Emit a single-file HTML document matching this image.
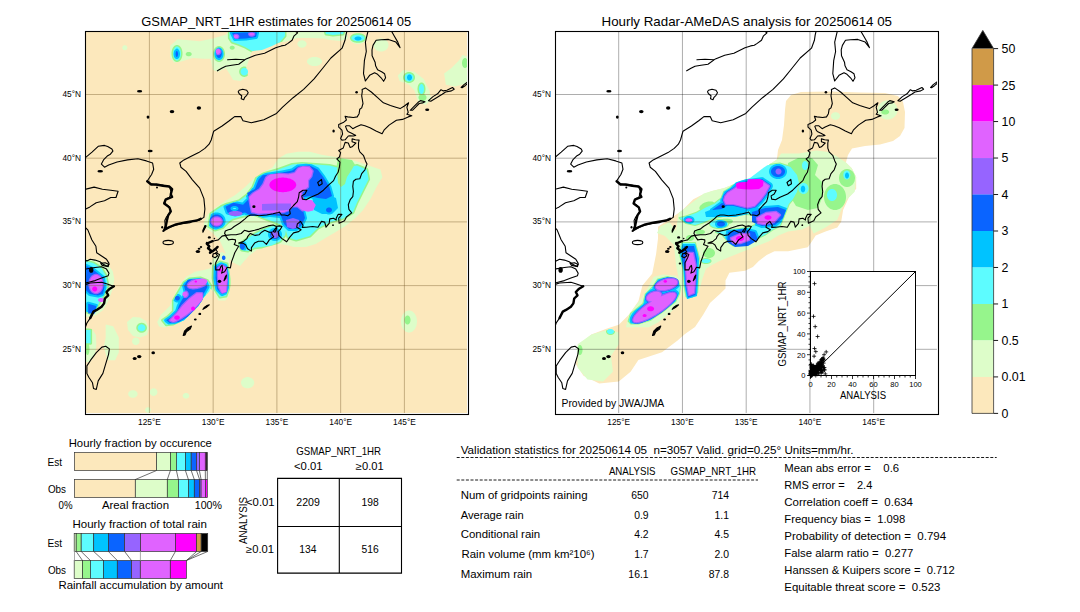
<!DOCTYPE html>
<html><head><meta charset="utf-8"><title>GSMaP validation</title>
<style>html,body{margin:0;padding:0;background:#fff;width:1080px;height:612px;overflow:hidden}svg{display:block}text{font-family:"Liberation Sans",sans-serif}</style></head>
<body><svg width="1080" height="612" viewBox="0 0 1080 612" shape-rendering="auto">
<rect x="0" y="0" width="1080" height="612" fill="#fff"/>
<defs><clipPath id="cl"><rect x="86" y="32" width="381" height="381"/></clipPath><clipPath id="cr"><rect x="556" y="32" width="381" height="381"/></clipPath></defs>
<rect x="86" y="32" width="381" height="381" fill="#fce8bc"/>
<path d="M127.2,46.9 127.1,46.7 127.0,46.6 127.0,46.5 126.9,46.3 126.8,46.2 126.7,46.1 126.6,45.9 126.4,45.8 126.3,45.7 126.2,45.6 126.1,45.5 125.9,45.5 125.8,45.4 125.6,45.3 125.4,45.3 125.3,45.2 125.1,45.2 125.0,45.2 124.8,45.2 124.6,45.2 124.5,45.2 124.3,45.2 124.2,45.3 124.0,45.3 123.8,45.4 123.7,45.5 123.6,45.5 123.4,45.6 123.3,45.7 123.2,45.8 123.0,45.9 122.9,46.1 122.8,46.2 122.7,46.3 122.6,46.5 122.6,46.6 122.5,46.7 122.4,46.9 122.4,47.1 122.3,47.2 122.3,47.4 122.3,47.5 122.3,47.7 122.3,47.9 122.3,48.0 122.3,48.2 122.4,48.3 122.4,48.5 122.5,48.7 122.6,48.8 122.6,49.0 122.7,49.1 122.8,49.2 122.9,49.3 123.0,49.5 123.2,49.6 123.3,49.7 123.4,49.8 123.6,49.9 123.7,49.9 123.8,50.0 124.0,50.1 124.2,50.1 124.3,50.2 124.5,50.2 124.6,50.2 124.8,50.2 125.0,50.2 125.1,50.2 125.3,50.2 125.4,50.1 125.6,50.1 125.8,50.0 125.9,49.9 126.1,49.9 126.2,49.8 126.3,49.7 126.4,49.6 126.6,49.5 126.7,49.3 126.8,49.2 126.9,49.1 127.0,49.0 127.0,48.8 127.1,48.7 127.2,48.5 127.2,48.3 127.3,48.2 127.3,48.0 127.3,47.9 127.3,47.7 127.3,47.5 127.3,47.4 127.3,47.2 127.2,47.1ZM107.8,302.0 112.7,289.0 114.3,279.2 112.7,271.0 107.8,264.5 96.3,259.6 86.0,259.6 86.0,316.7 89.8,316.7 96.3,315.1 102.9,310.2ZM185.9,277.1 178.8,286.1 173.4,296.9 169.8,305.9 160.8,314.9 157.2,322.0 159.0,326.5 164.4,327.4 173.4,325.6 180.6,322.0 187.7,314.9 194.9,305.9 202.1,298.7 207.5,293.3 209.3,287.9 214.7,293.3 218.3,300.5 225.5,300.5 229.1,295.1 230.9,282.5 229.1,266.3 229.1,258.1 232.0,262.0 240.1,265.9 245.1,260.0 249.0,255.7 256.9,249.8 266.7,246.9 278.4,243.9 286.3,244.9 294.1,246.9 305.9,246.9 315.7,243.9 325.5,238.0 335.3,232.2 345.1,226.3 354.9,218.4 362.7,210.6 370.6,198.8 376.5,187.1 382.4,177.3 380.4,169.4 368.6,165.5 356.9,161.6 347.1,158.6 333.3,156.7 321.6,154.7 309.8,151.8 298.0,151.8 286.3,153.7 278.4,158.6 272.5,167.5 262.7,172.4 252.9,179.2 245.1,187.1 235.3,194.9 225.5,200.8 215.7,207.6 207.8,214.5 203.9,222.4 203.9,226.3 211.8,232.2 219.6,240.0 226.0,254.0 226.1,254.1 221.9,252.0 212.9,257.4 212.0,262.0 211.1,268.1 203.9,269.9 194.9,271.7ZM146.0,321.0 140.0,317.5 133.0,317.0 127.0,322.0 128.0,330.0 133.0,336.0 140.0,337.5 147.0,335.0 149.0,328.0ZM139.2,339.9 139.1,339.7 139.0,339.4 138.9,339.2 138.7,339.0 138.6,338.9 138.4,338.7 138.2,338.5 138.1,338.4 137.9,338.2 137.6,338.1 137.4,338.0 137.2,337.9 137.0,337.8 136.8,337.7 136.5,337.7 136.3,337.6 136.0,337.6 135.8,337.6 135.6,337.6 135.3,337.6 135.1,337.7 134.8,337.7 134.6,337.8 134.4,337.9 134.2,338.0 133.9,338.1 133.7,338.2 133.5,338.4 133.4,338.5 133.2,338.7 133.0,338.9 132.9,339.0 132.7,339.2 132.6,339.4 132.5,339.7 132.4,339.9 132.3,340.1 132.2,340.3 132.2,340.6 132.1,340.8 132.1,341.1 132.1,341.3 132.1,341.5 132.1,341.8 132.2,342.0 132.2,342.3 132.3,342.5 132.4,342.7 132.5,342.9 132.6,343.1 132.7,343.4 132.9,343.6 133.0,343.7 133.2,343.9 133.4,344.1 133.5,344.2 133.7,344.4 133.9,344.5 134.2,344.6 134.4,344.7 134.6,344.8 134.8,344.9 135.1,344.9 135.3,345.0 135.6,345.0 135.8,345.0 136.0,345.0 136.3,345.0 136.5,344.9 136.8,344.9 137.0,344.8 137.2,344.7 137.4,344.6 137.6,344.5 137.9,344.4 138.1,344.2 138.2,344.1 138.4,343.9 138.6,343.7 138.7,343.6 138.9,343.4 139.0,343.1 139.1,342.9 139.2,342.7 139.3,342.5 139.4,342.3 139.4,342.0 139.5,341.8 139.5,341.5 139.5,341.3 139.5,341.1 139.5,340.8 139.4,340.6 139.4,340.3 139.3,340.1ZM118.8,352.6 118.8,337.6 113.2,326.3 105.7,324.4 105.7,337.6 103.8,347.0 107.6,360.2 115.1,360.2ZM96.0,335.0 92.0,329.0 86.0,328.1 86.0,362.0 90.0,362.0 95.0,355.0 96.3,345.0ZM157.2,390.9 157.1,390.6 157.0,390.4 156.9,390.2 156.8,390.0 156.6,389.8 156.5,389.6 156.3,389.4 156.1,389.2 155.9,389.1 155.7,388.9 155.5,388.8 155.3,388.7 155.1,388.6 154.8,388.5 154.6,388.4 154.3,388.4 154.1,388.3 153.8,388.3 153.6,388.3 153.4,388.3 153.1,388.3 152.9,388.4 152.6,388.4 152.4,388.5 152.1,388.6 151.9,388.7 151.7,388.8 151.5,388.9 151.3,389.1 151.1,389.2 150.9,389.4 150.7,389.6 150.6,389.8 150.4,390.0 150.3,390.2 150.2,390.4 150.1,390.6 150.0,390.9 149.9,391.1 149.9,391.4 149.8,391.6 149.8,391.9 149.8,392.1 149.8,392.3 149.8,392.6 149.9,392.8 149.9,393.1 150.0,393.3 150.1,393.6 150.2,393.8 150.3,394.0 150.4,394.2 150.6,394.4 150.7,394.6 150.9,394.8 151.1,395.0 151.3,395.1 151.5,395.3 151.7,395.4 151.9,395.5 152.1,395.6 152.4,395.7 152.6,395.8 152.9,395.8 153.1,395.9 153.4,395.9 153.6,395.9 153.8,395.9 154.1,395.9 154.3,395.8 154.6,395.8 154.8,395.7 155.1,395.6 155.3,395.5 155.5,395.4 155.7,395.3 155.9,395.1 156.1,395.0 156.3,394.8 156.5,394.6 156.6,394.4 156.8,394.2 156.9,394.0 157.0,393.8 157.1,393.6 157.2,393.3 157.3,393.1 157.3,392.8 157.4,392.6 157.4,392.3 157.4,392.1 157.4,391.9 157.4,391.6 157.3,391.4 157.3,391.1ZM137.2,392.5 137.1,392.3 137.0,392.1 136.8,391.9 136.6,391.7 136.4,391.5 136.2,391.3 136.0,391.1 135.8,391.0 135.5,390.8 135.2,390.7 135.0,390.6 134.7,390.5 134.4,390.4 134.1,390.3 133.8,390.3 133.5,390.2 133.2,390.2 132.9,390.2 132.6,390.2 132.3,390.2 132.0,390.3 131.7,390.3 131.4,390.4 131.1,390.5 130.8,390.6 130.6,390.7 130.3,390.8 130.0,391.0 129.8,391.1 129.6,391.3 129.4,391.5 129.2,391.7 129.0,391.9 128.8,392.1 128.7,392.3 128.6,392.5 128.4,392.8 128.4,393.0 128.3,393.3 128.2,393.5 128.2,393.8 128.2,394.0 128.2,394.2 128.2,394.5 128.3,394.7 128.4,395.0 128.4,395.2 128.6,395.5 128.7,395.7 128.8,395.9 129.0,396.1 129.2,396.3 129.4,396.5 129.6,396.7 129.8,396.9 130.0,397.0 130.3,397.2 130.6,397.3 130.8,397.4 131.1,397.5 131.4,397.6 131.7,397.7 132.0,397.7 132.3,397.8 132.6,397.8 132.9,397.8 133.2,397.8 133.5,397.8 133.8,397.7 134.1,397.7 134.4,397.6 134.7,397.5 135.0,397.4 135.2,397.3 135.5,397.2 135.8,397.0 136.0,396.9 136.2,396.7 136.4,396.5 136.6,396.3 136.8,396.1 137.0,395.9 137.1,395.7 137.2,395.5 137.4,395.2 137.4,395.0 137.5,394.7 137.6,394.5 137.6,394.2 137.6,394.0 137.6,393.8 137.6,393.5 137.5,393.3 137.4,393.0 137.4,392.8ZM189.0,394.7 189.0,394.6 188.9,394.4 188.7,394.2 188.6,394.1 188.5,394.0 188.3,393.8 188.2,393.7 188.0,393.6 187.8,393.5 187.6,393.4 187.5,393.3 187.3,393.2 187.1,393.1 186.9,393.1 186.6,393.1 186.4,393.0 186.2,393.0 186.0,393.0 185.8,393.0 185.6,393.0 185.4,393.1 185.1,393.1 184.9,393.1 184.7,393.2 184.5,393.3 184.4,393.4 184.2,393.5 184.0,393.6 183.8,393.7 183.7,393.8 183.5,394.0 183.4,394.1 183.3,394.2 183.1,394.4 183.0,394.6 183.0,394.7 182.9,394.9 182.8,395.1 182.8,395.3 182.7,395.4 182.7,395.6 182.7,395.8 182.7,396.0 182.7,396.2 182.8,396.3 182.8,396.5 182.9,396.7 183.0,396.9 183.0,397.0 183.1,397.2 183.3,397.4 183.4,397.5 183.5,397.6 183.7,397.8 183.8,397.9 184.0,398.0 184.2,398.1 184.4,398.2 184.5,398.3 184.7,398.4 184.9,398.5 185.1,398.5 185.4,398.5 185.6,398.6 185.8,398.6 186.0,398.6 186.2,398.6 186.4,398.6 186.6,398.5 186.9,398.5 187.1,398.5 187.3,398.4 187.5,398.3 187.6,398.2 187.8,398.1 188.0,398.0 188.2,397.9 188.3,397.8 188.5,397.6 188.6,397.5 188.7,397.4 188.9,397.2 189.0,397.0 189.0,396.9 189.1,396.7 189.2,396.5 189.2,396.3 189.3,396.2 189.3,396.0 189.3,395.8 189.3,395.6 189.3,395.4 189.2,395.3 189.2,395.1 189.1,394.9ZM150.7,409.1 150.6,408.9 150.5,408.8 150.4,408.6 150.3,408.4 150.2,408.3 150.1,408.2 150.0,408.0 149.8,407.9 149.7,407.8 149.6,407.7 149.4,407.6 149.2,407.5 149.1,407.4 148.9,407.3 148.7,407.3 148.5,407.3 148.4,407.2 148.2,407.2 148.0,407.2 147.8,407.2 147.6,407.2 147.5,407.3 147.3,407.3 147.1,407.3 146.9,407.4 146.8,407.5 146.6,407.6 146.4,407.7 146.3,407.8 146.2,407.9 146.0,408.0 145.9,408.2 145.8,408.3 145.7,408.4 145.6,408.6 145.5,408.8 145.4,408.9 145.3,409.1 145.3,409.3 145.3,409.5 145.2,409.6 145.2,409.8 145.2,410.0 145.2,410.2 145.2,410.4 145.3,410.5 145.3,410.7 145.3,410.9 145.4,411.1 145.5,411.2 145.6,411.4 145.7,411.6 145.8,411.7 145.9,411.8 146.0,412.0 146.2,412.1 146.3,412.2 146.4,412.3 146.6,412.4 146.8,412.5 146.9,412.6 147.1,412.7 147.3,412.7 147.5,412.7 147.6,412.8 147.8,412.8 148.0,412.8 148.2,412.8 148.4,412.8 148.5,412.7 148.7,412.7 148.9,412.7 149.1,412.6 149.2,412.5 149.4,412.4 149.6,412.3 149.7,412.2 149.8,412.1 150.0,412.0 150.1,411.8 150.2,411.7 150.3,411.6 150.4,411.4 150.5,411.2 150.6,411.1 150.7,410.9 150.7,410.7 150.7,410.5 150.8,410.4 150.8,410.2 150.8,410.0 150.8,409.8 150.8,409.6 150.7,409.5 150.7,409.3ZM366.0,36.7 365.9,36.4 365.6,36.1 365.4,35.8 365.1,35.4 364.7,35.2 364.4,34.9 364.0,34.6 363.6,34.4 363.2,34.1 362.7,33.9 362.2,33.7 361.8,33.6 361.3,33.4 360.7,33.3 360.2,33.2 359.7,33.1 359.1,33.0 358.6,33.0 358.0,33.0 357.4,33.0 356.9,33.0 356.3,33.1 355.8,33.2 355.3,33.3 354.7,33.4 354.2,33.6 353.8,33.7 353.3,33.9 352.8,34.1 352.4,34.4 352.0,34.6 351.6,34.9 351.3,35.2 350.9,35.4 350.6,35.8 350.4,36.1 350.1,36.4 350.0,36.7 349.8,37.1 349.7,37.4 349.6,37.8 349.5,38.1 349.5,38.5 349.5,38.9 349.6,39.2 349.7,39.6 349.8,39.9 350.0,40.3 350.1,40.6 350.4,40.9 350.6,41.2 350.9,41.6 351.3,41.8 351.6,42.1 352.0,42.4 352.4,42.6 352.8,42.9 353.3,43.1 353.8,43.3 354.2,43.4 354.7,43.6 355.3,43.7 355.8,43.8 356.3,43.9 356.9,44.0 357.4,44.0 358.0,44.0 358.6,44.0 359.1,44.0 359.7,43.9 360.2,43.8 360.7,43.7 361.3,43.6 361.8,43.4 362.2,43.3 362.7,43.1 363.2,42.9 363.6,42.6 364.0,42.4 364.4,42.1 364.7,41.8 365.1,41.6 365.4,41.2 365.6,40.9 365.9,40.6 366.0,40.3 366.2,39.9 366.3,39.6 366.4,39.2 366.5,38.9 366.5,38.5 366.5,38.1 366.4,37.8 366.3,37.4 366.2,37.1ZM306.4,42.8 306.2,42.6 306.1,42.4 306.0,42.2 305.8,41.9 305.6,41.7 305.5,41.6 305.3,41.4 305.0,41.2 304.8,41.1 304.6,40.9 304.3,40.8 304.0,40.7 303.8,40.6 303.5,40.5 303.2,40.4 302.9,40.4 302.6,40.3 302.3,40.3 302.0,40.3 301.7,40.3 301.4,40.3 301.1,40.4 300.8,40.4 300.5,40.5 300.2,40.6 300.0,40.7 299.7,40.8 299.4,40.9 299.2,41.1 299.0,41.2 298.7,41.4 298.5,41.6 298.4,41.7 298.2,41.9 298.0,42.2 297.9,42.4 297.8,42.6 297.6,42.8 297.6,43.0 297.5,43.3 297.4,43.5 297.4,43.8 297.4,44.0 297.4,44.2 297.4,44.5 297.5,44.7 297.6,45.0 297.6,45.2 297.8,45.4 297.9,45.6 298.0,45.8 298.2,46.1 298.4,46.3 298.5,46.4 298.7,46.6 299.0,46.8 299.2,46.9 299.4,47.1 299.7,47.2 300.0,47.3 300.2,47.4 300.5,47.5 300.8,47.6 301.1,47.6 301.4,47.7 301.7,47.7 302.0,47.7 302.3,47.7 302.6,47.7 302.9,47.6 303.2,47.6 303.5,47.5 303.8,47.4 304.0,47.3 304.3,47.2 304.6,47.1 304.8,46.9 305.0,46.8 305.3,46.6 305.5,46.4 305.6,46.3 305.8,46.1 306.0,45.8 306.1,45.6 306.2,45.4 306.4,45.2 306.4,45.0 306.5,44.7 306.6,44.5 306.6,44.2 306.6,44.0 306.6,43.8 306.6,43.5 306.5,43.3 306.4,43.0ZM387.9,42.5 387.7,42.1 387.5,41.8 387.2,41.4 387.0,41.0 386.6,40.7 386.3,40.4 385.9,40.1 385.6,39.8 385.2,39.6 384.8,39.4 384.3,39.2 383.9,39.0 383.4,38.8 382.9,38.7 382.5,38.6 382.0,38.6 381.5,38.5 381.0,38.5 380.5,38.5 380.0,38.6 379.5,38.6 379.1,38.7 378.6,38.8 378.1,39.0 377.7,39.2 377.2,39.4 376.8,39.6 376.4,39.8 376.1,40.1 375.7,40.4 375.4,40.7 375.0,41.0 374.8,41.4 374.5,41.8 374.3,42.1 374.1,42.5 373.9,42.9 373.8,43.3 373.6,43.7 373.6,44.2 373.5,44.6 373.5,45.0 373.5,45.4 373.6,45.8 373.6,46.3 373.8,46.7 373.9,47.1 374.1,47.5 374.3,47.9 374.5,48.2 374.8,48.6 375.0,49.0 375.4,49.3 375.7,49.6 376.1,49.9 376.4,50.2 376.8,50.4 377.2,50.6 377.7,50.8 378.1,51.0 378.6,51.2 379.1,51.3 379.5,51.4 380.0,51.4 380.5,51.5 381.0,51.5 381.5,51.5 382.0,51.4 382.5,51.4 382.9,51.3 383.4,51.2 383.9,51.0 384.3,50.8 384.8,50.6 385.2,50.4 385.6,50.2 385.9,49.9 386.3,49.6 386.6,49.3 387.0,49.0 387.2,48.6 387.5,48.2 387.7,47.9 387.9,47.5 388.1,47.1 388.2,46.7 388.4,46.3 388.4,45.8 388.5,45.4 388.5,45.0 388.5,44.6 388.4,44.2 388.4,43.7 388.2,43.3 388.1,42.9ZM210.9,58.8 212.8,69.9 218.3,71.7 225.7,68.0 229.4,73.6 233.1,80.1 240.6,81.0 248.0,75.4 246.1,68.0 248.0,62.5 251.7,51.4 260.9,48.6 270.2,45.8 281.3,42.1 285.0,42.1 297.0,38.0 310.0,38.0 323.7,38.4 330.0,40.0 340.0,41.0 347.8,38.4 346.3,32.0 228.2,32.0 225.7,34.7 212.8,38.4 199.8,41.2 188.7,40.3 177.6,39.3 170.2,45.8 170.2,56.9 173.9,62.5 181.3,61.6 192.4,57.9 203.5,58.8ZM321.6,60.0 321.4,59.7 321.2,59.5 321.0,59.2 320.7,58.9 320.5,58.7 320.1,58.5 319.8,58.2 319.4,58.0 319.1,57.9 318.7,57.7 318.2,57.5 317.8,57.4 317.4,57.3 316.9,57.1 316.4,57.1 316.0,57.0 315.5,56.9 315.0,56.9 314.5,56.9 314.0,56.9 313.5,56.9 313.0,57.0 312.6,57.1 312.1,57.1 311.6,57.3 311.2,57.4 310.8,57.5 310.3,57.7 309.9,57.9 309.6,58.0 309.2,58.2 308.9,58.5 308.5,58.7 308.3,58.9 308.0,59.2 307.8,59.5 307.6,59.7 307.4,60.0 307.3,60.3 307.1,60.6 307.1,60.9 307.0,61.2 307.0,61.5 307.0,61.8 307.1,62.1 307.1,62.4 307.3,62.7 307.4,63.0 307.6,63.3 307.8,63.5 308.0,63.8 308.3,64.1 308.5,64.3 308.9,64.5 309.2,64.8 309.6,65.0 309.9,65.1 310.3,65.3 310.8,65.5 311.2,65.6 311.6,65.7 312.1,65.9 312.6,65.9 313.0,66.0 313.5,66.1 314.0,66.1 314.5,66.1 315.0,66.1 315.5,66.1 316.0,66.0 316.4,65.9 316.9,65.9 317.4,65.7 317.8,65.6 318.2,65.5 318.7,65.3 319.1,65.1 319.4,65.0 319.8,64.8 320.1,64.5 320.5,64.3 320.7,64.1 321.0,63.8 321.2,63.5 321.4,63.3 321.6,63.0 321.7,62.7 321.9,62.4 321.9,62.1 322.0,61.8 322.0,61.5 322.0,61.2 321.9,60.9 321.9,60.6 321.7,60.3ZM467.0,83.2 467.0,56.6 462.6,55.1 458.9,60.6 451.5,68.0 444.1,73.6 445.9,84.7 455.2,86.6ZM425.6,105.1 431.1,99.5 429.3,90.3 423.7,79.1 414.4,71.7 403.3,69.9 397.8,75.4 399.6,81.0 408.9,84.7 414.4,90.3 418.1,101.4ZM416.4,317.3 416.2,316.6 415.9,316.0 415.7,315.4 415.3,314.8 415.0,314.2 414.7,313.7 414.3,313.2 413.9,312.8 413.4,312.4 413.0,312.0 412.5,311.6 412.1,311.3 411.6,311.1 411.1,310.9 410.6,310.7 410.0,310.6 409.5,310.5 409.0,310.5 408.5,310.5 408.0,310.6 407.4,310.7 406.9,310.9 406.4,311.1 405.9,311.3 405.5,311.6 405.0,312.0 404.6,312.4 404.1,312.8 403.7,313.2 403.3,313.7 403.0,314.2 402.7,314.8 402.3,315.4 402.1,316.0 401.8,316.6 401.6,317.3 401.4,318.0 401.3,318.7 401.2,319.4 401.1,320.1 401.0,320.8 401.0,321.5 401.0,322.2 401.1,322.9 401.2,323.6 401.3,324.3 401.4,325.0 401.6,325.7 401.8,326.4 402.1,327.0 402.3,327.6 402.7,328.2 403.0,328.8 403.3,329.3 403.7,329.8 404.1,330.2 404.6,330.6 405.0,331.0 405.5,331.4 405.9,331.7 406.4,331.9 406.9,332.1 407.4,332.3 408.0,332.4 408.5,332.5 409.0,332.5 409.5,332.5 410.0,332.4 410.6,332.3 411.1,332.1 411.6,331.9 412.1,331.7 412.5,331.4 413.0,331.0 413.4,330.6 413.9,330.2 414.3,329.8 414.7,329.3 415.0,328.8 415.3,328.2 415.7,327.6 415.9,327.0 416.2,326.4 416.4,325.7 416.6,325.0 416.7,324.3 416.8,323.6 416.9,322.9 417.0,322.2 417.0,321.5 417.0,320.8 416.9,320.1 416.8,319.4 416.7,318.7 416.6,318.0ZM253.7,380.6 253.5,380.2 253.3,379.9 253.1,379.6 252.8,379.3 252.6,379.0 252.3,378.7 252.0,378.5 251.6,378.3 251.3,378.0 250.9,377.9 250.5,377.7 250.1,377.5 249.7,377.4 249.3,377.3 248.9,377.2 248.5,377.1 248.0,377.1 247.6,377.1 247.2,377.1 246.7,377.1 246.3,377.2 245.9,377.3 245.5,377.4 245.1,377.5 244.7,377.7 244.3,377.9 243.9,378.0 243.6,378.3 243.2,378.5 242.9,378.7 242.6,379.0 242.4,379.3 242.1,379.6 241.9,379.9 241.7,380.2 241.5,380.6 241.4,380.9 241.2,381.3 241.1,381.6 241.1,382.0 241.0,382.3 241.0,382.7 241.0,383.1 241.1,383.4 241.1,383.8 241.2,384.1 241.4,384.5 241.5,384.8 241.7,385.2 241.9,385.5 242.1,385.8 242.4,386.1 242.6,386.4 242.9,386.7 243.2,386.9 243.6,387.1 243.9,387.4 244.3,387.5 244.7,387.7 245.1,387.9 245.5,388.0 245.9,388.1 246.3,388.2 246.7,388.3 247.2,388.3 247.6,388.3 248.0,388.3 248.5,388.3 248.9,388.2 249.3,388.1 249.7,388.0 250.1,387.9 250.5,387.7 250.9,387.5 251.3,387.4 251.6,387.1 252.0,386.9 252.3,386.7 252.6,386.4 252.8,386.1 253.1,385.8 253.3,385.5 253.5,385.2 253.7,384.8 253.8,384.5 254.0,384.1 254.1,383.8 254.1,383.4 254.2,383.1 254.2,382.7 254.2,382.3 254.1,382.0 254.1,381.6 254.0,381.3 253.8,380.9Z" fill="#ddfdc9"/>
<path d="M234.4,46.8 234.4,46.7 234.3,46.6 234.2,46.5 234.1,46.4 234.0,46.3 233.8,46.2 233.7,46.1 233.6,46.0 233.4,46.0 233.3,45.9 233.2,45.9 233.0,45.8 232.8,45.8 232.7,45.7 232.5,45.7 232.4,45.7 232.2,45.7 232.0,45.7 231.9,45.7 231.7,45.7 231.6,45.8 231.4,45.8 231.2,45.9 231.1,45.9 230.9,46.0 230.8,46.0 230.7,46.1 230.6,46.2 230.4,46.3 230.3,46.4 230.2,46.5 230.1,46.6 230.0,46.7 230.0,46.8 229.9,46.9 229.8,47.1 229.8,47.2 229.7,47.3 229.7,47.4 229.7,47.6 229.7,47.7 229.7,47.8 229.7,48.0 229.7,48.1 229.8,48.2 229.8,48.3 229.9,48.5 230.0,48.6 230.0,48.7 230.1,48.8 230.2,48.9 230.3,49.0 230.4,49.1 230.6,49.2 230.7,49.3 230.8,49.4 230.9,49.4 231.1,49.5 231.2,49.5 231.4,49.6 231.6,49.6 231.7,49.7 231.9,49.7 232.0,49.7 232.2,49.7 232.4,49.7 232.5,49.7 232.7,49.7 232.8,49.6 233.0,49.6 233.2,49.5 233.3,49.5 233.4,49.4 233.6,49.4 233.7,49.3 233.8,49.2 234.0,49.1 234.1,49.0 234.2,48.9 234.3,48.8 234.4,48.7 234.4,48.6 234.5,48.5 234.6,48.3 234.6,48.2 234.7,48.1 234.7,48.0 234.7,47.8 234.7,47.7 234.7,47.6 234.7,47.4 234.7,47.3 234.6,47.2 234.6,47.1 234.5,46.9ZM182.0,50.0 182.0,50.0 181.9,49.6 181.9,49.5 181.7,49.1 181.7,49.0 181.6,48.7 181.5,48.6 181.4,48.2 181.3,48.2 181.2,47.8 181.1,47.8 180.9,47.5 180.9,47.4 180.7,47.1 180.6,47.0 180.4,46.7 180.3,46.7 180.1,46.4 180.0,46.3 179.8,46.1 179.7,46.0 179.5,45.9 179.4,45.8 179.1,45.6 179.0,45.5 178.7,45.4 178.6,45.3 178.3,45.2 178.2,45.2 177.9,45.1 177.8,45.1 177.5,45.0 177.3,45.0 177.1,45.0 176.9,45.0 176.7,45.0 176.5,45.0 176.2,45.1 176.1,45.1 175.8,45.2 175.7,45.2 175.4,45.3 175.3,45.4 175.0,45.5 174.9,45.6 174.6,45.8 174.5,45.9 174.3,46.0 174.2,46.1 174.0,46.3 173.9,46.4 173.7,46.7 173.6,46.7 173.4,47.0 173.3,47.1 173.1,47.4 173.1,47.5 172.9,47.8 172.8,47.8 172.7,48.2 172.6,48.2 172.5,48.6 172.4,48.7 172.3,49.0 172.3,49.1 172.1,49.5 172.1,49.6 172.0,50.0 172.0,50.0 171.9,50.4 171.8,50.5 171.7,50.9 171.7,51.0 171.7,51.4 171.6,51.5 171.6,51.9 171.6,52.0 171.5,52.4 171.5,52.5 171.5,53.0 171.5,53.0 171.5,53.5 171.5,53.5 171.5,54.0 171.5,54.0 171.5,54.5 171.5,54.6 171.6,55.0 171.6,55.1 171.6,55.5 171.7,55.6 171.7,56.0 171.7,56.1 171.8,56.5 171.9,56.6 172.0,57.0 172.0,57.0 172.1,57.4 172.1,57.5 172.3,57.9 172.3,58.0 172.4,58.3 172.5,58.4 172.6,58.8 172.7,58.8 172.8,59.2 172.9,59.2 173.1,59.5 173.1,59.6 173.3,59.9 173.4,60.0 173.6,60.3 173.7,60.3 173.9,60.6 174.0,60.7 174.2,60.9 174.3,61.0 174.5,61.1 174.6,61.2 174.9,61.4 175.0,61.5 175.3,61.6 175.4,61.7 175.7,61.8 175.8,61.8 176.1,61.9 176.2,61.9 176.5,62.0 176.7,62.0 176.9,62.0 177.1,62.0 177.3,62.0 177.5,62.0 177.8,61.9 177.9,61.9 178.2,61.8 178.3,61.8 178.6,61.7 178.7,61.6 179.0,61.5 179.1,61.4 179.4,61.2 179.5,61.1 179.7,61.0 179.8,60.9 180.0,60.7 180.1,60.6 180.3,60.3 180.4,60.3 180.6,60.0 180.7,59.9 180.9,59.6 180.9,59.5 181.1,59.2 181.2,59.2 181.3,58.8 181.4,58.8 181.5,58.4 181.6,58.3 181.7,58.0 181.7,57.9 181.9,57.5 181.9,57.4 182.0,57.0 182.0,57.0 182.1,56.6 182.2,56.5 182.3,56.1 182.3,56.0 182.3,55.6 182.4,55.5 182.4,55.1 182.4,55.0 182.5,54.6 182.5,54.5 182.5,54.0 182.5,54.0 182.5,53.5 182.5,53.5 182.5,53.0 182.5,53.0 182.5,52.5 182.5,52.4 182.4,52.0 182.4,51.9 182.4,51.5 182.3,51.4 182.3,51.0 182.3,50.9 182.2,50.5 182.1,50.4ZM224.3,50.2 224.3,50.2 224.1,49.8 224.1,49.7 223.9,49.4 223.9,49.3 223.7,49.0 223.6,48.9 223.4,48.6 223.4,48.5 223.2,48.2 223.1,48.1 222.9,47.9 222.8,47.8 222.6,47.6 222.5,47.5 222.3,47.3 222.2,47.2 221.9,47.0 221.8,46.9 221.5,46.7 221.4,46.7 221.2,46.5 221.0,46.5 220.8,46.3 220.6,46.3 220.4,46.2 220.2,46.2 219.9,46.1 219.8,46.1 219.5,46.0 219.4,46.0 219.1,46.0 218.9,46.0 218.6,46.0 218.5,46.0 218.2,46.1 218.1,46.1 217.8,46.2 217.6,46.2 217.4,46.3 217.2,46.3 217.0,46.5 216.8,46.5 216.6,46.7 216.5,46.7 216.2,46.9 216.1,47.0 215.8,47.2 215.7,47.3 215.5,47.5 215.4,47.6 215.2,47.8 215.1,47.9 214.9,48.1 214.8,48.2 214.6,48.5 214.6,48.6 214.4,48.9 214.3,49.0 214.1,49.3 214.1,49.4 213.9,49.7 213.9,49.8 213.7,50.2 213.7,50.2 213.6,50.6 213.5,50.7 213.4,51.1 213.4,51.1 213.3,51.5 213.3,51.6 213.2,52.0 213.2,52.1 213.1,52.5 213.1,52.6 213.0,53.0 213.0,53.0 213.0,53.5 213.0,53.5 213.0,54.0 213.0,54.0 213.0,54.5 213.0,54.5 213.0,55.0 213.0,55.0 213.1,55.4 213.1,55.5 213.2,55.9 213.2,56.0 213.3,56.4 213.3,56.5 213.4,56.9 213.4,56.9 213.5,57.3 213.6,57.4 213.7,57.8 213.7,57.8 213.9,58.2 213.9,58.3 214.1,58.6 214.1,58.7 214.3,59.0 214.4,59.1 214.6,59.4 214.6,59.5 214.8,59.8 214.9,59.9 215.1,60.1 215.2,60.2 215.4,60.4 215.5,60.5 215.7,60.7 215.8,60.8 216.1,61.0 216.2,61.1 216.5,61.3 216.6,61.3 216.8,61.5 217.0,61.5 217.2,61.7 217.4,61.7 217.6,61.8 217.8,61.8 218.1,61.9 218.2,61.9 218.5,62.0 218.6,62.0 218.9,62.0 219.1,62.0 219.4,62.0 219.5,62.0 219.8,61.9 219.9,61.9 220.2,61.8 220.4,61.8 220.6,61.7 220.8,61.7 221.0,61.5 221.2,61.5 221.4,61.3 221.5,61.3 221.8,61.1 221.9,61.0 222.2,60.8 222.3,60.7 222.5,60.5 222.6,60.4 222.8,60.2 222.9,60.1 223.1,59.9 223.2,59.8 223.4,59.5 223.4,59.4 223.6,59.1 223.7,59.0 223.9,58.7 223.9,58.6 224.1,58.3 224.1,58.2 224.3,57.8 224.3,57.8 224.4,57.4 224.5,57.3 224.6,56.9 224.6,56.9 224.7,56.5 224.7,56.4 224.8,56.0 224.8,55.9 224.9,55.5 224.9,55.4 225.0,55.0 225.0,55.0 225.0,54.5 225.0,54.5 225.0,54.0 225.0,54.0 225.0,53.5 225.0,53.5 225.0,53.0 225.0,53.0 224.9,52.6 224.9,52.5 224.8,52.1 224.8,52.0 224.7,51.6 224.7,51.5 224.6,51.1 224.6,51.1 224.5,50.7 224.4,50.6ZM191.2,52.9 191.1,52.8 191.0,52.6 190.8,52.5 190.7,52.4 190.5,52.4 190.4,52.3 190.2,52.2 190.0,52.1 189.8,52.1 189.7,52.0 189.5,52.0 189.3,51.9 189.1,51.9 188.9,51.9 188.7,51.9 188.5,51.9 188.3,51.9 188.1,51.9 187.9,52.0 187.7,52.0 187.6,52.1 187.4,52.1 187.2,52.2 187.0,52.3 186.9,52.4 186.7,52.4 186.6,52.5 186.4,52.6 186.3,52.8 186.2,52.9 186.1,53.0 186.0,53.1 185.9,53.3 185.9,53.4 185.8,53.5 185.8,53.7 185.7,53.8 185.7,54.0 185.7,54.1 185.7,54.2 185.7,54.4 185.8,54.5 185.8,54.7 185.9,54.8 185.9,54.9 186.0,55.1 186.1,55.2 186.2,55.3 186.3,55.4 186.4,55.6 186.6,55.7 186.7,55.8 186.9,55.8 187.0,55.9 187.2,56.0 187.4,56.1 187.6,56.1 187.7,56.2 187.9,56.2 188.1,56.3 188.3,56.3 188.5,56.3 188.7,56.3 188.9,56.3 189.1,56.3 189.3,56.3 189.5,56.2 189.7,56.2 189.8,56.1 190.0,56.1 190.2,56.0 190.4,55.9 190.5,55.8 190.7,55.8 190.8,55.7 191.0,55.6 191.1,55.4 191.2,55.3 191.3,55.2 191.4,55.1 191.5,54.9 191.5,54.8 191.6,54.7 191.6,54.5 191.7,54.4 191.7,54.2 191.7,54.1 191.7,54.0 191.7,53.8 191.6,53.7 191.6,53.5 191.5,53.4 191.5,53.3 191.4,53.1 191.3,53.0ZM245.4,66.6 245.3,66.6 245.0,66.6 244.9,66.5 244.7,66.5 244.6,66.5 244.3,66.5 244.3,66.5 244.0,66.5 243.9,66.5 243.7,66.5 243.6,66.6 243.3,66.6 243.2,66.6 243.0,66.7 242.9,66.7 242.7,66.8 242.6,66.8 242.4,66.9 242.3,66.9 242.0,67.0 242.0,67.1 241.7,67.2 241.7,67.2 241.5,67.3 241.4,67.4 241.2,67.5 241.1,67.6 240.9,67.8 240.8,67.8 240.7,68.0 240.6,68.1 240.4,68.2 240.4,68.3 240.2,68.5 240.1,68.6 240.0,68.8 239.9,68.9 239.8,69.1 239.8,69.1 239.7,69.4 239.6,69.4 239.5,69.7 239.5,69.8 239.4,70.0 239.4,70.1 239.3,70.3 239.3,70.4 239.2,70.6 239.2,70.7 239.2,71.0 239.1,71.1 239.1,71.3 239.1,71.4 239.1,71.7 239.1,71.7 239.1,72.0 239.1,72.1 239.1,72.3 239.2,72.4 239.2,72.7 239.2,72.8 239.3,73.0 239.3,73.1 239.4,73.3 239.4,73.4 239.5,73.6 239.5,73.7 239.6,74.0 239.7,74.0 239.8,74.3 239.8,74.3 239.9,74.5 240.0,74.6 240.1,74.8 240.2,74.9 240.4,75.1 240.4,75.2 240.6,75.3 240.7,75.4 240.8,75.6 240.9,75.6 241.1,75.8 241.2,75.9 241.4,76.0 241.5,76.1 241.7,76.2 241.7,76.2 242.0,76.3 242.0,76.4 242.3,76.5 242.4,76.5 242.6,76.6 242.7,76.6 242.9,76.7 243.0,76.7 243.2,76.8 243.3,76.8 243.6,76.8 243.7,76.9 243.9,76.9 244.0,76.9 244.3,76.9 244.3,76.9 244.6,76.9 244.7,76.9 244.9,76.9 245.0,76.8 245.3,76.8 245.4,76.8 245.6,76.7 245.7,76.7 245.9,76.6 246.0,76.6 246.2,76.5 246.3,76.5 246.6,76.4 246.6,76.3 246.9,76.2 246.9,76.2 247.1,76.1 247.8,75.6 247.8,75.6 247.9,75.4 248.0,75.4 246.1,68.0 246.5,67.0 246.3,66.9 246.2,66.9 246.0,66.8 245.9,66.8 245.7,66.7 245.6,66.7ZM228.3,263.3 228.3,263.2 228.2,263.1 228.1,262.9 227.9,262.8 227.8,262.7 227.7,262.7 227.6,262.6 227.4,262.6 220.4,260.6 220.3,260.5 220.1,260.5 220.0,260.5 219.8,260.5 219.6,260.5 219.5,260.6 219.4,260.6 219.2,260.7 212.7,264.7 212.6,264.8 212.5,264.9 212.4,265.0 212.3,265.1 212.2,265.2 212.1,265.4 212.1,265.5 212.0,265.6 212.0,265.8 212.0,265.9 211.5,277.9 211.5,278.1 211.5,278.2 211.5,278.3 214.0,290.3 214.1,290.4 214.1,290.6 214.2,290.7 214.2,290.8 218.7,297.8 218.8,297.9 218.9,298.0 219.0,298.1 219.1,298.2 219.3,298.3 219.4,298.4 219.5,298.4 219.7,298.5 219.8,298.5 220.0,298.5 220.1,298.5 220.2,298.5 226.2,297.5 226.4,297.4 226.5,297.4 226.7,297.4 226.8,297.3 226.9,297.2 227.0,297.1 227.1,297.0 227.2,296.9 227.3,296.8 227.3,296.7 227.4,296.5 229.8,290.1 230.5,285.3 230.5,278.9 229.3,268.5 228.5,263.7 228.4,263.6 228.4,263.4ZM109.3,286.0 109.3,285.9 109.3,285.7 109.3,285.6 109.3,285.4 107.6,275.6 107.5,275.5 107.5,275.4 107.5,275.2 107.4,275.1 102.5,267.0 102.4,266.9 102.3,266.8 102.2,266.7 102.1,266.6 102.0,266.5 93.9,261.6 93.7,261.5 93.6,261.5 93.4,261.4 86.0,259.7 86.0,313.2 86.0,313.2 90.9,314.9 91.1,315.0 91.2,315.0 91.4,315.0 91.5,315.0 91.7,315.0 91.8,314.9 92.0,314.9 92.1,314.8 92.2,314.8 92.3,314.7 92.5,314.6 97.4,309.7 97.5,309.5 97.6,309.4 97.6,309.3 100.9,302.7 105.8,294.7 105.8,294.6 105.9,294.5 109.2,286.3 109.2,286.1ZM212.6,285.8 212.5,285.7 212.5,285.5 212.4,285.4 212.3,285.3 208.7,279.9 208.7,279.7 208.5,279.6 208.4,279.5 208.3,279.4 208.2,279.4 208.0,279.3 200.8,276.6 200.7,276.6 200.6,276.5 200.4,276.5 200.3,276.5 200.2,276.5 189.4,277.4 189.2,277.4 189.1,277.5 188.9,277.5 188.8,277.6 188.7,277.7 183.3,281.3 183.2,281.3 183.1,281.4 183.0,281.5 182.9,281.6 182.8,281.7 177.5,290.7 172.6,299.0 171.9,300.6 171.9,310.7 167.0,315.5 161.8,319.1 161.6,319.1 161.5,319.2 161.4,319.3 161.4,319.5 161.3,319.6 161.2,319.7 161.2,319.9 161.1,320.0 161.1,320.2 161.1,320.3 161.1,320.4 161.1,320.6 161.2,320.7 161.2,320.9 161.3,321.0 161.4,321.1 161.4,321.2 165.0,325.6 165.1,325.8 165.2,325.9 165.4,325.9 165.5,326.0 165.6,326.1 165.8,326.1 165.9,326.2 166.0,326.2 166.2,326.2 166.3,326.2 173.5,325.6 180.6,322.0 187.7,314.9 194.9,305.9 202.1,298.7 207.5,293.3 209.3,287.9 211.4,290.0 212.5,286.6 212.6,286.4 212.6,286.3 212.6,286.1 212.6,286.0ZM146.1,325.2 146.0,325.0 145.9,324.9 145.8,324.7 145.7,324.7 145.6,324.5 145.5,324.4 145.3,324.3 145.3,324.2 145.1,324.0 145.0,324.0 144.8,323.8 144.7,323.8 144.5,323.6 144.5,323.6 144.2,323.5 144.2,323.4 143.9,323.3 143.9,323.3 143.6,323.2 143.5,323.1 143.3,323.1 143.2,323.0 143.0,323.0 142.9,323.0 142.7,322.9 142.6,322.9 142.3,322.8 142.2,322.8 142.0,322.8 141.9,322.8 141.6,322.8 141.6,322.8 141.3,322.8 141.2,322.8 141.0,322.8 140.9,322.8 140.6,322.9 140.5,322.9 140.3,323.0 140.2,323.0 140.0,323.0 139.9,323.1 139.7,323.1 139.6,323.2 139.3,323.3 139.3,323.3 139.0,323.4 139.0,323.5 138.7,323.6 138.7,323.6 138.5,323.8 138.4,323.8 138.2,324.0 138.1,324.0 137.9,324.2 137.9,324.3 137.7,324.4 137.6,324.5 137.5,324.7 137.4,324.7 137.3,324.9 137.2,325.0 137.1,325.2 137.0,325.3 136.9,325.5 136.8,325.6 136.7,325.8 136.7,325.9 136.6,326.1 136.6,326.2 136.5,326.4 136.5,326.5 136.4,326.7 136.4,326.9 136.4,327.1 136.3,327.2 136.3,327.4 136.3,327.5 136.3,327.7 136.3,327.9 136.3,328.1 136.3,328.2 136.3,328.4 136.4,328.5 136.4,328.7 136.4,328.9 136.5,329.1 136.5,329.2 136.6,329.4 136.6,329.5 136.7,329.7 136.7,329.8 136.8,330.0 136.9,330.1 137.0,330.3 137.1,330.4 137.2,330.6 137.3,330.7 137.4,330.9 137.5,330.9 137.6,331.1 137.7,331.2 137.9,331.3 137.9,331.4 138.1,331.6 138.2,331.6 138.4,331.8 138.5,331.8 138.7,332.0 138.7,332.0 139.0,332.1 139.0,332.2 139.3,332.3 139.3,332.3 139.6,332.4 139.7,332.5 139.9,332.5 140.0,332.6 140.2,332.6 140.3,332.6 140.5,332.7 140.6,332.7 140.9,332.8 141.0,332.8 141.2,332.8 141.3,332.8 141.6,332.8 141.6,332.8 141.9,332.8 142.0,332.8 142.2,332.8 142.3,332.8 142.6,332.7 142.7,332.7 142.9,332.6 143.0,332.6 143.2,332.6 143.3,332.5 143.5,332.5 143.6,332.4 143.9,332.3 143.9,332.3 144.2,332.2 144.2,332.1 144.5,332.0 144.5,332.0 144.7,331.8 144.8,331.8 145.0,331.6 145.1,331.6 145.3,331.4 145.3,331.3 145.5,331.2 145.6,331.1 145.7,330.9 145.8,330.9 145.9,330.7 146.0,330.6 146.1,330.4 146.2,330.3 146.3,330.1 146.4,330.0 146.5,329.8 146.5,329.7 146.6,329.5 146.6,329.4 146.7,329.2 146.7,329.1 146.8,328.9 146.8,328.7 146.8,328.5 146.9,328.4 146.9,328.2 146.9,328.1 146.9,327.9 146.9,327.7 146.9,327.5 146.9,327.4 146.9,327.2 146.8,327.1 146.8,326.9 146.8,326.7 146.7,326.5 146.7,326.4 146.6,326.2 146.6,326.1 146.5,325.9 146.5,325.8 146.4,325.6 146.3,325.5 146.2,325.3ZM91.4,344.4 91.6,344.4 91.7,344.3 91.8,344.2 91.8,344.0 91.9,343.9 92.0,343.8 92.0,343.6 92.1,343.5 92.1,343.3 92.1,343.2 92.1,330.0 92.1,329.9 92.1,329.7 92.0,329.6 92.0,329.4 91.9,329.3 91.8,329.2 91.8,329.0 91.7,328.9 88.8,328.5 86.0,328.5 86.0,344.7 86.1,344.7 86.1,344.8 86.0,345.0 86.0,353.0 86.1,353.2 86.2,353.5 86.3,353.8 86.4,354.0 86.5,354.2 86.6,354.4 86.7,354.5 86.9,354.7 87.0,354.8 87.1,354.9 87.2,354.9 87.4,355.0 87.5,355.0 87.6,355.0 87.8,354.9 87.9,354.9 88.0,354.8 88.1,354.7 88.3,354.5 88.4,354.4 88.5,354.2 88.6,354.0 88.7,353.8 88.8,353.5 88.9,353.2 89.0,353.0 89.1,352.7 89.2,352.3 89.2,352.0 89.3,351.7 89.3,351.3 89.4,350.9 89.4,350.6 89.5,350.2 89.5,349.8 89.5,349.4 89.5,349.0 89.5,348.6 89.5,348.2 89.5,347.8 89.4,347.4 89.4,347.1 89.3,346.7 89.3,346.3 89.2,346.0 89.2,345.7 89.1,345.3 89.0,345.0 88.9,344.8 88.9,344.7 90.6,344.7 90.7,344.7 90.9,344.7 91.0,344.6 91.2,344.6 91.3,344.5ZM324.6,34.6 324.7,34.7 324.7,34.8 324.8,34.9 324.9,35.0 325.0,35.1 325.1,35.2 325.3,35.3 325.4,35.4 325.5,35.4 325.6,35.5 325.8,35.5 332.8,36.5 333.0,36.5 333.1,36.5 343.1,35.5 343.3,35.5 343.4,35.4 343.6,35.4 343.7,35.3 343.8,35.2 344.0,35.2 344.1,35.1 344.2,35.0 344.2,34.8 344.3,34.7 344.4,34.6 344.4,34.4 345.2,32.0 323.8,32.0 324.6,34.4ZM364.7,35.3 364.6,35.2 364.4,35.0 364.3,34.9 364.0,34.8 363.9,34.7 363.7,34.5 363.6,34.5 363.3,34.3 363.2,34.3 362.9,34.2 362.9,34.1 362.5,34.0 362.5,34.0 362.1,33.8 362.1,33.8 361.7,33.7 361.6,33.7 361.3,33.6 361.2,33.6 360.8,33.5 360.8,33.5 360.4,33.4 360.3,33.4 359.9,33.3 359.9,33.3 359.4,33.3 359.4,33.3 359.0,33.2 358.9,33.2 358.5,33.2 358.5,33.2 358.0,33.2 358.0,33.2 357.5,33.2 357.5,33.2 357.1,33.2 357.0,33.2 356.6,33.3 356.6,33.3 356.1,33.3 356.1,33.3 355.7,33.4 355.6,33.4 355.2,33.5 355.2,33.5 354.8,33.6 354.7,33.6 354.4,33.7 354.3,33.7 353.9,33.8 353.9,33.8 353.5,34.0 353.5,34.0 353.1,34.1 353.1,34.2 352.8,34.3 352.7,34.3 352.4,34.5 352.3,34.5 352.1,34.7 352.0,34.8 351.7,34.9 351.6,35.0 351.4,35.2 351.3,35.3 351.1,35.5 351.1,35.5 350.9,35.7 350.8,35.8 350.6,36.0 350.6,36.2 350.4,36.4 350.4,36.5 350.3,36.7 350.2,36.9 350.1,37.1 350.1,37.3 350.0,37.5 350.0,37.7 350.0,37.9 350.0,38.1 350.0,38.3 350.0,38.5 350.1,38.7 350.1,38.9 350.2,39.1 350.3,39.3 350.4,39.5 350.4,39.6 350.6,39.8 350.6,40.0 350.8,40.2 350.9,40.3 351.1,40.5 351.1,40.5 351.3,40.7 351.4,40.8 351.6,41.0 351.7,41.1 352.0,41.2 352.1,41.3 352.3,41.5 352.4,41.5 352.7,41.7 352.8,41.7 353.1,41.8 353.1,41.9 353.5,42.0 353.5,42.0 353.9,42.2 353.9,42.2 354.3,42.3 354.4,42.3 354.7,42.4 354.8,42.4 355.2,42.5 355.2,42.5 355.6,42.6 355.7,42.6 356.1,42.7 356.1,42.7 356.6,42.7 356.6,42.7 357.0,42.8 357.1,42.8 357.5,42.8 357.5,42.8 358.0,42.8 358.0,42.8 358.5,42.8 358.5,42.8 358.9,42.8 359.0,42.8 359.4,42.7 359.4,42.7 359.9,42.7 359.9,42.7 360.3,42.6 360.4,42.6 360.8,42.5 360.8,42.5 361.2,42.4 361.3,42.4 361.6,42.3 361.7,42.3 362.1,42.2 362.1,42.2 362.5,42.0 362.5,42.0 362.9,41.9 362.9,41.8 363.2,41.7 363.3,41.7 363.6,41.5 363.7,41.5 363.9,41.3 364.0,41.2 364.3,41.1 364.4,41.0 364.6,40.8 364.7,40.7 364.9,40.5 364.9,40.5 365.1,40.3 365.2,40.2 365.4,40.0 365.4,39.8 365.6,39.6 365.6,39.5 365.7,39.3 365.8,39.1 365.9,38.9 365.9,38.7 366.0,38.5 366.0,38.3 366.0,38.1 366.0,37.9 366.0,37.7 366.0,37.5 365.9,37.3 365.9,37.1 365.8,36.9 365.7,36.7 365.6,36.5 365.6,36.4 365.4,36.2 365.4,36.0 365.2,35.8 365.1,35.7 364.9,35.5 364.9,35.5ZM286.2,37.0 286.2,36.8 286.3,36.7 286.4,36.6 286.4,36.4 286.5,36.3 286.5,36.1 286.5,36.0 286.5,32.0 228.2,32.0 227.9,32.4 227.9,38.0 227.9,38.1 227.9,38.3 228.0,38.4 228.0,38.6 228.1,38.7 228.1,38.8 230.7,42.8 230.8,42.9 230.9,43.0 231.0,43.1 231.1,43.2 231.3,43.3 231.4,43.4 231.5,43.4 237.5,45.4 244.3,48.3 251.3,52.3 251.4,52.4 251.7,51.4 260.9,48.6 270.2,45.8 281.3,42.1 281.9,42.1ZM467.0,59.2 466.8,59.0 466.7,58.8 466.5,58.7 466.3,58.5 466.1,58.4 466.0,58.3 465.8,58.2 465.6,58.1 465.4,58.0 465.2,58.0 465.0,58.0 464.8,58.0 464.6,58.0 464.4,58.1 464.2,58.2 464.0,58.3 463.9,58.4 463.7,58.5 463.5,58.7 463.3,58.8 463.2,59.0 463.0,59.2 462.9,59.5 462.7,59.7 462.6,60.0 462.5,60.2 462.4,60.5 462.3,60.8 462.2,61.1 462.2,61.4 462.1,61.7 462.1,62.0 462.0,62.3 462.0,62.7 462.0,63.0 462.0,63.3 462.0,63.7 462.1,64.0 462.1,64.3 462.2,64.6 462.2,64.9 462.3,65.2 462.4,65.5 462.5,65.8 462.6,66.0 462.7,66.3 462.9,66.5 463.0,66.8 463.2,67.0 463.3,67.2 463.5,67.3 463.7,67.5 463.9,67.6 464.0,67.7 464.2,67.8 464.4,67.9 464.6,68.0 464.8,68.0 465.0,68.0 465.2,68.0 465.4,68.0 465.6,67.9 465.8,67.8 466.0,67.7 466.1,67.6 466.3,67.5 466.5,67.3 466.7,67.2 466.8,67.0 467.0,66.8 467.0,66.7 467.0,59.3ZM414.2,74.7 414.1,74.6 414.0,74.4 413.9,74.3 413.7,74.1 413.7,74.0 413.5,73.8 413.4,73.8 413.2,73.6 413.1,73.5 412.9,73.3 412.9,73.3 412.6,73.1 412.5,73.1 412.3,72.9 412.2,72.9 412.0,72.7 411.9,72.7 411.6,72.6 411.6,72.5 411.3,72.4 411.2,72.4 410.9,72.3 410.8,72.3 410.6,72.2 410.5,72.2 410.2,72.1 410.1,72.1 409.8,72.1 409.7,72.0 409.4,72.0 409.3,72.0 409.0,72.0 409.0,72.0 408.7,72.0 408.6,72.0 408.3,72.0 408.2,72.1 407.9,72.1 407.8,72.1 407.5,72.2 407.4,72.2 407.2,72.3 407.1,72.3 406.8,72.4 406.7,72.4 406.4,72.5 406.4,72.6 406.1,72.7 406.0,72.7 405.8,72.9 405.7,72.9 405.5,73.1 405.4,73.1 405.1,73.3 405.1,73.3 404.9,73.5 404.8,73.6 404.6,73.8 404.5,73.8 404.3,74.0 404.3,74.1 404.1,74.3 404.0,74.4 403.9,74.6 403.8,74.7 403.7,75.0 403.6,75.0 403.5,75.3 403.5,75.4 403.4,75.6 403.3,75.7 403.2,76.0 403.2,76.1 403.1,76.3 403.1,76.4 403.1,76.7 403.0,76.8 403.0,77.1 403.0,77.2 403.0,77.4 403.0,77.6 403.0,77.8 403.0,77.9 403.0,78.2 403.1,78.3 403.1,78.6 403.1,78.7 403.2,78.9 403.2,79.0 403.3,79.3 403.4,79.4 403.5,79.6 403.5,79.7 403.6,80.0 403.7,80.0 403.8,80.3 403.9,80.4 404.0,80.6 404.1,80.7 404.3,80.9 404.3,81.0 404.5,81.2 404.6,81.2 404.8,81.4 404.9,81.5 405.1,81.7 405.1,81.7 405.4,81.9 405.5,81.9 405.7,82.1 405.8,82.1 406.0,82.3 406.1,82.3 406.4,82.4 406.4,82.5 406.7,82.6 406.8,82.6 407.1,82.7 407.2,82.7 407.4,82.8 407.5,82.8 407.8,82.9 407.9,82.9 408.2,82.9 408.3,83.0 408.6,83.0 408.7,83.0 409.0,83.0 409.0,83.0 409.3,83.0 409.4,83.0 409.7,83.0 409.8,82.9 410.1,82.9 410.2,82.9 410.5,82.8 410.6,82.8 410.8,82.7 410.9,82.7 411.2,82.6 411.3,82.6 411.6,82.5 411.6,82.4 411.9,82.3 412.0,82.3 412.2,82.1 412.3,82.1 412.5,81.9 412.6,81.9 412.9,81.7 412.9,81.7 413.1,81.5 413.2,81.4 413.4,81.2 413.5,81.2 413.7,81.0 413.7,80.9 413.9,80.7 414.0,80.6 414.1,80.4 414.2,80.3 414.3,80.0 414.4,80.0 414.5,79.7 414.5,79.6 414.6,79.4 414.7,79.3 414.8,79.0 414.8,78.9 414.9,78.7 414.9,78.6 414.9,78.3 415.0,78.2 415.0,77.9 415.0,77.8 415.0,77.6 415.0,77.4 415.0,77.2 415.0,77.1 415.0,76.8 414.9,76.7 414.9,76.4 414.9,76.3 414.8,76.1 414.8,76.0 414.7,75.7 414.6,75.6 414.5,75.4 414.5,75.3 414.4,75.0 414.3,75.0ZM425.1,86.1 425.0,85.8 425.0,85.7 424.9,85.5 424.9,85.4 424.8,85.1 424.7,85.1 424.6,84.8 424.6,84.8 424.5,84.5 424.4,84.5 424.3,84.3 424.3,84.2 424.1,84.0 424.1,83.9 423.9,83.7 423.8,83.6 423.7,83.5 423.6,83.4 423.5,83.3 423.4,83.2 423.2,83.1 423.1,83.0 422.9,82.9 422.8,82.8 422.6,82.7 422.5,82.7 422.3,82.6 422.1,82.6 422.0,82.5 421.8,82.5 421.6,82.5 421.4,82.5 421.2,82.5 421.0,82.5 420.9,82.6 420.7,82.6 420.5,82.7 420.4,82.7 420.2,82.8 420.1,82.9 419.9,83.0 419.8,83.1 419.6,83.2 419.5,83.3 419.4,83.4 419.3,83.5 419.2,83.6 419.1,83.7 418.9,83.9 418.9,84.0 418.7,84.2 418.7,84.3 418.6,84.5 418.5,84.5 418.4,84.8 418.4,84.8 418.3,85.1 418.2,85.1 418.1,85.4 418.1,85.5 418.0,85.7 418.0,85.8 417.9,86.1 417.9,86.1 417.8,86.4 417.8,86.5 417.7,86.8 417.7,86.8 417.7,87.1 417.6,87.2 417.6,87.5 417.6,87.5 417.6,87.9 417.6,87.9 417.5,88.2 417.5,88.3 417.5,88.6 417.5,88.6 417.5,89.0 417.5,89.0 417.5,89.4 417.5,89.4 417.5,89.7 417.5,89.8 417.6,90.1 417.6,90.1 417.6,90.5 417.6,90.5 417.6,90.8 417.7,90.9 417.7,91.2 417.7,91.2 417.8,91.5 417.8,91.6 417.9,91.9 417.9,91.9 418.0,92.2 418.0,92.3 418.1,92.5 418.1,92.6 418.2,92.9 418.3,92.9 418.4,93.2 418.4,93.2 418.5,93.5 418.6,93.5 418.7,93.7 418.7,93.8 418.9,94.0 418.9,94.1 419.1,94.3 419.2,94.4 419.3,94.5 419.4,94.6 419.5,94.7 419.6,94.8 419.8,94.9 419.7,95.0 419.5,95.2 419.3,95.4 419.2,95.6 419.0,95.8 418.9,96.0 418.8,96.2 418.7,96.4 418.6,96.6 418.6,96.8 418.5,97.0 418.5,97.3 418.5,97.5 418.5,97.7 418.5,98.0 418.6,98.2 418.6,98.4 418.7,98.6 418.8,98.8 418.9,99.0 419.0,99.2 419.2,99.4 419.3,99.6 419.5,99.8 419.7,100.0 419.9,100.1 420.1,100.3 420.3,100.4 420.5,100.5 420.7,100.6 421.0,100.7 421.2,100.8 421.5,100.9 421.7,100.9 422.0,101.0 422.2,101.0 422.5,101.0 422.8,101.0 423.0,101.0 423.3,100.9 423.5,100.9 423.8,100.8 424.0,100.7 424.3,100.6 424.5,100.5 424.7,100.4 424.9,100.3 425.1,100.1 425.3,100.0 425.5,99.8 425.7,99.6 425.8,99.4 426.0,99.2 426.1,99.0 426.2,98.8 426.3,98.6 426.4,98.4 426.4,98.2 426.5,98.0 426.5,97.7 426.5,97.5 426.5,97.3 426.5,97.0 426.4,96.8 426.4,96.6 426.3,96.4 426.2,96.2 426.1,96.0 426.0,95.8 425.8,95.6 425.7,95.4 425.5,95.2 425.3,95.0 425.1,94.9 424.9,94.7 424.7,94.6 424.5,94.5 424.3,94.4 424.0,94.3 423.9,94.2 424.1,94.1 424.1,94.0 424.3,93.8 424.3,93.7 424.4,93.5 424.5,93.5 424.6,93.2 424.6,93.2 424.7,92.9 424.8,92.9 424.9,92.6 424.9,92.5 425.0,92.3 425.0,92.2 425.1,91.9 425.1,91.9 425.2,91.6 425.2,91.5 425.3,91.2 425.3,91.2 425.3,90.9 425.4,90.8 425.4,90.5 425.4,90.5 425.4,90.1 425.4,90.1 425.5,89.8 425.5,89.7 425.5,89.4 425.5,89.4 425.5,89.0 425.5,89.0 425.5,88.6 425.5,88.6 425.5,88.3 425.5,88.2 425.4,87.9 425.4,87.9 425.4,87.5 425.4,87.5 425.4,87.2 425.3,87.1 425.3,86.8 425.3,86.8 425.2,86.5 425.2,86.4 425.1,86.1ZM329.6,164.0 329.5,164.0 302.1,162.0 302.0,162.0 301.8,162.0 292.0,163.0 291.9,163.0 291.7,163.1 277.9,168.0 264.3,171.9 264.1,171.9 264.0,172.0 261.4,173.3 255.1,177.6 251.6,186.4 246.0,193.8 238.5,199.4 226.4,202.8 226.2,202.8 220.9,205.0 220.8,205.1 220.6,205.2 210.0,212.6 209.9,212.7 209.8,212.8 209.7,212.9 209.6,213.0 209.6,213.1 209.5,213.3 209.5,213.4 209.4,213.6 207.3,226.3 207.3,226.4 207.3,226.6 207.3,226.7 207.3,226.9 207.4,227.0 207.4,227.1 207.5,227.3 207.6,227.4 207.7,227.5 207.8,227.6 207.9,227.7 208.1,227.8 214.3,231.3 214.4,231.4 214.5,231.4 214.7,231.5 214.8,231.5 215.0,231.5 215.2,231.5 215.3,231.5 215.5,231.4 223.1,229.0 223.2,229.0 223.3,228.9 223.4,228.8 223.6,228.8 223.7,228.7 227.8,224.5 232.9,220.5 240.0,218.5 248.5,216.4 248.5,216.4 252.2,215.4 261.5,218.9 261.5,218.9 270.9,222.4 270.9,222.4 276.4,224.4 271.2,225.0 271.0,225.0 270.9,225.1 262.4,228.3 262.2,228.4 253.7,232.7 253.6,232.7 244.1,239.0 244.0,239.1 238.7,243.4 238.5,243.5 238.4,243.6 238.4,243.8 238.3,243.9 238.2,244.0 238.2,244.2 238.1,244.3 238.1,244.4 238.1,244.6 238.1,244.7 238.1,244.9 238.2,245.0 238.2,245.2 240.3,250.5 240.4,250.6 240.4,250.7 240.5,250.8 240.6,251.0 240.8,251.1 240.9,251.2 241.0,251.2 241.2,251.3 241.3,251.3 241.4,251.4 247.8,252.5 248.0,252.5 248.1,252.5 248.3,252.5 248.4,252.5 248.5,252.4 248.7,252.4 248.8,252.3 254.8,249.3 261.8,248.4 266.7,246.9 278.0,244.0 280.6,242.7 280.7,242.7 280.8,242.6 280.9,242.5 281.1,242.4 286.1,236.3 286.6,237.9 286.6,238.1 286.7,238.2 286.8,238.3 286.8,238.5 286.9,238.6 287.0,238.7 287.2,238.7 287.3,238.8 287.4,238.9 287.6,238.9 295.7,241.4 295.8,241.5 295.9,241.5 296.1,241.5 296.2,241.5 296.4,241.5 296.5,241.4 310.2,237.5 310.4,237.5 310.5,237.4 310.6,237.3 310.8,237.3 310.9,237.2 318.5,229.4 329.9,223.8 343.5,219.8 343.6,219.8 343.8,219.7 343.9,219.7 353.7,213.8 353.8,213.7 353.9,213.6 354.0,213.5 354.1,213.4 354.2,213.3 354.2,213.2 354.3,213.1 358.3,203.3 364.0,191.7 369.9,179.9 370.0,179.7 370.0,179.6 370.1,179.5 370.1,179.3 370.1,179.2 370.1,179.1 370.1,178.9 368.2,169.1 368.1,169.0 368.1,168.8 368.0,168.7 367.9,168.6 367.9,168.4 367.8,168.3 367.6,168.2 367.5,168.1 367.4,168.1 367.3,168.0 357.5,164.1 357.3,164.1 357.2,164.0 357.0,164.0 356.9,164.0 356.7,164.0 356.6,164.0 354.9,164.4 352.0,160.0 338.0,158.0 336.7,165.8 329.8,164.0ZM410.0,317.5 409.9,317.3 409.8,317.0 409.6,316.8 409.5,316.6 409.3,316.4 409.2,316.3 409.0,316.1 408.8,316.0 408.6,315.8 408.5,315.7 408.3,315.7 408.1,315.6 407.9,315.5 407.7,315.5 407.5,315.5 407.3,315.5 407.1,315.5 406.9,315.6 406.7,315.7 406.5,315.7 406.4,315.8 406.2,316.0 406.0,316.1 405.8,316.3 405.7,316.4 405.5,316.6 405.4,316.8 405.2,317.0 405.1,317.3 405.0,317.5 404.9,317.8 404.8,318.0 404.7,318.3 404.7,318.6 404.6,318.8 404.6,319.1 404.5,319.4 404.5,319.7 404.5,320.0 404.5,320.3 404.5,320.6 404.6,320.9 404.6,321.2 404.7,321.4 404.7,321.7 404.8,322.0 404.9,322.2 405.0,322.5 405.1,322.7 405.2,323.0 405.4,323.2 405.5,323.4 405.7,323.6 405.8,323.7 406.0,323.9 406.2,324.0 406.4,324.2 406.5,324.3 406.7,324.3 406.9,324.4 407.1,324.5 407.3,324.5 407.5,324.5 407.7,324.5 407.9,324.5 408.1,324.4 408.3,324.3 408.5,324.3 408.6,324.2 408.8,324.0 409.0,323.9 409.2,323.7 409.3,323.6 409.5,323.4 409.6,323.2 409.8,323.0 409.9,322.7 410.0,322.5 410.1,322.2 410.2,322.0 410.3,321.7 410.3,321.4 410.4,321.2 410.4,320.9 410.5,320.6 410.5,320.3 410.5,320.0 410.5,319.7 410.5,319.4 410.4,319.1 410.4,318.8 410.3,318.6 410.3,318.3 410.2,318.0 410.1,317.8Z" fill="#96f58c"/>
<path d="M180.8,51.2 180.7,50.8 180.6,50.4 180.5,50.0 180.3,49.6 180.2,49.2 180.0,48.9 179.8,48.6 179.6,48.2 179.4,47.9 179.2,47.7 179.0,47.4 178.8,47.2 178.5,47.0 178.3,46.9 178.0,46.7 177.8,46.6 177.5,46.6 177.3,46.5 177.0,46.5 176.7,46.5 176.5,46.6 176.2,46.6 176.0,46.7 175.7,46.9 175.5,47.0 175.2,47.2 175.0,47.4 174.8,47.7 174.6,47.9 174.4,48.2 174.2,48.6 174.0,48.9 173.8,49.2 173.7,49.6 173.5,50.0 173.4,50.4 173.3,50.8 173.2,51.2 173.1,51.7 173.1,52.1 173.0,52.6 173.0,53.0 173.0,53.5 173.0,54.0 173.0,54.4 173.1,54.9 173.1,55.3 173.2,55.8 173.3,56.2 173.4,56.6 173.5,57.0 173.7,57.4 173.8,57.8 174.0,58.1 174.2,58.4 174.4,58.8 174.6,59.1 174.8,59.3 175.0,59.6 175.2,59.8 175.5,60.0 175.7,60.1 176.0,60.3 176.2,60.4 176.5,60.4 176.7,60.5 177.0,60.5 177.3,60.5 177.5,60.4 177.8,60.4 178.0,60.3 178.3,60.1 178.5,60.0 178.8,59.8 179.0,59.6 179.2,59.3 179.4,59.1 179.6,58.8 179.8,58.4 180.0,58.1 180.2,57.8 180.3,57.4 180.5,57.0 180.6,56.6 180.7,56.2 180.8,55.8 180.9,55.3 180.9,54.9 181.0,54.4 181.0,54.0 181.0,53.5 181.0,53.0 181.0,52.6 180.9,52.1 180.9,51.7ZM223.2,51.5 223.0,51.1 222.9,50.8 222.7,50.4 222.6,50.0 222.4,49.7 222.2,49.4 222.0,49.1 221.7,48.8 221.5,48.6 221.2,48.4 221.0,48.2 220.7,48.0 220.4,47.8 220.2,47.7 219.9,47.6 219.6,47.6 219.3,47.5 219.0,47.5 218.7,47.5 218.4,47.6 218.1,47.6 217.8,47.7 217.6,47.8 217.3,48.0 217.0,48.2 216.8,48.4 216.5,48.6 216.3,48.8 216.0,49.1 215.8,49.4 215.6,49.7 215.4,50.0 215.3,50.4 215.1,50.8 215.0,51.1 214.8,51.5 214.7,51.9 214.7,52.3 214.6,52.7 214.5,53.2 214.5,53.6 214.5,54.0 214.5,54.4 214.5,54.8 214.6,55.3 214.7,55.7 214.7,56.1 214.8,56.5 215.0,56.9 215.1,57.2 215.3,57.6 215.4,58.0 215.6,58.3 215.8,58.6 216.0,58.9 216.3,59.2 216.5,59.4 216.8,59.6 217.0,59.8 217.3,60.0 217.6,60.2 217.8,60.3 218.1,60.4 218.4,60.4 218.7,60.5 219.0,60.5 219.3,60.5 219.6,60.4 219.9,60.4 220.2,60.3 220.4,60.2 220.7,60.0 221.0,59.8 221.2,59.6 221.5,59.4 221.7,59.2 222.0,58.9 222.2,58.6 222.4,58.3 222.6,58.0 222.7,57.6 222.9,57.2 223.0,56.9 223.2,56.5 223.3,56.1 223.3,55.7 223.4,55.3 223.5,54.8 223.5,54.4 223.5,54.0 223.5,53.6 223.5,53.2 223.4,52.7 223.3,52.3 223.3,51.9ZM247.7,70.3 247.6,70.1 247.5,69.8 247.4,69.6 247.2,69.4 247.1,69.3 246.9,69.1 246.7,68.9 246.6,68.8 246.4,68.6 246.1,68.5 245.9,68.4 245.7,68.3 245.5,68.2 245.3,68.1 245.0,68.1 244.8,68.0 244.5,68.0 244.3,68.0 244.1,68.0 243.8,68.0 243.6,68.1 243.3,68.1 243.1,68.2 242.9,68.3 242.7,68.4 242.4,68.5 242.2,68.6 242.0,68.8 241.9,68.9 241.7,69.1 241.5,69.3 241.4,69.4 241.2,69.6 241.1,69.8 241.0,70.1 240.9,70.3 240.8,70.5 240.7,70.7 240.7,71.0 240.6,71.2 240.6,71.5 240.6,71.7 240.6,71.9 240.6,72.2 240.7,72.4 240.7,72.7 240.8,72.9 240.9,73.1 241.0,73.3 241.1,73.6 241.2,73.8 241.4,74.0 241.5,74.1 241.7,74.3 241.9,74.5 242.0,74.6 242.2,74.8 242.4,74.9 242.7,75.0 242.9,75.1 243.1,75.2 243.3,75.3 243.6,75.3 243.8,75.4 244.1,75.4 244.3,75.4 244.5,75.4 244.8,75.4 245.0,75.3 245.3,75.3 245.5,75.2 245.7,75.1 245.9,75.0 246.1,74.9 246.4,74.8 246.6,74.6 246.7,74.5 246.9,74.3 247.1,74.1 247.2,74.0 247.4,73.8 247.5,73.6 247.6,73.3 247.7,73.1 247.8,72.9 247.9,72.7 247.9,72.4 248.0,72.2 248.0,71.9 248.0,71.7 248.0,71.5 248.0,71.2 247.9,71.0 247.9,70.7 247.8,70.5ZM229.0,275.0 227.0,264.0 220.0,262.0 213.5,266.0 213.0,278.0 215.5,290.0 220.0,297.0 226.0,296.0 229.0,288.0ZM104.5,293.9 107.8,285.7 106.1,275.9 101.2,267.8 93.1,262.9 86.0,261.3 86.0,311.3 86.5,311.8 91.4,313.5 96.3,308.6 99.6,302.0ZM203.9,296.9 209.3,291.5 211.1,286.1 207.5,280.7 200.3,278.0 189.5,278.9 184.1,282.5 178.8,291.5 173.4,300.5 173.4,311.3 168.0,316.7 162.6,320.3 166.2,324.7 175.2,323.9 184.1,320.3 191.3,313.1 198.5,305.9ZM145.1,326.5 145.0,326.3 144.9,326.0 144.8,325.9 144.6,325.7 144.5,325.5 144.3,325.3 144.1,325.2 143.9,325.0 143.7,324.9 143.5,324.8 143.3,324.7 143.1,324.6 142.8,324.5 142.6,324.4 142.3,324.4 142.1,324.3 141.8,324.3 141.6,324.3 141.4,324.3 141.1,324.3 140.9,324.4 140.6,324.4 140.4,324.5 140.1,324.6 139.9,324.7 139.7,324.8 139.5,324.9 139.3,325.0 139.1,325.2 138.9,325.3 138.7,325.5 138.6,325.7 138.4,325.9 138.3,326.0 138.2,326.3 138.1,326.5 138.0,326.7 137.9,326.9 137.9,327.1 137.8,327.3 137.8,327.6 137.8,327.8 137.8,328.0 137.8,328.3 137.9,328.5 137.9,328.7 138.0,328.9 138.1,329.1 138.2,329.3 138.3,329.5 138.4,329.7 138.6,329.9 138.7,330.1 138.9,330.3 139.1,330.4 139.3,330.6 139.5,330.7 139.7,330.8 139.9,330.9 140.1,331.0 140.4,331.1 140.6,331.2 140.9,331.2 141.1,331.3 141.4,331.3 141.6,331.3 141.8,331.3 142.1,331.3 142.3,331.2 142.6,331.2 142.8,331.1 143.1,331.0 143.3,330.9 143.5,330.8 143.7,330.7 143.9,330.6 144.1,330.4 144.3,330.3 144.5,330.1 144.6,329.9 144.8,329.7 144.9,329.5 145.0,329.3 145.1,329.1 145.2,328.9 145.3,328.7 145.3,328.5 145.4,328.3 145.4,328.0 145.4,327.8 145.4,327.6 145.4,327.3 145.3,327.1 145.3,326.9 145.2,326.7ZM90.6,343.2 90.6,330.0 86.0,330.0 86.0,343.2ZM326.0,34.0 333.0,35.0 343.0,34.0 343.6,32.0 325.4,32.0ZM364.0,36.7 363.8,36.5 363.6,36.4 363.4,36.2 363.2,36.0 362.9,35.8 362.6,35.7 362.3,35.5 362.0,35.4 361.6,35.3 361.2,35.1 360.9,35.0 360.5,35.0 360.1,34.9 359.7,34.8 359.3,34.8 358.8,34.7 358.4,34.7 358.0,34.7 357.6,34.7 357.2,34.7 356.7,34.8 356.3,34.8 355.9,34.9 355.5,35.0 355.1,35.0 354.8,35.1 354.4,35.3 354.0,35.4 353.7,35.5 353.4,35.7 353.1,35.8 352.8,36.0 352.6,36.2 352.4,36.4 352.2,36.5 352.0,36.7 351.8,36.9 351.7,37.1 351.6,37.4 351.6,37.6 351.5,37.8 351.5,38.0 351.5,38.2 351.6,38.4 351.6,38.6 351.7,38.9 351.8,39.1 352.0,39.3 352.2,39.5 352.4,39.7 352.6,39.8 352.8,40.0 353.1,40.2 353.4,40.3 353.7,40.5 354.0,40.6 354.4,40.7 354.8,40.9 355.1,41.0 355.5,41.0 355.9,41.1 356.3,41.2 356.7,41.2 357.2,41.3 357.6,41.3 358.0,41.3 358.4,41.3 358.8,41.3 359.3,41.2 359.7,41.2 360.1,41.1 360.5,41.0 360.9,41.0 361.2,40.9 361.6,40.7 362.0,40.6 362.3,40.5 362.6,40.3 362.9,40.2 363.2,40.0 363.4,39.8 363.6,39.7 363.8,39.5 364.0,39.3 364.2,39.1 364.3,38.9 364.4,38.6 364.4,38.4 364.5,38.2 364.5,38.0 364.5,37.8 364.4,37.6 364.4,37.4 364.3,37.1 364.2,36.9ZM262.0,50.0 272.0,46.0 280.0,42.0 285.0,36.0 285.0,32.0 229.4,32.0 229.4,38.0 232.0,42.0 238.0,44.0 245.0,47.0 252.0,51.0ZM413.2,76.0 413.0,75.7 412.9,75.5 412.7,75.3 412.6,75.1 412.4,74.9 412.2,74.7 412.0,74.5 411.7,74.3 411.5,74.2 411.2,74.0 411.0,73.9 410.7,73.8 410.4,73.7 410.2,73.6 409.9,73.6 409.6,73.5 409.3,73.5 409.0,73.5 408.7,73.5 408.4,73.5 408.1,73.6 407.8,73.6 407.6,73.7 407.3,73.8 407.0,73.9 406.8,74.0 406.5,74.2 406.3,74.3 406.0,74.5 405.8,74.7 405.6,74.9 405.4,75.1 405.3,75.3 405.1,75.5 405.0,75.7 404.8,76.0 404.7,76.2 404.7,76.5 404.6,76.7 404.5,77.0 404.5,77.2 404.5,77.5 404.5,77.8 404.5,78.0 404.6,78.3 404.7,78.5 404.7,78.8 404.8,79.0 405.0,79.3 405.1,79.5 405.3,79.7 405.4,79.9 405.6,80.1 405.8,80.3 406.0,80.5 406.3,80.7 406.5,80.8 406.8,81.0 407.0,81.1 407.3,81.2 407.6,81.3 407.8,81.4 408.1,81.4 408.4,81.5 408.7,81.5 409.0,81.5 409.3,81.5 409.6,81.5 409.9,81.4 410.2,81.4 410.4,81.3 410.7,81.2 411.0,81.1 411.2,81.0 411.5,80.8 411.7,80.7 412.0,80.5 412.2,80.3 412.4,80.1 412.6,79.9 412.7,79.7 412.9,79.5 413.0,79.3 413.2,79.0 413.3,78.8 413.3,78.5 413.4,78.3 413.5,78.0 413.5,77.8 413.5,77.5 413.5,77.2 413.5,77.0 413.4,76.7 413.3,76.5 413.3,76.2ZM423.8,87.1 423.7,86.8 423.7,86.5 423.6,86.2 423.5,86.0 423.4,85.7 423.3,85.5 423.1,85.2 423.0,85.0 422.9,84.8 422.8,84.7 422.6,84.5 422.5,84.4 422.3,84.3 422.1,84.2 422.0,84.1 421.8,84.0 421.7,84.0 421.5,84.0 421.3,84.0 421.2,84.0 421.0,84.1 420.9,84.2 420.7,84.3 420.5,84.4 420.4,84.5 420.2,84.7 420.1,84.8 420.0,85.0 419.9,85.2 419.7,85.5 419.6,85.7 419.5,86.0 419.4,86.2 419.3,86.5 419.3,86.8 419.2,87.1 419.1,87.4 419.1,87.7 419.0,88.0 419.0,88.3 419.0,88.7 419.0,89.0 419.0,89.3 419.0,89.7 419.0,90.0 419.1,90.3 419.1,90.6 419.2,90.9 419.3,91.2 419.3,91.5 419.4,91.8 419.5,92.0 419.6,92.3 419.7,92.5 419.9,92.8 420.0,93.0 420.1,93.2 420.2,93.3 420.4,93.5 420.5,93.6 420.7,93.7 420.9,93.8 421.0,93.9 421.2,94.0 421.3,94.0 421.5,94.0 421.7,94.0 421.8,94.0 422.0,93.9 422.1,93.8 422.3,93.7 422.5,93.6 422.6,93.5 422.8,93.3 422.9,93.2 423.0,93.0 423.1,92.8 423.3,92.5 423.4,92.3 423.5,92.0 423.6,91.8 423.7,91.5 423.7,91.2 423.8,90.9 423.9,90.6 423.9,90.3 424.0,90.0 424.0,89.7 424.0,89.3 424.0,89.0 424.0,88.7 424.0,88.3 424.0,88.0 423.9,87.7 423.9,87.4ZM248.1,214.9 252.3,213.8 262.0,217.5 271.4,221.0 281.0,224.5 282.4,226.3 279.9,225.5 271.4,226.5 262.9,229.7 254.4,234.0 244.9,240.3 239.6,244.6 241.7,249.9 248.1,251.0 254.4,247.8 262.9,246.7 271.4,245.6 279.9,241.4 285.2,235.0 285.8,230.8 286.0,231.0 288.0,237.5 296.1,240.0 309.8,236.1 317.6,228.2 329.4,222.4 343.1,218.4 352.9,212.5 356.9,202.7 362.7,191.0 368.6,179.2 366.7,169.4 356.9,165.5 353.9,166.1 351.0,171.0 347.0,177.0 345.0,184.0 341.0,187.0 338.0,183.0 337.0,170.0 337.5,167.5 337.3,167.5 329.4,165.5 315.7,164.5 302.0,163.5 292.2,164.5 278.4,169.4 264.7,173.3 256.9,177.3 252.9,187.1 247.1,194.9 239.2,200.8 226.8,204.2 221.5,206.4 210.9,213.8 208.8,226.5 215.0,230.0 222.6,227.6 226.8,223.4 232.2,219.1 239.6,217.0Z" fill="#5dfcff"/>
<path d="M178.2,49.2 178.1,49.0 178.0,48.9 177.8,48.8 177.6,48.7 177.5,48.6 177.3,48.5 177.2,48.5 177.0,48.5 176.8,48.5 176.7,48.5 176.5,48.6 176.4,48.7 176.2,48.8 176.0,48.9 175.9,49.0 175.8,49.2 175.7,49.3 175.6,49.3 175.5,49.4 175.3,49.5 175.2,49.6 175.0,49.7 175.0,49.8 174.8,49.9 174.8,50.0 174.7,50.1 174.6,50.2 174.5,50.3 174.5,50.4 174.4,50.5 174.3,50.6 174.3,50.7 174.2,50.9 174.2,51.0 174.1,51.1 174.1,51.2 174.0,51.3 174.0,51.4 173.9,51.5 173.9,51.6 173.9,51.8 173.9,51.9 173.8,52.0 173.8,52.1 173.8,52.3 173.8,52.3 173.7,52.5 173.7,52.6 173.7,52.7 173.7,52.8 173.7,53.0 173.6,53.0 173.6,53.2 173.6,53.3 173.6,53.5 173.6,53.5 173.6,53.7 173.6,53.8 173.6,54.0 173.6,54.0 173.6,54.2 173.6,54.3 173.6,54.5 173.6,54.5 173.6,54.7 173.6,54.8 173.6,55.0 173.7,55.0 173.7,55.2 173.7,55.3 173.7,55.4 173.7,55.5 173.8,55.7 173.8,55.7 173.8,55.9 173.8,56.0 173.9,56.1 173.9,56.2 173.9,56.4 173.9,56.5 174.0,56.6 174.0,56.7 174.1,56.8 174.1,56.9 174.2,57.0 174.2,57.1 174.3,57.3 174.3,57.4 174.4,57.5 174.5,57.6 174.5,57.7 174.6,57.8 174.7,57.9 174.8,58.0 174.8,58.1 175.0,58.2 175.0,58.3 175.2,58.4 175.3,58.5 175.5,58.6 175.6,58.7 175.8,58.8 175.9,58.8 176.0,58.9 176.2,58.9 176.2,58.9 176.4,59.0 176.6,59.0 176.6,59.0 176.8,59.0 177.0,59.0 177.0,59.0 177.2,59.0 177.4,58.9 177.4,58.9 177.6,58.9 177.7,58.8 177.8,58.8 178.0,58.7 178.1,58.6 178.3,58.5 178.4,58.4 178.6,58.3 178.6,58.2 178.8,58.1 178.8,58.0 178.9,57.9 179.0,57.8 179.1,57.7 179.1,57.6 179.2,57.5 179.3,57.4 179.3,57.3 179.4,57.1 179.4,57.0 179.5,56.9 179.5,56.8 179.6,56.7 179.6,56.6 179.7,56.5 179.7,56.4 179.7,56.2 179.7,56.1 179.8,56.0 179.8,55.9 179.8,55.7 179.8,55.7 179.9,55.5 179.9,55.4 179.9,55.3 179.9,55.2 179.9,55.0 180.0,55.0 180.0,54.8 180.0,54.7 180.0,54.5 180.0,54.5 180.0,54.3 180.0,54.2 180.0,54.0 180.0,54.0 180.0,53.8 180.0,53.7 180.0,53.5 180.0,53.5 180.0,53.3 180.0,53.2 180.0,53.0 179.9,53.0 179.9,52.8 179.9,52.7 179.9,52.6 179.9,52.5 179.8,52.3 179.8,52.3 179.8,52.1 179.8,52.0 179.7,51.9 179.7,51.8 179.7,51.6 179.7,51.5 179.6,51.4 179.6,51.3 179.5,51.2 179.5,51.1 179.4,51.0 179.4,50.9 179.3,50.7 179.3,50.6 179.2,50.5 179.1,50.4 179.1,50.3 179.0,50.2 178.9,50.1 178.8,50.0 178.8,49.9 178.7,49.9 178.6,49.7 178.5,49.5 178.4,49.3ZM215.9,58.6 216.0,58.7 216.2,58.8 216.3,58.9 216.5,59.1 216.6,59.2 216.8,59.3 216.9,59.4 217.1,59.5 217.2,59.6 217.4,59.6 217.6,59.7 217.8,59.8 217.9,59.8 218.1,59.9 218.3,59.9 218.5,60.0 218.7,60.0 218.9,60.0 219.1,60.0 219.3,60.0 219.5,60.0 219.7,59.9 219.9,59.9 220.1,59.8 220.2,59.8 220.4,59.7 220.6,59.6 220.8,59.6 220.9,59.5 221.1,59.4 221.2,59.3 221.4,59.2 221.5,59.1 221.7,58.9 221.8,58.8 222.0,58.7 222.1,58.6 222.2,58.4 222.3,58.3 222.4,58.1 222.5,58.0 222.6,57.8 222.7,57.7 222.7,57.6 222.9,57.2 223.0,56.9 223.2,56.5 223.3,56.1 223.3,55.7 223.4,55.3 223.5,54.8 223.5,54.4 223.5,54.0 223.5,53.6 223.5,53.2 223.4,52.7 223.3,52.3 223.3,51.9 223.2,51.5 223.0,51.1 222.9,50.8 222.7,50.4 222.6,50.0 222.4,49.7 222.2,49.4 222.0,49.1 221.7,48.8 221.5,48.6 221.2,48.4 221.0,48.2 220.7,48.0 220.4,47.8 220.2,47.7 219.9,47.6 219.6,47.6 219.3,47.5 219.0,47.5 218.7,47.5 218.4,47.6 218.1,47.6 217.8,47.7 217.6,47.8 217.3,48.0 217.0,48.2 216.8,48.4 216.5,48.6 216.3,48.8 216.0,49.1 215.8,49.4 215.6,49.7 215.4,50.0 215.3,50.4 215.1,50.8 215.0,51.1 214.8,51.5 214.7,51.9 214.7,52.3 214.6,52.7 214.5,53.2 214.5,53.6 214.5,54.0 214.5,54.4 214.5,54.8 214.6,55.3 214.7,55.7 214.7,56.1 214.8,56.5 215.0,56.9 215.1,57.2 215.3,57.6 215.3,57.7 215.4,57.8 215.5,58.0 215.6,58.1 215.7,58.3 215.8,58.4ZM224.4,216.8 224.3,216.6 224.1,216.3 224.0,216.2 223.7,215.8 223.7,215.7 223.4,215.4 223.3,215.3 223.0,215.0 222.9,214.9 222.5,214.6 222.4,214.5 222.1,214.3 222.0,214.2 221.6,213.9 221.5,213.9 221.1,213.6 221.0,213.6 220.6,213.4 220.5,213.3 220.1,213.2 219.9,213.1 219.5,213.0 219.4,212.9 219.0,212.8 218.8,212.8 218.4,212.7 218.3,212.6 217.8,212.6 217.7,212.6 217.2,212.5 217.1,212.5 216.7,212.5 216.5,212.5 216.1,212.5 216.0,212.5 215.5,212.6 215.4,212.6 214.9,212.6 214.8,212.7 214.4,212.8 214.2,212.8 213.8,212.9 213.7,213.0 213.3,213.1 213.1,213.2 212.7,213.3 212.6,213.4 212.2,213.6 212.1,213.6 211.7,213.9 211.6,213.9 211.2,214.2 211.1,214.3 210.8,214.5 209.0,225.5 209.1,225.7 209.2,225.8 209.5,226.2 209.5,226.3 209.8,226.6 209.9,226.7 210.2,227.0 210.3,227.1 210.7,227.4 210.8,227.5 211.1,227.7 211.2,227.8 211.6,228.1 211.7,228.1 212.1,228.4 212.2,228.4 212.6,228.6 212.7,228.7 213.1,228.8 213.3,228.9 213.7,229.0 213.8,229.1 214.2,229.2 214.4,229.2 214.8,229.3 214.9,229.4 215.4,229.4 215.5,229.4 216.0,229.5 216.1,229.5 216.5,229.5 216.6,229.5 222.0,227.8 222.1,227.7 222.4,227.5 222.5,227.4 222.9,227.1 223.0,227.0 223.3,226.7 223.4,226.6 223.7,226.3 223.7,226.2 224.0,225.8 224.1,225.7 224.3,225.4 224.4,225.2 224.6,224.9 224.7,224.8 224.9,224.4 224.9,224.2 225.1,223.8 225.1,223.7 225.3,223.3 225.3,223.2 225.4,222.8 225.4,222.6 225.5,222.2 225.5,222.1 225.6,221.6 225.6,221.5 225.6,221.1 225.6,220.9 225.6,220.5 225.6,220.4 225.5,219.9 225.5,219.8 225.4,219.4 225.4,219.2 225.3,218.8 225.3,218.7 225.1,218.3 225.1,218.2 224.9,217.8 224.9,217.6 224.7,217.2 224.6,217.1ZM246.4,243.7 246.4,243.6 246.3,243.4 246.2,243.3 246.1,243.1 246.1,243.0 246.0,242.9 245.9,242.8 245.8,242.6 245.7,242.5 245.6,242.3 245.5,242.2 245.4,242.1 245.3,242.0 245.1,241.9 245.0,241.8 244.9,241.6 244.8,241.5 244.6,241.4 244.5,241.4 244.3,241.3 244.2,241.2 244.0,241.1 244.0,241.1 239.6,244.6 241.7,249.9 245.2,250.5 245.3,250.4 245.4,250.3 245.5,250.2 245.6,250.1 245.7,249.9 245.8,249.8 245.9,249.6 246.0,249.5 246.1,249.4 246.1,249.3 246.2,249.1 246.3,249.0 246.4,248.8 246.4,248.7 246.5,248.5 246.5,248.4 246.6,248.2 246.6,248.1 246.7,247.9 246.7,247.8 246.8,247.5 246.8,247.4 246.8,247.2 246.8,247.1 246.9,246.9 246.9,246.8 246.9,246.6 246.9,246.5 246.9,246.2 246.9,246.2 246.9,245.9 246.9,245.8 246.9,245.6 246.9,245.5 246.8,245.3 246.8,245.2 246.8,245.0 246.8,244.9 246.7,244.6 246.7,244.5 246.6,244.3 246.6,244.2 246.5,244.0 246.5,243.9ZM214.6,265.5 214.5,265.7 214.4,265.8 214.3,266.0 214.2,266.2 214.1,266.3 214.1,266.5 214.0,266.7 214.0,266.9 213.5,277.9 213.5,278.1 213.5,278.3 214.4,284.7 215.5,290.0 216.1,290.9 220.6,295.4 220.7,295.5 220.9,295.7 221.1,295.8 221.2,295.8 221.4,295.9 221.6,296.0 221.8,296.0 222.0,296.0 222.2,296.0 222.4,296.0 222.6,295.9 222.7,295.9 226.6,294.3 229.0,288.0 229.0,275.0 227.1,264.7 224.9,263.4 221.0,262.3 215.1,265.2 214.9,265.3 214.8,265.4ZM104.8,277.1 104.8,276.9 104.7,276.7 104.6,276.5 104.5,276.4 104.3,276.2 104.2,276.1 94.4,267.9 94.2,267.7 94.0,267.6 87.4,264.3 87.2,264.2 87.0,264.2 86.8,264.1 86.6,264.1 86.4,264.1 86.2,264.1 86.0,264.2 86.0,264.2 86.0,293.1 88.4,295.4 88.6,295.5 88.7,295.6 88.9,295.7 89.1,295.8 89.2,295.8 89.4,295.9 97.6,297.5 97.8,297.5 98.0,297.5 98.2,297.5 98.4,297.5 98.6,297.4 103.3,295.9 104.5,293.9 105.7,291.0 106.4,287.8 106.5,287.6 106.5,287.4 106.5,287.2 106.5,287.0 104.9,277.3ZM168.0,316.7 165.0,318.7 164.9,318.8 164.8,318.9 164.6,319.0 164.5,319.2 164.4,319.4 164.3,319.6 164.3,319.7 164.2,319.9 164.2,320.1 164.2,320.3 164.2,320.5 164.2,320.7 164.3,320.9 164.4,321.1 164.5,321.3 164.6,321.5 164.7,321.6 164.8,321.8 165.0,321.9 168.5,324.5 175.2,323.9 184.1,320.3 191.3,313.1 198.5,305.9 203.9,296.9 205.4,295.4 205.8,294.1 209.2,288.0 209.3,287.8 209.4,287.6 209.5,287.4 209.5,287.2 209.5,287.0 209.5,286.8 209.5,286.6 209.4,286.4 209.4,286.3 207.6,281.8 207.5,281.6 207.4,281.4 207.2,281.2 207.1,281.1 207.0,281.0 206.8,280.8 206.6,280.7 206.4,280.6 199.9,278.0 189.5,278.9 184.1,282.5 182.1,285.9 182.1,286.0 182.1,286.2 182.1,286.4 182.2,286.6 183.8,293.0 181.6,296.7 181.6,296.6 181.5,296.4 181.4,296.3 181.4,296.2 181.3,296.0 181.2,295.9 181.1,295.8 181.1,295.7 181.0,295.6 180.9,295.5 180.8,295.4 180.7,295.3 180.6,295.1 180.5,295.1 180.4,295.0 180.3,294.9 180.1,294.8 180.0,294.7 179.9,294.6 179.8,294.6 179.6,294.5 179.5,294.4 179.4,294.3 179.3,294.3 179.1,294.2 179.0,294.2 178.9,294.1 178.7,294.1 178.6,294.1 178.5,294.0 178.3,294.0 178.2,294.0 178.0,293.9 177.9,293.9 177.7,293.9 177.6,293.9 177.5,293.9 177.4,293.9 173.5,300.3 173.5,300.4 173.6,300.5 173.7,300.6 173.7,300.7 173.8,300.8 173.9,300.9 174.0,301.0 174.1,301.1 174.2,301.3 174.3,301.3 174.4,301.4 174.5,301.5 174.7,301.6 174.8,301.7 174.9,301.8 175.0,301.8 175.2,301.9 175.3,302.0 175.4,302.1 175.5,302.1 175.7,302.2 175.8,302.2 175.9,302.3 176.1,302.3 176.2,302.3 176.3,302.4 176.5,302.4 176.6,302.4 176.8,302.5 176.9,302.5 177.1,302.5 177.2,302.5 177.3,302.5 177.5,302.5 177.6,302.5 177.7,302.5 177.9,302.5 178.0,302.5 178.2,302.4 178.3,302.4 178.3,302.4 177.0,305.0 176.9,305.3 175.3,310.2 170.3,315.1 168.0,316.7ZM97.4,304.3 97.2,304.2 97.0,304.1 96.8,304.1 88.7,301.8 88.6,301.7 88.4,301.7 88.2,301.7 88.0,301.7 87.8,301.7 87.6,301.8 87.4,301.9 87.2,301.9 87.1,302.0 86.9,302.2 86.8,302.3 86.6,302.4 86.5,302.6 86.4,302.8 86.3,302.9 86.3,303.1 86.2,303.3 86.2,303.5 86.2,303.7 86.2,311.5 86.5,311.8 91.4,313.5 96.3,308.6 98.1,305.1 98.0,305.0 97.9,304.9 97.8,304.7 97.7,304.6 97.5,304.4ZM230.2,32.2 230.1,32.3 230.1,32.5 230.0,32.7 230.0,32.9 230.0,33.1 230.0,33.3 230.1,33.5 230.1,33.7 230.2,33.9 233.2,39.9 233.3,40.1 233.4,40.2 233.5,40.4 233.7,40.5 233.8,40.6 234.0,40.7 234.2,40.8 234.3,40.9 234.5,40.9 234.7,41.0 234.9,41.0 235.1,41.0 246.1,40.5 246.3,40.5 256.3,39.0 256.5,38.9 256.7,38.9 256.9,38.8 257.0,38.7 257.2,38.6 257.4,38.5 257.5,38.3 257.6,38.2 257.7,38.0 257.8,37.8 257.9,37.6 258.0,37.4 259.0,32.9 259.0,32.7 259.0,32.5 259.0,32.3 259.0,32.1 258.9,32.0 230.3,32.0ZM361.1,37.6 361.0,37.5 360.9,37.4 360.8,37.3 360.6,37.2 360.5,37.1 360.3,37.0 360.1,36.9 359.9,36.8 359.8,36.8 359.5,36.7 359.3,36.7 359.1,36.6 358.9,36.6 358.7,36.5 358.5,36.5 358.2,36.5 358.0,36.5 357.8,36.5 357.5,36.5 357.3,36.5 357.1,36.6 356.9,36.6 356.7,36.7 356.5,36.7 356.2,36.8 356.1,36.8 355.9,36.9 355.7,37.0 355.5,37.1 355.4,37.2 355.2,37.3 355.1,37.4 355.0,37.5 354.9,37.6 354.8,37.7 354.7,37.9 354.6,38.0 354.6,38.1 354.5,38.2 354.5,38.4 354.5,38.5 354.5,38.6 354.5,38.8 354.6,38.9 354.6,39.0 354.7,39.1 354.8,39.3 354.9,39.4 355.0,39.5 355.1,39.6 355.2,39.7 355.4,39.8 355.5,39.9 355.7,40.0 355.9,40.1 356.1,40.2 356.2,40.2 356.5,40.3 356.7,40.3 356.9,40.4 357.1,40.4 357.3,40.5 357.5,40.5 357.8,40.5 358.0,40.5 358.2,40.5 358.5,40.5 358.7,40.5 358.9,40.4 359.1,40.4 359.3,40.3 359.5,40.3 359.8,40.2 359.9,40.2 360.1,40.1 360.3,40.0 360.5,39.9 360.6,39.8 360.8,39.7 360.9,39.6 361.0,39.5 361.1,39.4 361.2,39.3 361.3,39.1 361.4,39.0 361.4,38.9 361.5,38.8 361.5,38.6 361.5,38.5 361.5,38.4 361.5,38.2 361.4,38.1 361.4,38.0 361.3,37.9 361.2,37.7ZM411.7,76.2 411.7,76.0 411.6,75.8 411.5,75.7 411.4,75.5 411.3,75.4 411.1,75.2 411.0,75.1 410.9,75.0 410.8,74.9 410.6,74.8 410.5,74.7 410.3,74.7 410.1,74.6 410.0,74.6 409.8,74.5 409.7,74.5 409.5,74.5 409.3,74.5 409.2,74.5 409.0,74.6 408.9,74.6 408.7,74.7 408.5,74.7 408.4,74.8 408.2,74.9 408.1,75.0 408.0,75.1 407.9,75.2 407.7,75.4 407.6,75.5 407.5,75.7 407.4,75.8 407.3,76.0 407.3,76.2 407.2,76.4 407.1,76.5 407.1,76.7 407.0,76.9 407.0,77.1 407.0,77.3 407.0,77.5 407.0,77.7 407.0,77.9 407.0,78.1 407.1,78.3 407.1,78.5 407.2,78.6 407.3,78.8 407.3,79.0 407.4,79.2 407.5,79.3 407.6,79.5 407.7,79.6 407.9,79.8 408.0,79.9 408.1,80.0 408.2,80.1 408.4,80.2 408.5,80.3 408.7,80.3 408.9,80.4 409.0,80.4 409.2,80.5 409.3,80.5 409.5,80.5 409.7,80.5 409.8,80.5 410.0,80.4 410.1,80.4 410.3,80.3 410.5,80.3 410.6,80.2 410.8,80.1 410.9,80.0 411.0,79.9 411.1,79.8 411.3,79.6 411.4,79.5 411.5,79.3 411.6,79.2 411.7,79.0 411.7,78.8 411.8,78.6 411.9,78.5 411.9,78.3 412.0,78.1 412.0,77.9 412.0,77.7 412.0,77.5 412.0,77.3 412.0,77.1 412.0,76.9 411.9,76.7 411.9,76.5 411.8,76.4ZM282.4,225.3 282.6,225.4 287.6,230.4 287.7,230.5 287.9,230.7 288.1,230.8 288.2,230.8 288.4,230.9 288.6,231.0 288.8,231.0 289.0,231.0 296.0,231.0 296.2,231.0 296.4,231.0 296.5,230.9 296.7,230.9 296.9,230.8 297.0,230.7 302.0,227.7 302.2,227.6 302.3,227.5 302.5,227.4 302.6,227.2 302.7,227.1 302.8,226.9 306.8,218.9 306.9,218.7 306.9,218.5 307.0,218.3 307.0,218.1 307.0,217.9 307.0,217.7 306.9,217.5 305.0,209.8 305.9,198.7 309.9,198.0 312.5,198.7 314.0,210.0 322.0,214.0 326.7,214.0 326.9,214.1 327.0,214.1 327.1,214.2 327.3,214.2 327.4,214.3 327.5,214.3 327.7,214.4 327.8,214.4 328.0,214.4 328.1,214.4 328.3,214.5 328.4,214.5 328.6,214.5 328.7,214.5 328.9,214.5 329.1,214.5 329.3,214.5 329.4,214.5 329.6,214.5 329.7,214.5 329.9,214.4 330.0,214.4 330.2,214.4 330.3,214.4 330.5,214.3 330.6,214.3 330.7,214.2 330.9,214.2 331.0,214.1 331.1,214.1 331.3,214.0 332.0,214.0 338.0,208.0 336.0,198.0 333.7,197.0 333.8,196.8 333.9,196.6 334.0,196.4 334.0,196.2 334.0,196.0 334.0,195.8 334.0,195.6 333.9,195.4 331.3,186.5 331.3,186.4 331.2,186.2 331.1,186.1 325.2,176.3 325.1,176.1 319.2,168.2 319.1,168.1 319.0,167.9 318.8,167.8 318.7,167.7 318.5,167.6 311.7,164.2 306.1,163.8 297.8,164.5 297.6,164.5 297.4,164.6 297.2,164.6 297.1,164.7 296.9,164.8 291.4,168.5 282.0,170.4 270.3,172.3 266.4,172.8 264.7,173.3 258.9,176.3 257.4,177.8 257.2,177.9 257.1,178.1 257.0,178.3 256.9,178.5 253.3,187.6 252.1,188.2 247.1,194.9 245.9,195.8 246.7,198.2 242.4,202.5 237.0,201.4 226.8,204.2 224.0,205.4 224.0,205.4 223.9,205.5 223.8,205.7 223.7,205.9 223.6,206.0 223.6,206.2 223.5,206.4 223.5,206.6 223.5,206.8 223.5,207.0 223.6,207.2 223.6,207.4 225.6,213.2 225.7,213.3 225.8,213.5 225.9,213.7 226.0,213.8 226.1,214.0 226.3,214.1 226.5,214.2 226.6,214.3 226.8,214.4 227.0,214.4 234.8,216.4 235.0,216.5 235.2,216.5 235.3,216.5 235.5,216.5 235.7,216.5 244.7,214.6 246.1,215.4 248.1,214.9 252.3,213.8 262.0,217.5 262.5,217.7 270.0,217.0 279.6,217.9 282.1,224.7 282.2,224.9 282.3,225.1ZM233.2,208.2 233.3,208.2 233.5,208.1 233.6,208.1 233.8,208.1 234.0,208.0 234.1,208.0 234.3,208.0 234.5,208.0 234.7,208.0 234.9,208.0 235.0,208.0 235.2,208.1 235.4,208.1 235.5,208.1 235.7,208.2 235.8,208.2 236.0,208.3 236.1,208.3 236.2,208.4 236.3,208.4 236.3,208.5 236.4,208.5 236.3,208.5 236.3,208.6 236.2,208.6 236.1,208.7 236.0,208.7 235.8,208.8 235.7,208.8 235.5,208.9 235.4,208.9 235.2,208.9 235.0,209.0 234.9,209.0 234.7,209.0 234.5,209.0 234.3,209.0 234.1,209.0 234.0,209.0 233.8,208.9 233.6,208.9 233.5,208.9 233.3,208.8 233.2,208.8 233.0,208.7 232.9,208.7 232.8,208.6 232.7,208.6 232.7,208.5 232.6,208.5 232.7,208.5 232.7,208.4 232.8,208.4 232.9,208.3 233.0,208.3ZM281.0,231.1 280.8,230.9 280.7,230.8 280.5,230.5 280.4,230.4 280.2,230.2 280.1,230.1 279.9,229.9 279.8,229.8 279.6,229.6 279.5,229.5 279.2,229.3 279.1,229.2 278.9,229.1 278.8,229.0 278.5,228.9 278.4,228.8 278.1,228.7 278.0,228.6 277.7,228.5 277.6,228.4 277.2,228.3 277.1,228.3 276.8,228.2 276.7,228.2 276.4,228.1 276.3,228.1 275.9,228.1 275.8,228.0 275.5,228.0 275.4,228.0 275.1,228.0 274.9,228.0 274.6,228.0 274.5,228.0 274.2,228.0 274.1,228.1 273.7,228.1 273.6,228.1 273.3,228.2 273.2,228.2 272.9,228.3 272.8,228.3 272.4,228.4 272.3,228.5 272.0,228.6 271.9,228.7 271.6,228.8 271.5,228.9 271.2,229.0 271.1,229.1 270.9,229.2 270.8,229.3 270.5,229.5 270.4,229.6 270.2,229.8 270.1,229.9 269.9,230.1 269.8,230.2 269.6,230.4 269.5,230.5 269.3,230.8 269.2,230.9 269.0,231.1 269.0,231.2 268.8,231.5 268.7,231.6 268.6,231.9 268.5,232.0 268.4,232.3 268.4,232.4 268.3,232.7 268.2,232.8 268.2,233.1 268.1,233.3 268.1,233.6 268.1,233.7 268.0,234.0 268.0,234.1 268.0,234.4 268.0,234.6 268.0,234.9 268.0,235.0 268.1,235.3 268.1,235.4 268.1,235.7 268.2,235.9 268.2,236.2 268.3,236.3 268.4,236.6 268.4,236.7 268.5,237.0 268.6,237.1 268.7,237.4 268.8,237.5 269.0,237.8 269.0,237.9 269.2,238.1 269.3,238.2 269.5,238.5 269.6,238.6 269.8,238.8 269.9,238.9 270.1,239.1 270.2,239.2 270.4,239.4 270.5,239.5 270.8,239.7 270.9,239.8 271.1,239.9 271.2,240.0 271.5,240.1 271.6,240.2 271.9,240.3 272.0,240.4 272.3,240.5 272.4,240.6 272.8,240.7 272.9,240.7 273.2,240.8 273.3,240.8 273.6,240.9 273.7,240.9 274.1,240.9 274.2,241.0 274.5,241.0 274.6,241.0 274.9,241.0 275.1,241.0 275.4,241.0 275.5,241.0 275.8,241.0 275.9,240.9 276.3,240.9 276.4,240.9 276.7,240.8 276.8,240.8 277.1,240.7 277.2,240.7 277.6,240.6 277.7,240.5 278.0,240.4 278.1,240.3 278.4,240.2 278.5,240.1 278.8,240.0 278.9,239.9 279.1,239.8 279.2,239.7 279.5,239.5 279.6,239.4 279.8,239.2 279.9,239.1 280.1,238.9 280.2,238.8 280.4,238.6 280.5,238.5 280.7,238.2 280.8,238.1 281.0,237.9 281.0,237.8 281.2,237.5 281.3,237.4 281.4,237.1 281.5,237.0 281.6,236.7 281.6,236.6 281.7,236.3 281.8,236.2 281.8,235.9 281.9,235.7 281.9,235.4 281.9,235.3 282.0,235.0 282.0,234.9 282.0,234.6 282.0,234.4 282.0,234.1 282.0,234.0 281.9,233.7 281.9,233.6 281.9,233.3 281.8,233.1 281.8,232.8 281.7,232.7 281.6,232.4 281.6,232.3 281.5,232.0 281.4,231.9 281.3,231.6 281.2,231.5 281.0,231.2Z" fill="#00c3ff"/>
<path d="M221.7,52.1 221.6,51.8 221.5,51.5 221.4,51.2 221.3,51.0 221.2,50.8 221.1,50.5 221.0,50.3 220.8,50.1 220.7,49.9 220.6,49.8 220.4,49.6 220.2,49.5 220.1,49.3 219.9,49.2 219.7,49.2 219.5,49.1 219.4,49.0 219.2,49.0 219.0,49.0 218.8,49.0 218.6,49.0 218.5,49.1 218.3,49.2 218.1,49.2 217.9,49.3 217.8,49.5 217.6,49.6 217.4,49.8 217.3,49.9 217.2,50.1 217.0,50.3 216.9,50.5 216.8,50.8 216.7,51.0 216.6,51.2 216.5,51.5 216.4,51.8 216.3,52.1 216.3,52.3 216.3,52.6 216.2,52.9 216.2,53.2 216.2,53.5 216.2,53.8 216.2,54.1 216.3,54.4 216.3,54.7 216.3,54.9 216.4,55.2 216.5,55.5 216.6,55.8 216.7,56.0 216.8,56.2 216.9,56.5 217.0,56.7 217.2,56.9 217.3,57.1 217.4,57.2 217.6,57.4 217.8,57.5 217.9,57.7 218.1,57.8 218.3,57.8 218.5,57.9 218.6,58.0 218.8,58.0 219.0,58.0 219.2,58.0 219.4,58.0 219.5,57.9 219.7,57.8 219.9,57.8 220.1,57.7 220.2,57.5 220.4,57.4 220.6,57.2 220.7,57.1 220.8,56.9 221.0,56.7 221.1,56.5 221.2,56.2 221.3,56.0 221.4,55.8 221.5,55.5 221.6,55.2 221.7,54.9 221.7,54.7 221.7,54.4 221.8,54.1 221.8,53.8 221.8,53.5 221.8,53.2 221.8,52.9 221.7,52.6 221.7,52.3ZM177.9,52.9 177.9,52.7 177.8,52.5 177.8,52.3 177.8,52.2 177.7,52.0 177.6,51.9 177.6,51.7 177.5,51.6 177.5,51.5 177.4,51.4 177.3,51.3 177.3,51.2 177.2,51.2 177.1,51.1 177.0,51.1 177.0,51.0 176.9,51.0 176.8,51.0 176.7,51.0 176.6,51.0 176.6,51.1 176.5,51.1 176.4,51.2 176.3,51.2 176.3,51.3 176.2,51.4 176.1,51.5 176.1,51.6 176.0,51.7 176.0,51.9 175.9,52.0 175.8,52.2 175.8,52.3 175.8,52.5 175.7,52.7 175.7,52.9 175.7,53.0 175.6,53.2 175.6,53.4 175.6,53.6 175.6,53.8 175.6,54.0 175.6,54.2 175.6,54.4 175.6,54.6 175.6,54.8 175.7,55.0 175.7,55.1 175.7,55.3 175.8,55.5 175.8,55.7 175.8,55.8 175.9,56.0 176.0,56.1 176.0,56.3 176.1,56.4 176.1,56.5 176.2,56.6 176.3,56.7 176.3,56.8 176.4,56.8 176.5,56.9 176.6,56.9 176.6,57.0 176.7,57.0 176.8,57.0 176.9,57.0 177.0,57.0 177.0,56.9 177.1,56.9 177.2,56.8 177.3,56.8 177.3,56.7 177.4,56.6 177.5,56.5 177.5,56.4 177.6,56.3 177.6,56.1 177.7,56.0 177.8,55.8 177.8,55.7 177.8,55.5 177.9,55.3 177.9,55.1 177.9,55.0 178.0,54.8 178.0,54.6 178.0,54.4 178.0,54.2 178.0,54.0 178.0,53.8 178.0,53.6 178.0,53.4 178.0,53.2 177.9,53.0ZM223.1,218.5 222.9,218.1 222.7,217.8 222.4,217.4 222.2,217.0 221.9,216.7 221.5,216.4 221.2,216.1 220.9,215.8 220.5,215.6 220.1,215.4 219.7,215.2 219.3,215.0 218.9,214.8 218.4,214.7 218.0,214.6 217.5,214.6 217.1,214.5 216.6,214.5 216.1,214.5 215.7,214.6 215.2,214.6 214.8,214.7 214.3,214.8 213.9,215.0 213.5,215.2 213.1,215.4 212.7,215.6 212.3,215.8 212.0,216.1 211.7,216.4 211.3,216.7 211.0,217.0 210.8,217.4 210.5,217.8 210.3,218.1 210.1,218.5 210.0,218.9 209.8,219.3 209.7,219.7 209.7,220.2 209.6,220.6 209.6,221.0 209.6,221.4 209.7,221.8 209.7,222.3 209.8,222.7 210.0,223.1 210.1,223.5 210.3,223.9 210.5,224.2 210.8,224.6 211.0,225.0 211.3,225.3 211.7,225.6 212.0,225.9 212.3,226.2 212.7,226.4 213.1,226.6 213.5,226.8 213.9,227.0 214.3,227.2 214.8,227.3 215.2,227.4 215.7,227.4 216.1,227.5 216.6,227.5 217.1,227.5 217.5,227.4 218.0,227.4 218.4,227.3 218.9,227.2 219.3,227.0 219.7,226.8 220.1,226.6 220.5,226.4 220.9,226.2 221.2,225.9 221.5,225.6 221.9,225.3 222.2,225.0 222.4,224.6 222.7,224.2 222.9,223.9 223.1,223.5 223.2,223.1 223.4,222.7 223.5,222.3 223.5,221.8 223.6,221.4 223.6,221.0 223.6,220.6 223.5,220.2 223.5,219.7 223.4,219.3 223.2,218.9ZM102.9,277.6 93.1,269.4 86.5,266.1 86.0,280.2 86.0,290.3 89.8,293.9 98.0,295.5 102.9,293.9 104.5,287.3ZM179.7,297.3 179.6,297.2 179.6,297.1 179.5,296.9 179.4,296.8 179.3,296.7 179.2,296.6 179.0,296.5 178.9,296.4 178.8,296.3 178.6,296.2 178.5,296.1 178.4,296.1 178.2,296.0 178.0,296.0 177.9,295.9 177.7,295.9 177.6,295.9 177.4,295.9 177.2,295.9 177.1,295.9 176.9,295.9 176.8,296.0 176.6,296.0 176.4,296.1 176.3,296.1 176.1,296.2 176.0,296.3 175.9,296.4 175.8,296.5 175.6,296.6 175.5,296.7 175.4,296.8 175.3,296.9 175.2,297.1 175.2,297.2 175.1,297.3 175.0,297.5 175.0,297.6 174.9,297.8 174.9,297.9 174.9,298.0 174.9,298.2 174.9,298.4 174.9,298.5 174.9,298.6 175.0,298.8 175.0,298.9 175.1,299.1 175.2,299.2 175.2,299.3 175.3,299.5 175.4,299.6 175.5,299.7 175.6,299.8 175.8,299.9 175.9,300.0 176.0,300.1 176.1,300.2 176.3,300.3 176.4,300.3 176.6,300.4 176.8,300.4 176.9,300.5 177.1,300.5 177.2,300.5 177.4,300.5 177.6,300.5 177.7,300.5 177.9,300.5 178.0,300.4 178.2,300.4 178.4,300.3 178.5,300.3 178.6,300.2 178.8,300.1 178.9,300.0 179.0,299.9 179.2,299.8 179.3,299.7 179.4,299.6 179.5,299.5 179.6,299.3 179.6,299.2 179.7,299.1 179.8,298.9 179.8,298.8 179.9,298.6 179.9,298.5 179.9,298.4 179.9,298.2 179.9,298.0 179.9,297.9 179.9,297.8 179.8,297.6 179.8,297.5ZM203.9,293.3 207.5,287.0 205.7,282.5 196.7,278.9 187.7,279.8 184.1,286.1 185.9,293.3 180.6,302.3 178.8,305.9 177.0,311.3 171.6,316.7 166.2,320.3 169.8,323.0 178.8,322.0 187.7,316.7 194.9,309.5 202.1,300.5ZM95.0,313.5 96.3,306.0 88.2,303.7 88.2,313.5ZM245.0,32.5 232.0,33.0 235.0,39.0 246.0,38.5 256.0,37.0 257.0,32.5ZM270.0,215.0 281.0,216.0 284.0,224.0 289.0,229.0 296.0,229.0 301.0,226.0 305.0,218.0 303.0,210.0 304.0,197.0 310.0,196.0 318.0,198.0 326.0,199.0 332.0,196.0 329.4,187.1 323.5,177.3 317.6,169.4 309.8,165.5 298.0,166.5 292.2,170.4 282.4,172.4 270.6,174.3 262.7,175.3 258.8,179.2 254.9,189.0 247.1,192.9 249.0,198.8 243.1,204.7 233.3,202.7 225.5,206.7 227.5,212.5 235.3,214.5 245.1,212.5 251.0,216.0 258.8,216.0ZM238.5,208.8 238.4,209.0 238.4,209.1 238.3,209.3 238.2,209.5 238.1,209.6 238.0,209.8 237.8,209.9 237.7,210.0 237.5,210.1 237.3,210.3 237.1,210.4 236.9,210.5 236.7,210.6 236.5,210.7 236.3,210.7 236.0,210.8 235.8,210.9 235.5,210.9 235.3,211.0 235.0,211.0 234.8,211.0 234.5,211.0 234.2,211.0 234.0,211.0 233.7,211.0 233.5,210.9 233.2,210.9 233.0,210.8 232.7,210.7 232.5,210.7 232.3,210.6 232.1,210.5 231.9,210.4 231.7,210.3 231.5,210.1 231.3,210.0 231.2,209.9 231.0,209.8 230.9,209.6 230.8,209.5 230.7,209.3 230.6,209.1 230.6,209.0 230.5,208.8 230.5,208.7 230.5,208.5 230.5,208.3 230.5,208.2 230.6,208.0 230.6,207.9 230.7,207.7 230.8,207.5 230.9,207.4 231.0,207.2 231.2,207.1 231.3,207.0 231.5,206.9 231.7,206.7 231.9,206.6 232.1,206.5 232.3,206.4 232.5,206.3 232.7,206.3 233.0,206.2 233.2,206.1 233.5,206.1 233.7,206.0 234.0,206.0 234.2,206.0 234.5,206.0 234.8,206.0 235.0,206.0 235.3,206.0 235.5,206.1 235.8,206.1 236.0,206.2 236.3,206.3 236.5,206.3 236.7,206.4 236.9,206.5 237.1,206.6 237.3,206.7 237.5,206.9 237.7,207.0 237.8,207.1 238.0,207.2 238.1,207.4 238.2,207.5 238.3,207.7 238.4,207.9 238.4,208.0 238.5,208.2 238.5,208.3 238.5,208.5 238.5,208.7ZM331.8,209.0 331.7,208.9 331.6,208.8 331.5,208.6 331.4,208.5 331.3,208.4 331.1,208.2 331.0,208.1 330.8,208.0 330.7,207.9 330.5,207.8 330.3,207.8 330.1,207.7 330.0,207.6 329.8,207.6 329.6,207.5 329.4,207.5 329.2,207.5 329.0,207.5 328.8,207.5 328.6,207.5 328.4,207.5 328.2,207.6 328.0,207.6 327.9,207.7 327.7,207.8 327.5,207.8 327.3,207.9 327.2,208.0 327.0,208.1 326.9,208.2 326.7,208.4 326.6,208.5 326.5,208.6 326.4,208.8 326.3,208.9 326.2,209.0 326.2,209.2 326.1,209.4 326.1,209.5 326.0,209.7 326.0,209.8 326.0,210.0 326.0,210.2 326.0,210.3 326.1,210.5 326.1,210.6 326.2,210.8 326.2,211.0 326.3,211.1 326.4,211.2 326.5,211.4 326.6,211.5 326.7,211.6 326.9,211.8 327.0,211.9 327.2,212.0 327.3,212.1 327.5,212.2 327.7,212.2 327.9,212.3 328.0,212.4 328.2,212.4 328.4,212.5 328.6,212.5 328.8,212.5 329.0,212.5 329.2,212.5 329.4,212.5 329.6,212.5 329.8,212.4 330.0,212.4 330.1,212.3 330.3,212.2 330.5,212.2 330.7,212.1 330.8,212.0 331.0,211.9 331.1,211.8 331.3,211.6 331.4,211.5 331.5,211.4 331.6,211.2 331.7,211.1 331.8,211.0 331.8,210.8 331.9,210.6 331.9,210.5 332.0,210.3 332.0,210.2 332.0,210.0 332.0,209.8 332.0,209.7 331.9,209.5 331.9,209.4 331.8,209.2ZM279.6,232.8 279.5,232.5 279.3,232.2 279.2,232.0 279.0,231.8 278.8,231.5 278.5,231.3 278.3,231.1 278.0,230.9 277.8,230.8 277.5,230.6 277.2,230.5 276.9,230.3 276.6,230.2 276.3,230.2 276.0,230.1 275.7,230.0 275.3,230.0 275.0,230.0 274.7,230.0 274.3,230.0 274.0,230.1 273.7,230.2 273.4,230.2 273.1,230.3 272.8,230.5 272.5,230.6 272.2,230.8 272.0,230.9 271.7,231.1 271.5,231.3 271.2,231.5 271.0,231.8 270.8,232.0 270.7,232.2 270.5,232.5 270.4,232.8 270.3,233.1 270.2,233.3 270.1,233.6 270.0,233.9 270.0,234.2 270.0,234.5 270.0,234.8 270.0,235.1 270.1,235.4 270.2,235.7 270.3,235.9 270.4,236.2 270.5,236.5 270.7,236.8 270.8,237.0 271.0,237.2 271.2,237.5 271.5,237.7 271.7,237.9 272.0,238.1 272.2,238.2 272.5,238.4 272.8,238.5 273.1,238.7 273.4,238.8 273.7,238.8 274.0,238.9 274.3,239.0 274.7,239.0 275.0,239.0 275.3,239.0 275.7,239.0 276.0,238.9 276.3,238.8 276.6,238.8 276.9,238.7 277.2,238.5 277.5,238.4 277.8,238.2 278.0,238.1 278.3,237.9 278.5,237.7 278.8,237.5 279.0,237.2 279.2,237.0 279.3,236.8 279.5,236.5 279.6,236.2 279.7,235.9 279.8,235.7 279.9,235.4 280.0,235.1 280.0,234.8 280.0,234.5 280.0,234.2 280.0,233.9 279.9,233.6 279.8,233.3 279.7,233.1ZM244.7,244.9 244.6,244.7 244.6,244.4 244.5,244.3 244.4,244.1 244.3,243.9 244.1,243.7 244.0,243.6 243.9,243.4 243.7,243.3 243.6,243.2 243.4,243.1 243.3,243.0 243.1,242.9 243.0,242.8 242.8,242.8 242.6,242.7 242.5,242.7 242.3,242.7 242.1,242.7 242.0,242.7 241.8,242.8 241.6,242.8 241.5,242.9 241.3,243.0 241.2,243.1 241.0,243.2 240.9,243.3 240.7,243.4 240.6,243.6 240.5,243.7 240.3,243.9 240.2,244.1 240.1,244.3 240.0,244.4 240.0,244.7 239.9,244.9 239.8,245.1 239.8,245.3 239.7,245.5 239.7,245.7 239.7,246.0 239.7,246.2 239.7,246.4 239.7,246.7 239.7,246.9 239.8,247.1 239.8,247.3 239.9,247.5 240.0,247.7 240.0,247.9 240.1,248.1 240.2,248.3 240.3,248.5 240.5,248.7 240.6,248.8 240.7,249.0 240.9,249.1 241.0,249.2 241.2,249.3 241.3,249.4 241.5,249.5 241.6,249.6 241.8,249.6 242.0,249.7 242.1,249.7 242.3,249.7 242.5,249.7 242.6,249.7 242.8,249.6 243.0,249.6 243.1,249.5 243.3,249.4 243.4,249.3 243.6,249.2 243.7,249.1 243.9,249.0 244.0,248.8 244.1,248.7 244.3,248.5 244.4,248.3 244.5,248.1 244.6,247.9 244.6,247.7 244.7,247.5 244.8,247.3 244.8,247.1 244.9,246.9 244.9,246.7 244.9,246.4 244.9,246.2 244.9,246.0 244.9,245.7 244.9,245.5 244.8,245.3 244.8,245.1ZM225.4,257.0 225.3,256.8 225.3,256.7 225.2,256.6 225.1,256.5 225.1,256.3 225.0,256.2 224.9,256.1 224.8,256.1 224.7,256.0 224.6,255.9 224.5,255.8 224.4,255.8 224.3,255.7 224.2,255.7 224.1,255.6 223.9,255.6 223.8,255.6 223.7,255.6 223.6,255.6 223.5,255.6 223.3,255.6 223.2,255.7 223.1,255.7 223.0,255.8 222.9,255.8 222.8,255.9 222.7,256.0 222.6,256.1 222.5,256.1 222.4,256.2 222.3,256.3 222.3,256.5 222.2,256.6 222.1,256.7 222.1,256.8 222.0,257.0 222.0,257.1 222.0,257.2 221.9,257.4 221.9,257.5 221.9,257.7 221.9,257.8 221.9,257.9 221.9,258.1 221.9,258.2 222.0,258.4 222.0,258.5 222.0,258.6 222.1,258.8 222.1,258.9 222.2,259.0 222.3,259.1 222.3,259.3 222.4,259.4 222.5,259.5 222.6,259.5 222.7,259.6 222.8,259.7 222.9,259.8 223.0,259.8 223.1,259.9 223.2,259.9 223.3,260.0 223.5,260.0 223.6,260.0 223.7,260.0 223.8,260.0 223.9,260.0 224.1,260.0 224.2,259.9 224.3,259.9 224.4,259.8 224.5,259.8 224.6,259.7 224.7,259.6 224.8,259.5 224.9,259.5 225.0,259.4 225.1,259.3 225.1,259.1 225.2,259.0 225.3,258.9 225.3,258.8 225.4,258.6 225.4,258.5 225.4,258.4 225.5,258.2 225.5,258.1 225.5,257.9 225.5,257.8 225.5,257.7 225.5,257.5 225.5,257.4 225.4,257.2 225.4,257.1ZM227.0,267.0 222.0,264.0 216.0,267.0 215.5,278.0 217.0,289.0 222.0,294.0 227.0,292.0 228.0,280.0Z" fill="#0a64ff"/>
<path d="M216.8,55.0 216.9,55.0 217.0,55.0 217.1,55.1 217.2,55.1 217.3,55.1 217.5,55.2 217.6,55.2 217.7,55.2 217.8,55.2 218.0,55.2 218.0,55.2 218.2,55.2 218.3,55.2 218.4,55.2 218.5,55.2 218.7,55.1 218.8,55.1 218.9,55.1 219.0,55.0 219.1,55.0 219.2,55.0 219.4,54.9 219.4,54.9 219.6,54.8 219.7,54.7 219.8,54.7 219.9,54.6 220.0,54.5 220.1,54.5 220.2,54.4 220.2,54.3 220.3,54.2 220.4,54.1 220.5,54.0 220.6,54.0 220.7,53.8 220.7,53.8 220.8,53.6 220.8,53.6 220.9,53.4 221.0,53.4 221.1,53.2 221.1,53.1 221.2,53.0 221.2,52.9 221.2,52.8 221.3,52.7 221.3,52.5 221.3,52.5 221.4,52.3 221.4,52.2 221.4,52.1 221.4,52.0 221.5,51.8 221.5,51.8 221.5,51.6 221.5,51.5 221.5,51.5 221.4,51.2 221.3,51.0 221.2,50.8 221.1,50.5 221.0,50.3 220.8,50.1 220.7,49.9 220.6,49.8 220.4,49.6 220.2,49.5 220.1,49.3 219.9,49.2 219.7,49.2 219.5,49.1 219.4,49.0 219.2,49.0 219.0,49.0 218.8,49.0 218.6,49.0 218.5,49.1 218.3,49.2 218.1,49.2 217.9,49.3 217.8,49.5 217.6,49.6 217.4,49.8 217.3,49.9 217.2,50.1 217.0,50.3 216.9,50.5 216.8,50.8 216.7,51.0 216.6,51.2 216.5,51.5 216.4,51.8 216.3,52.1 216.3,52.3 216.3,52.6 216.2,52.9 216.2,53.2 216.2,53.5 216.2,53.8 216.2,54.1 216.3,54.4 216.3,54.7 216.3,54.7 216.3,54.7 216.4,54.8 216.6,54.9 216.6,54.9ZM222.2,219.0 222.2,219.0 222.0,218.7 222.0,218.7 221.8,218.4 221.8,218.4 221.6,218.2 221.5,218.1 221.3,217.9 221.2,217.9 221.0,217.7 221.0,217.6 220.7,217.4 220.7,217.4 220.4,217.2 220.3,217.2 220.1,217.0 220.0,217.0 219.7,216.9 219.7,216.8 219.4,216.7 219.3,216.7 219.0,216.6 219.0,216.6 218.7,216.5 218.6,216.4 218.3,216.4 218.2,216.4 217.9,216.3 217.8,216.3 217.5,216.2 217.4,216.2 217.1,216.2 217.1,216.2 216.7,216.2 216.7,216.2 216.3,216.2 216.3,216.2 216.0,216.2 215.9,216.2 215.6,216.3 215.5,216.3 215.2,216.4 215.1,216.4 214.8,216.4 214.7,216.5 214.4,216.6 214.4,216.6 214.1,216.7 214.0,216.7 213.7,216.8 213.7,216.9 213.4,217.0 213.3,217.0 213.1,217.2 213.0,217.2 212.7,217.4 212.7,217.4 212.4,217.6 212.4,217.7 212.2,217.9 212.1,217.9 211.9,218.1 211.8,218.2 211.6,218.4 211.6,218.4 211.4,218.7 211.4,218.7 211.2,219.0 211.2,219.0 211.0,219.3 211.0,219.4 210.9,219.6 210.8,219.7 210.7,219.9 210.7,220.0 210.6,220.3 210.6,220.4 210.6,220.6 210.6,220.7 210.5,221.0 210.5,221.1 210.5,221.4 210.5,221.4 210.5,221.7 210.5,221.8 210.6,222.1 210.6,222.2 210.6,222.4 210.6,222.5 210.7,222.8 210.7,222.9 210.8,223.1 210.9,223.2 211.0,223.4 211.0,223.5 211.2,223.8 211.2,223.8 211.4,224.1 211.4,224.1 211.6,224.4 211.6,224.4 211.8,224.6 211.9,224.7 212.1,224.9 212.2,224.9 212.4,225.1 212.4,225.2 212.7,225.4 212.7,225.4 213.0,225.6 213.1,225.6 213.3,225.8 213.4,225.8 213.7,225.9 213.7,226.0 214.0,226.1 214.1,226.1 214.4,226.2 214.4,226.2 214.7,226.3 214.8,226.4 215.1,226.4 215.2,226.4 215.5,226.5 215.6,226.5 215.9,226.6 216.0,226.6 216.3,226.6 216.3,226.6 216.7,226.6 216.7,226.6 217.1,226.6 217.1,226.6 217.4,226.6 217.5,226.6 217.8,226.5 217.9,226.5 218.2,226.4 218.3,226.4 218.6,226.4 218.7,226.3 219.0,226.2 219.0,226.2 219.3,226.1 219.4,226.1 219.7,226.0 219.7,225.9 220.0,225.8 220.1,225.8 220.3,225.6 220.4,225.6 220.7,225.4 220.7,225.4 221.0,225.2 221.0,225.1 221.2,224.9 221.3,224.9 221.5,224.7 221.6,224.6 221.8,224.4 221.8,224.4 222.0,224.1 222.0,224.1 222.2,223.8 222.2,223.8 222.4,223.5 222.4,223.4 222.5,223.2 222.6,223.1 222.7,222.9 222.7,222.8 222.8,222.5 222.8,222.4 222.8,222.2 222.8,222.1 222.9,221.8 222.9,221.7 222.9,221.4 222.9,221.4 222.9,221.1 222.9,221.0 222.8,220.7 222.8,220.6 222.8,220.4 222.8,220.3 222.7,220.0 222.7,219.9 222.6,219.7 222.5,219.6 222.4,219.4 222.4,219.3ZM225.3,266.0 222.0,264.0 220.2,264.9 217.5,267.1 217.5,267.1 217.4,267.2 217.3,267.3 217.3,267.4 217.2,267.5 217.2,267.6 217.1,267.7 217.1,267.8 217.1,268.0 216.8,276.0 216.8,276.1 217.8,287.1 217.8,287.2 217.8,287.3 217.9,287.4 217.9,287.5 220.3,292.3 222.0,294.0 227.0,292.0 228.0,280.0 227.0,267.4 227.0,267.4 227.0,267.3 226.9,267.2 226.8,267.1 226.7,267.0ZM103.0,279.6 102.9,279.6 102.7,279.1 102.7,279.0 102.5,278.5 102.5,278.4 102.2,278.0 102.2,277.9 101.9,277.5 101.9,277.4 101.6,277.0 101.5,276.9 101.2,276.5 101.2,276.4 100.9,276.1 100.8,276.0 100.5,275.7 100.4,275.6 100.0,275.3 100.0,275.2 99.6,275.0 99.5,274.9 99.1,274.7 99.0,274.6 98.6,274.4 98.6,274.4 98.1,274.2 98.1,274.2 97.6,274.0 97.5,274.0 97.1,273.9 97.0,273.9 96.6,273.8 96.5,273.8 96.1,273.8 95.9,273.8 95.5,273.8 95.4,273.8 95.0,273.9 94.9,273.9 94.5,274.0 94.4,274.0 93.9,274.2 93.9,274.2 93.4,274.4 93.4,274.4 93.0,274.6 92.9,274.7 92.5,274.9 92.4,275.0 92.0,275.2 92.0,275.3 91.6,275.6 91.5,275.7 91.2,276.0 91.1,276.1 90.8,276.4 90.8,276.5 90.5,276.9 90.4,277.0 90.1,277.4 90.1,277.5 89.8,277.9 89.8,278.0 89.5,278.4 89.5,278.5 89.3,279.0 89.3,279.1 89.1,279.6 89.0,279.6 88.9,280.2 88.8,280.2 88.7,280.8 88.7,280.9 88.5,281.4 88.5,281.5 88.4,282.0 88.4,282.1 88.4,282.7 88.4,282.7 88.3,283.3 88.3,283.4 88.3,284.0 88.3,284.0 88.3,284.6 88.3,284.7 88.4,285.3 88.4,285.3 88.4,285.9 88.4,286.0 88.5,286.5 88.5,286.6 88.7,287.1 88.7,287.2 88.8,287.8 88.9,287.8 89.0,288.4 89.1,288.4 89.3,288.9 89.3,289.0 89.5,289.5 89.5,289.6 89.8,290.0 89.8,290.1 90.1,290.5 90.1,290.6 90.4,291.0 90.5,291.1 90.8,291.5 90.8,291.6 91.1,291.9 91.2,292.0 91.5,292.3 91.6,292.4 92.0,292.7 92.0,292.8 92.4,293.0 92.5,293.1 92.9,293.3 93.0,293.4 93.4,293.6 93.4,293.6 93.9,293.8 93.9,293.8 94.4,294.0 94.5,294.0 94.9,294.1 95.0,294.1 95.4,294.2 95.5,294.2 95.9,294.2 96.1,294.2 96.5,294.2 96.6,294.2 97.0,294.1 97.1,294.1 97.5,294.0 97.6,294.0 98.1,293.8 98.1,293.8 98.6,293.6 98.6,293.6 99.0,293.4 99.1,293.3 99.5,293.1 99.6,293.0 100.0,292.8 100.0,292.7 100.4,292.4 100.5,292.3 100.8,292.0 100.9,291.9 101.2,291.6 101.2,291.5 101.5,291.1 101.6,291.0 101.9,290.6 101.9,290.5 102.2,290.1 102.2,290.0 102.5,289.6 102.5,289.5 102.7,289.0 102.7,288.9 102.9,288.4 103.0,288.4 103.1,287.8 103.2,287.8 103.3,287.2 103.3,287.1 103.5,286.6 103.5,286.5 103.6,286.0 103.6,285.9 103.6,285.3 103.6,285.3 103.7,284.7 103.7,284.6 103.7,284.0 103.7,284.0 103.7,283.4 103.7,283.3 103.6,282.7 103.6,282.7 103.6,282.1 103.6,282.0 103.5,281.5 103.5,281.4 103.3,280.9 103.3,280.8 103.2,280.2 103.1,280.2ZM191.8,279.8 191.3,280.1 191.2,280.1 190.7,280.4 190.7,280.4 190.2,280.7 190.2,280.8 189.7,281.1 189.7,281.1 189.3,281.4 189.2,281.4 188.9,281.7 188.8,281.8 188.5,282.1 188.4,282.1 188.1,282.5 188.1,282.5 187.8,282.8 187.7,282.9 187.5,283.2 187.4,283.3 187.2,283.6 187.2,283.7 187.0,284.0 187.0,284.1 186.9,284.4 186.8,284.6 186.8,284.9 186.7,285.0 186.7,285.3 186.7,285.5 186.7,285.8 186.7,285.8 186.7,285.9 186.8,286.2 186.8,286.3 186.8,286.4 186.9,286.6 186.9,286.7 187.0,286.8 187.1,287.1 187.2,287.2 187.4,287.4 187.5,287.6 187.7,287.8 187.8,287.9 188.0,288.1 188.1,288.2 188.4,288.3 188.5,288.4 188.9,288.6 188.9,288.6 189.3,288.8 189.4,288.8 189.8,288.9 189.9,289.0 190.3,289.1 190.3,289.1 190.8,289.2 190.9,289.2 191.3,289.3 191.4,289.3 191.9,289.3 192.0,289.4 192.5,289.4 192.5,289.4 193.1,289.4 193.1,289.4 193.7,289.4 193.8,289.4 194.4,289.4 194.4,289.4 195.0,289.3 195.0,289.3 195.7,289.3 195.7,289.3 196.3,289.2 196.3,289.2 197.0,289.1 197.0,289.1 197.6,288.9 197.7,288.9 198.3,288.8 198.3,288.8 199.0,288.6 199.0,288.6 199.6,288.4 199.7,288.4 200.3,288.2 200.3,288.2 200.9,288.0 201.0,288.0 201.6,287.8 201.6,287.8 202.2,287.5 202.2,287.5 202.8,287.3 202.8,287.2 203.4,287.0 203.4,287.0 203.9,286.7 204.0,286.7 204.5,286.4 204.5,286.4 205.0,286.1 205.0,286.0 205.5,285.7 205.5,285.7 205.9,285.4 206.0,285.4 206.3,285.1 206.4,285.0 206.6,284.8 205.7,282.5 196.7,278.9 193.0,279.3 193.0,279.3 193.0,279.3 192.4,279.5 192.4,279.6 191.8,279.8ZM188.3,292.3 188.3,292.2 188.2,292.1 188.1,292.0 188.1,291.9 188.0,291.8 187.9,291.7 187.8,291.6 187.7,291.5 187.7,291.4 187.6,291.3 187.5,291.3 187.4,291.1 187.3,291.1 187.2,291.0 187.1,290.9 187.0,290.9 186.9,290.8 186.7,290.7 186.7,290.7 186.5,290.6 186.4,290.6 186.3,290.5 186.2,290.5 186.0,290.4 186.0,290.4 185.8,290.4 185.7,290.4 185.5,290.3 185.5,290.3 185.3,290.3 185.2,290.3 185.2,290.3 185.9,293.3 183.3,297.7 183.3,297.7 183.5,297.8 183.6,297.8 183.7,297.9 183.8,297.9 184.0,298.0 184.0,298.0 184.2,298.0 184.3,298.0 184.5,298.1 184.5,298.1 184.7,298.1 184.8,298.1 185.0,298.1 185.0,298.1 185.2,298.1 185.3,298.1 185.5,298.1 185.5,298.1 185.7,298.0 185.8,298.0 186.0,298.0 186.0,298.0 186.2,297.9 186.3,297.9 186.4,297.8 186.5,297.8 186.7,297.7 186.7,297.7 186.9,297.6 187.0,297.5 187.1,297.5 187.2,297.4 187.3,297.3 187.4,297.3 187.5,297.1 187.6,297.1 187.7,297.0 187.7,296.9 187.8,296.8 187.9,296.7 188.0,296.6 188.1,296.5 188.1,296.4 188.2,296.3 188.3,296.2 188.3,296.1 188.4,295.9 188.4,295.9 188.5,295.7 188.5,295.6 188.6,295.5 188.6,295.4 188.7,295.2 188.7,295.2 188.7,295.0 188.7,294.9 188.8,294.7 188.8,294.7 188.8,294.5 188.8,294.4 188.8,294.2 188.8,294.2 188.8,294.0 188.8,293.9 188.8,293.7 188.8,293.7 188.7,293.5 188.7,293.4 188.7,293.2 188.7,293.2 188.6,293.0 188.6,292.9 188.5,292.8 188.5,292.7 188.4,292.5 188.4,292.5ZM203.3,293.0 203.2,292.9 203.2,292.8 203.1,292.7 203.0,292.6 203.0,292.5 202.9,292.4 202.8,292.3 202.7,292.2 202.6,292.2 202.5,292.2 202.3,292.1 202.2,292.1 202.1,292.1 196.7,292.1 196.6,292.1 196.5,292.1 196.4,292.1 196.3,292.2 196.2,292.2 196.1,292.3 196.0,292.3 188.8,297.7 188.7,297.8 188.6,297.9 181.5,305.1 181.4,305.2 177.1,310.9 177.0,311.3 176.4,311.9 176.1,312.3 169.0,319.5 168.9,319.5 168.8,319.6 168.7,319.7 168.7,319.8 168.7,319.9 168.6,320.0 168.6,320.2 168.6,320.3 168.6,320.4 168.6,320.5 168.6,320.6 168.7,320.7 168.7,320.8 168.8,320.9 168.8,321.0 168.9,321.1 169.0,321.2 169.1,321.3 169.2,321.3 169.3,321.4 172.2,322.7 175.4,322.4 181.1,319.6 181.3,319.5 186.6,315.9 186.6,315.9 193.8,310.5 193.9,310.3 195.3,309.0 202.1,300.5 203.5,294.7 203.3,293.1ZM254.8,32.5 254.8,32.5 248.6,32.5 248.6,32.5 248.6,32.6 248.5,32.7 248.4,32.8 248.4,32.9 248.3,33.0 248.3,33.1 248.2,33.2 248.2,33.3 248.2,33.4 248.2,33.5 248.1,33.6 248.1,33.7 248.1,33.8 248.1,33.9 248.1,34.1 248.1,34.2 248.1,34.3 248.1,34.4 248.2,34.5 248.2,34.6 248.2,34.7 248.2,34.8 248.3,34.9 248.3,35.0 248.4,35.1 248.4,35.2 248.5,35.3 248.6,35.4 248.6,35.5 248.7,35.6 248.7,35.6 248.8,35.7 248.9,35.8 249.0,35.9 249.0,35.9 249.1,36.0 249.2,36.0 249.3,36.1 249.4,36.1 249.5,36.2 249.5,36.3 249.7,36.3 249.7,36.4 249.8,36.4 249.9,36.4 250.0,36.5 250.1,36.5 250.2,36.6 250.3,36.6 250.4,36.6 250.5,36.6 250.6,36.7 250.7,36.7 250.8,36.7 250.9,36.7 251.0,36.8 251.1,36.8 251.3,36.8 251.3,36.8 251.5,36.8 251.5,36.8 251.7,36.8 251.7,36.8 251.9,36.8 251.9,36.8 252.1,36.8 252.1,36.8 252.3,36.8 252.4,36.8 252.5,36.7 252.6,36.7 252.7,36.7 252.8,36.7 252.9,36.6 253.0,36.6 253.1,36.6 253.2,36.6 253.3,36.5 253.4,36.5 253.5,36.4 253.6,36.4 253.7,36.4 253.7,36.3 253.9,36.3 253.9,36.2 254.0,36.1 254.1,36.1 254.2,36.0 254.3,36.0 254.4,35.9 254.4,35.9 254.5,35.8 254.6,35.7 254.7,35.6 254.7,35.6 254.8,35.5 254.8,35.4 254.9,35.3 255.0,35.2 255.0,35.1 255.1,35.0 255.1,34.9 255.2,34.8 255.2,34.7 255.2,34.6 255.2,34.5 255.3,34.4 255.3,34.3 255.3,34.2 255.3,34.1 255.3,33.9 255.3,33.8 255.3,33.7 255.3,33.6 255.2,33.5 255.2,33.4 255.2,33.3 255.2,33.2 255.1,33.1 255.1,33.0 255.0,32.9 255.0,32.8 254.9,32.7 254.8,32.6ZM238.9,35.1 238.8,35.0 238.7,34.9 238.7,34.9 238.6,34.8 238.5,34.7 238.4,34.6 238.4,34.6 238.3,34.5 238.2,34.5 238.1,34.4 238.1,34.4 238.0,34.3 237.9,34.3 237.8,34.2 237.7,34.2 237.6,34.1 237.5,34.1 237.4,34.0 237.3,34.0 237.2,34.0 237.2,34.0 237.0,33.9 237.0,33.9 236.8,33.9 236.8,33.9 236.6,33.8 236.6,33.8 236.4,33.8 236.4,33.8 236.2,33.8 236.2,33.8 236.0,33.8 236.0,33.8 235.8,33.8 235.8,33.8 235.6,33.8 235.6,33.8 235.4,33.8 235.4,33.8 235.2,33.9 235.2,33.9 235.0,33.9 235.0,33.9 234.8,34.0 234.8,34.0 234.7,34.0 234.6,34.0 234.5,34.1 234.4,34.1 234.3,34.2 234.2,34.2 234.1,34.3 234.0,34.3 233.9,34.4 233.9,34.4 233.8,34.5 233.7,34.5 233.6,34.6 233.6,34.6 233.5,34.7 233.4,34.8 233.3,34.9 233.3,34.9 233.2,35.0 233.1,35.1 233.1,35.2 235.0,39.0 238.0,38.9 238.1,38.8 238.1,38.8 238.2,38.7 238.3,38.7 238.4,38.6 238.4,38.6 238.5,38.5 238.6,38.4 238.7,38.3 238.7,38.3 238.8,38.2 238.9,38.1 238.9,38.0 239.0,37.9 239.1,37.8 239.1,37.8 239.1,37.7 239.2,37.6 239.2,37.5 239.3,37.4 239.3,37.3 239.3,37.2 239.4,37.1 239.4,37.0 239.4,36.9 239.4,36.8 239.4,36.7 239.4,36.5 239.4,36.4 239.4,36.3 239.4,36.2 239.4,36.1 239.3,36.0 239.3,35.9 239.3,35.8 239.2,35.7 239.2,35.6 239.1,35.5 239.1,35.4 239.1,35.4 239.0,35.3 238.9,35.2ZM289.4,211.1 289.5,211.1 289.6,211.0 289.7,211.0 289.8,210.9 289.9,210.8 290.1,210.5 290.2,210.4 290.3,210.3 290.3,210.2 290.4,210.1 290.4,210.0 290.4,209.9 290.5,209.8 290.5,209.7 290.4,209.6 290.4,209.4 290.4,209.3 290.4,209.2 291.0,209.0 291.0,209.0 291.2,209.0 291.3,209.0 291.4,209.0 291.5,208.9 291.6,208.9 291.7,208.8 291.8,208.7 291.9,208.6 292.8,207.6 297.1,207.6 302.0,211.4 302.1,211.4 302.2,211.5 302.3,211.5 302.4,211.6 303.5,211.8 303.0,210.0 304.0,197.5 302.6,196.6 302.6,192.7 304.8,191.1 304.9,191.0 308.8,187.7 308.9,187.6 308.9,187.6 309.0,187.5 309.1,187.4 309.1,187.3 309.2,187.1 309.2,187.0 309.2,186.9 309.2,186.8 309.2,180.7 312.1,177.2 312.2,177.1 312.2,177.0 312.3,176.9 312.3,176.8 312.4,176.7 313.7,171.4 313.7,171.3 313.7,171.1 313.7,171.0 313.7,170.9 313.7,170.8 313.6,170.7 313.6,170.5 313.5,170.4 313.4,170.3 310.2,166.4 310.1,166.4 310.1,166.3 310.0,166.2 309.9,166.1 309.8,166.1 309.6,166.0 309.5,166.0 309.4,166.0 306.7,165.8 300.3,166.3 297.7,167.4 297.6,167.4 297.5,167.5 297.5,167.6 297.4,167.6 297.3,167.7 297.2,167.8 294.2,172.0 288.3,173.2 280.6,172.7 270.6,174.3 267.9,174.6 265.3,176.8 265.2,176.9 265.2,176.9 265.1,177.0 265.0,177.1 265.0,177.3 262.4,183.6 258.8,188.5 252.5,192.4 252.4,192.5 252.3,192.6 248.4,196.5 248.3,196.5 248.3,196.5 249.0,198.8 248.3,199.5 249.3,205.2 249.3,205.3 250.8,212.3 250.9,212.4 250.9,212.5 250.9,212.6 251.0,212.7 251.1,212.8 251.2,212.8 251.2,212.9 251.3,213.0 251.4,213.1 251.5,213.1 251.6,213.1 251.7,213.2 258.7,214.7 258.9,214.7 259.0,214.7 259.1,214.7 266.1,214.2 276.1,213.7 276.1,213.7 284.1,213.2 284.2,213.2 284.3,213.2 284.4,213.1ZM241.8,212.4 241.6,212.2 241.3,212.1 241.1,212.0 240.8,211.9 240.4,211.7 240.1,211.6 239.8,211.5 239.4,211.4 239.0,211.3 238.6,211.3 238.2,211.2 237.8,211.1 237.3,211.1 236.9,211.0 236.4,211.0 236.0,211.0 235.5,211.0 235.0,211.0 234.6,211.0 234.1,211.0 233.7,211.1 233.2,211.1 232.8,211.2 232.4,211.3 232.0,211.3 231.6,211.4 231.2,211.5 230.9,211.6 230.6,211.7 230.2,211.9 229.9,212.0 229.7,212.1 229.4,212.2 229.2,212.4 229.0,212.5 228.9,212.7 228.7,212.9 228.6,213.0 228.6,213.2 228.5,213.3 228.5,213.5 228.5,213.7 228.6,213.8 228.6,214.0 228.7,214.1 228.9,214.3 229.0,214.5 229.2,214.6 229.4,214.8 229.7,214.9 229.9,215.0 230.2,215.1 230.6,215.3 230.9,215.4 231.2,215.5 231.6,215.6 232.0,215.7 232.4,215.7 232.8,215.8 233.2,215.9 233.7,215.9 234.1,216.0 234.6,216.0 235.0,216.0 235.5,216.0 236.0,216.0 236.4,216.0 236.9,216.0 237.3,215.9 237.8,215.9 238.2,215.8 238.6,215.7 239.0,215.7 239.4,215.6 239.8,215.5 240.1,215.4 240.4,215.3 240.8,215.1 241.1,215.0 241.3,214.9 241.6,214.8 241.8,214.6 242.0,214.5 242.1,214.3 242.3,214.1 242.4,214.0 242.4,213.8 242.5,213.7 242.5,213.5 242.5,213.3 242.4,213.2 242.4,213.0 242.3,212.9 242.1,212.7 242.0,212.5ZM287.0,227.0 293.0,229.0 299.0,227.0 299.0,220.0 293.0,218.0 286.0,220.0ZM278.3,233.0 278.2,232.8 278.1,232.6 277.9,232.4 277.8,232.2 277.6,232.0 277.4,231.9 277.3,231.7 277.1,231.6 276.9,231.5 276.6,231.4 276.4,231.3 276.2,231.2 276.0,231.1 275.7,231.1 275.5,231.0 275.2,231.0 275.0,231.0 274.8,231.0 274.5,231.0 274.3,231.1 274.0,231.1 273.8,231.2 273.6,231.3 273.4,231.4 273.2,231.5 272.9,231.6 272.7,231.7 272.6,231.9 272.4,232.0 272.2,232.2 272.1,232.4 271.9,232.6 271.8,232.8 271.7,233.0 271.6,233.2 271.5,233.4 271.4,233.6 271.4,233.8 271.3,234.0 271.3,234.3 271.3,234.5 271.3,234.7 271.3,235.0 271.4,235.2 271.4,235.4 271.5,235.6 271.6,235.8 271.7,236.0 271.8,236.2 271.9,236.4 272.1,236.6 272.2,236.8 272.4,237.0 272.6,237.1 272.7,237.3 272.9,237.4 273.2,237.5 273.4,237.6 273.6,237.7 273.8,237.8 274.0,237.9 274.3,237.9 274.5,238.0 274.8,238.0 275.0,238.0 275.2,238.0 275.5,238.0 275.7,237.9 276.0,237.9 276.2,237.8 276.4,237.7 276.6,237.6 276.9,237.5 277.1,237.4 277.3,237.3 277.4,237.1 277.6,237.0 277.8,236.8 277.9,236.6 278.1,236.4 278.2,236.2 278.3,236.0 278.4,235.8 278.5,235.6 278.6,235.4 278.6,235.2 278.7,235.0 278.7,234.7 278.7,234.5 278.7,234.3 278.7,234.0 278.6,233.8 278.6,233.6 278.5,233.4 278.4,233.2Z" fill="#9664ff"/>
<path d="M221.4,220.1 221.3,219.9 221.2,219.6 221.0,219.4 220.9,219.2 220.7,219.0 220.5,218.8 220.2,218.6 220.0,218.4 219.7,218.2 219.5,218.1 219.2,217.9 218.9,217.8 218.6,217.7 218.3,217.6 218.0,217.5 217.7,217.5 217.4,217.4 217.0,217.4 216.7,217.4 216.4,217.4 216.0,217.4 215.7,217.5 215.4,217.5 215.1,217.6 214.8,217.7 214.5,217.8 214.2,217.9 213.9,218.1 213.7,218.2 213.4,218.4 213.2,218.6 212.9,218.8 212.7,219.0 212.5,219.2 212.4,219.4 212.2,219.6 212.1,219.9 212.0,220.1 211.9,220.4 211.8,220.6 211.7,220.9 211.7,221.1 211.7,221.4 211.7,221.7 211.7,221.9 211.8,222.2 211.9,222.4 212.0,222.7 212.1,222.9 212.2,223.2 212.4,223.4 212.5,223.6 212.7,223.8 212.9,224.0 213.2,224.2 213.4,224.4 213.7,224.6 213.9,224.7 214.2,224.9 214.5,225.0 214.8,225.1 215.1,225.2 215.4,225.3 215.7,225.3 216.0,225.4 216.4,225.4 216.7,225.4 217.0,225.4 217.4,225.4 217.7,225.3 218.0,225.3 218.3,225.2 218.6,225.1 218.9,225.0 219.2,224.9 219.5,224.7 219.7,224.6 220.0,224.4 220.2,224.2 220.5,224.0 220.7,223.8 220.9,223.6 221.0,223.4 221.2,223.2 221.3,222.9 221.4,222.7 221.5,222.4 221.6,222.2 221.7,221.9 221.7,221.7 221.7,221.4 221.7,221.1 221.7,220.9 221.6,220.6 221.5,220.4ZM206.4,279.6 206.1,279.5 205.8,279.3 205.4,279.1 205.0,279.0 204.6,278.9 204.1,278.8 203.7,278.7 203.2,278.6 202.6,278.6 202.1,278.6 201.5,278.6 200.9,278.6 200.3,278.7 199.7,278.7 199.0,278.8 198.4,278.9 197.8,279.0 197.1,279.2 196.5,279.3 195.9,279.5 195.3,279.7 194.6,279.9 194.0,280.2 193.5,280.4 192.9,280.6 192.4,280.9 191.8,281.2 191.3,281.5 190.9,281.8 190.4,282.1 190.0,282.4 189.6,282.7 189.3,283.0 189.0,283.3 188.7,283.6 188.5,283.9 188.3,284.2 188.1,284.5 188.0,284.8 187.9,285.1 187.9,285.4 187.9,285.7 187.9,286.0 188.0,286.2 188.2,286.5 188.3,286.7 188.6,287.0 188.8,287.2 189.1,287.3 189.4,287.5 189.8,287.7 190.2,287.8 190.6,287.9 191.1,288.0 191.5,288.1 192.0,288.2 192.6,288.2 193.1,288.2 193.7,288.2 194.3,288.2 194.9,288.1 195.5,288.1 196.1,288.0 196.8,287.9 197.4,287.8 198.1,287.6 198.7,287.5 199.3,287.3 199.9,287.1 200.6,286.9 201.1,286.6 201.7,286.4 202.3,286.2 202.8,285.9 203.4,285.6 203.9,285.3 204.3,285.0 204.8,284.7 205.2,284.4 205.6,284.1 205.9,283.8 206.2,283.5 206.5,283.2 206.7,282.9 206.9,282.6 207.1,282.3 207.2,282.0 207.3,281.7 207.3,281.4 207.3,281.1 207.3,280.8 207.2,280.6 207.0,280.3 206.9,280.1 206.6,279.8ZM102.2,281.1 102.0,280.6 101.8,280.0 101.6,279.5 101.4,279.0 101.2,278.5 100.9,278.1 100.6,277.6 100.3,277.2 100.0,276.9 99.6,276.5 99.2,276.2 98.9,275.9 98.5,275.7 98.1,275.5 97.7,275.3 97.3,275.2 96.8,275.1 96.4,275.0 96.0,275.0 95.6,275.0 95.2,275.1 94.7,275.2 94.3,275.3 93.9,275.5 93.5,275.7 93.1,275.9 92.8,276.2 92.4,276.5 92.0,276.9 91.7,277.2 91.4,277.6 91.1,278.1 90.8,278.5 90.6,279.0 90.4,279.5 90.2,280.0 90.0,280.6 89.8,281.1 89.7,281.7 89.6,282.2 89.6,282.8 89.5,283.4 89.5,284.0 89.5,284.6 89.6,285.2 89.6,285.8 89.7,286.3 89.8,286.9 90.0,287.4 90.2,288.0 90.4,288.5 90.6,289.0 90.8,289.5 91.1,289.9 91.4,290.4 91.7,290.8 92.0,291.1 92.4,291.5 92.8,291.8 93.1,292.1 93.5,292.3 93.9,292.5 94.3,292.7 94.7,292.8 95.2,292.9 95.6,293.0 96.0,293.0 96.4,293.0 96.8,292.9 97.3,292.8 97.7,292.7 98.1,292.5 98.5,292.3 98.9,292.1 99.2,291.8 99.6,291.5 100.0,291.1 100.3,290.8 100.6,290.4 100.9,289.9 101.2,289.5 101.4,289.0 101.6,288.5 101.8,288.0 102.0,287.4 102.2,286.9 102.3,286.3 102.4,285.8 102.4,285.2 102.5,284.6 102.5,284.0 102.5,283.4 102.4,282.8 102.4,282.2 102.3,281.7ZM187.4,293.2 187.3,293.0 187.3,292.8 187.2,292.7 187.1,292.6 187.0,292.4 186.8,292.3 186.7,292.2 186.6,292.1 186.4,292.0 186.3,291.9 186.1,291.8 186.0,291.7 185.8,291.6 185.7,291.6 185.5,291.6 185.3,291.5 185.2,291.5 185.0,291.5 184.8,291.5 184.7,291.5 184.5,291.6 184.3,291.6 184.2,291.6 184.0,291.7 183.9,291.8 183.7,291.9 183.6,292.0 183.4,292.1 183.3,292.2 183.2,292.3 183.0,292.4 182.9,292.6 182.8,292.7 182.7,292.8 182.7,293.0 182.6,293.2 182.5,293.3 182.5,293.5 182.4,293.7 182.4,293.8 182.4,294.0 182.4,294.2 182.4,294.4 182.4,294.6 182.4,294.7 182.5,294.9 182.5,295.1 182.6,295.2 182.7,295.4 182.7,295.6 182.8,295.7 182.9,295.8 183.0,296.0 183.2,296.1 183.3,296.2 183.4,296.3 183.6,296.4 183.7,296.5 183.9,296.6 184.0,296.7 184.2,296.8 184.3,296.8 184.5,296.8 184.7,296.9 184.8,296.9 185.0,296.9 185.2,296.9 185.3,296.9 185.5,296.8 185.7,296.8 185.8,296.8 186.0,296.7 186.1,296.6 186.3,296.5 186.4,296.4 186.6,296.3 186.7,296.2 186.8,296.1 187.0,296.0 187.1,295.8 187.2,295.7 187.3,295.6 187.3,295.4 187.4,295.2 187.5,295.1 187.5,294.9 187.6,294.7 187.6,294.6 187.6,294.4 187.6,294.2 187.6,294.0 187.6,293.8 187.6,293.7 187.5,293.5 187.5,293.3ZM104.2,299.2 104.1,299.1 104.0,299.0 103.9,298.9 103.7,298.8 103.6,298.7 103.5,298.6 103.3,298.5 103.1,298.4 103.0,298.3 102.8,298.3 102.6,298.2 102.4,298.2 102.2,298.1 102.0,298.1 101.8,298.0 101.6,298.0 101.4,298.0 101.2,298.0 101.0,298.0 100.8,298.0 100.6,298.0 100.4,298.1 100.2,298.1 100.0,298.2 99.8,298.2 99.6,298.3 99.4,298.3 99.3,298.4 99.1,298.5 98.9,298.6 98.8,298.7 98.7,298.8 98.5,298.9 98.4,299.0 98.3,299.1 98.2,299.2 98.2,299.4 98.1,299.5 98.1,299.6 98.0,299.7 98.0,299.9 98.0,300.0 98.0,300.1 98.0,300.3 98.1,300.4 98.1,300.5 98.2,300.6 98.2,300.8 98.3,300.9 98.4,301.0 98.5,301.1 98.7,301.2 98.8,301.3 98.9,301.4 99.1,301.5 99.3,301.6 99.4,301.7 99.6,301.7 99.8,301.8 100.0,301.8 100.2,301.9 100.4,301.9 100.6,302.0 100.8,302.0 101.0,302.0 101.2,302.0 101.4,302.0 101.6,302.0 101.8,302.0 102.0,301.9 102.2,301.9 102.4,301.8 102.6,301.8 102.8,301.7 103.0,301.7 103.1,301.6 103.3,301.5 103.5,301.4 103.6,301.3 103.7,301.2 103.9,301.1 104.0,301.0 104.1,300.9 104.2,300.8 104.2,300.6 104.3,300.5 104.3,300.4 104.4,300.3 104.4,300.1 104.4,300.0 104.4,299.9 104.4,299.7 104.3,299.6 104.3,299.5 104.2,299.4ZM198.5,304.1 203.0,298.7 202.1,293.3 196.7,293.3 189.5,298.7 182.4,305.9 177.0,313.1 169.8,320.3 173.4,322.0 180.6,318.5 185.9,314.9 193.1,309.5ZM253.9,33.4 253.9,33.3 253.8,33.2 253.7,33.1 253.6,33.0 253.5,32.9 253.4,32.9 253.3,32.8 253.2,32.7 253.0,32.7 252.9,32.6 252.8,32.6 252.6,32.5 252.5,32.5 252.3,32.5 252.2,32.4 252.0,32.4 251.9,32.4 251.7,32.4 251.5,32.4 251.4,32.4 251.2,32.4 251.1,32.5 250.9,32.5 250.8,32.5 250.6,32.6 250.5,32.6 250.4,32.7 250.2,32.7 250.1,32.8 250.0,32.9 249.9,32.9 249.8,33.0 249.7,33.1 249.6,33.2 249.5,33.3 249.5,33.4 249.4,33.5 249.4,33.6 249.3,33.7 249.3,33.8 249.3,33.9 249.3,34.0 249.3,34.1 249.3,34.2 249.3,34.3 249.4,34.4 249.4,34.5 249.5,34.6 249.5,34.7 249.6,34.8 249.7,34.9 249.8,35.0 249.9,35.1 250.0,35.1 250.1,35.2 250.2,35.3 250.4,35.3 250.5,35.4 250.6,35.4 250.8,35.5 250.9,35.5 251.1,35.5 251.2,35.6 251.4,35.6 251.5,35.6 251.7,35.6 251.9,35.6 252.0,35.6 252.2,35.6 252.3,35.5 252.5,35.5 252.6,35.5 252.8,35.4 252.9,35.4 253.0,35.3 253.2,35.3 253.3,35.2 253.4,35.1 253.5,35.1 253.6,35.0 253.7,34.9 253.8,34.8 253.9,34.7 253.9,34.6 254.0,34.5 254.0,34.4 254.1,34.3 254.1,34.2 254.1,34.1 254.1,34.0 254.1,33.9 254.1,33.8 254.1,33.7 254.0,33.6 254.0,33.5ZM238.0,36.0 238.0,35.9 237.9,35.8 237.8,35.7 237.7,35.6 237.7,35.5 237.6,35.5 237.5,35.4 237.3,35.3 237.2,35.3 237.1,35.2 237.0,35.2 236.8,35.1 236.7,35.1 236.6,35.1 236.4,35.0 236.3,35.0 236.1,35.0 236.0,35.0 235.9,35.0 235.7,35.0 235.6,35.0 235.4,35.1 235.3,35.1 235.2,35.1 235.0,35.2 234.9,35.2 234.8,35.3 234.7,35.3 234.5,35.4 234.4,35.5 234.3,35.5 234.3,35.6 234.2,35.7 234.1,35.8 234.0,35.9 234.0,36.0 233.9,36.1 233.9,36.2 233.8,36.3 233.8,36.4 233.8,36.5 233.8,36.6 233.8,36.7 233.8,36.8 233.8,36.9 233.9,37.0 233.9,37.1 234.0,37.2 234.0,37.3 234.1,37.4 234.2,37.5 234.3,37.6 234.3,37.7 234.4,37.7 234.5,37.8 234.7,37.9 234.8,37.9 234.9,38.0 235.0,38.0 235.2,38.1 235.3,38.1 235.4,38.1 235.6,38.2 235.7,38.2 235.9,38.2 236.0,38.2 236.1,38.2 236.3,38.2 236.4,38.2 236.6,38.1 236.7,38.1 236.8,38.1 237.0,38.0 237.1,38.0 237.2,37.9 237.3,37.9 237.5,37.8 237.6,37.7 237.7,37.7 237.7,37.6 237.8,37.5 237.9,37.4 238.0,37.3 238.0,37.2 238.1,37.1 238.1,37.0 238.2,36.9 238.2,36.8 238.2,36.7 238.2,36.6 238.2,36.5 238.2,36.4 238.2,36.3 238.1,36.2 238.1,36.1ZM220.2,50.4 220.1,50.3 220.1,50.1 220.0,50.0 219.9,49.8 219.8,49.7 219.7,49.5 219.6,49.4 219.5,49.3 219.4,49.2 219.3,49.1 219.1,49.0 219.0,48.9 218.9,48.8 218.7,48.7 218.6,48.7 218.4,48.7 218.3,48.6 218.2,48.6 218.0,48.6 217.8,48.6 217.7,48.6 217.6,48.7 217.4,48.7 217.3,48.7 217.1,48.8 217.0,48.9 216.8,49.0 216.7,49.1 216.6,49.2 216.5,49.3 216.4,49.4 216.3,49.5 216.2,49.7 216.1,49.8 216.0,50.0 215.9,50.1 215.9,50.3 215.8,50.4 215.8,50.6 215.7,50.8 215.7,50.9 215.7,51.1 215.7,51.3 215.7,51.5 215.7,51.7 215.7,51.8 215.8,52.0 215.8,52.2 215.9,52.3 215.9,52.5 216.0,52.7 216.1,52.8 216.2,52.9 216.3,53.1 216.4,53.2 216.5,53.3 216.6,53.4 216.7,53.5 216.8,53.6 217.0,53.7 217.1,53.8 217.3,53.9 217.4,53.9 217.6,53.9 217.7,54.0 217.8,54.0 218.0,54.0 218.2,54.0 218.3,54.0 218.4,53.9 218.6,53.9 218.7,53.9 218.9,53.8 219.0,53.7 219.1,53.6 219.3,53.5 219.4,53.4 219.5,53.3 219.6,53.2 219.7,53.1 219.8,52.9 219.9,52.8 220.0,52.7 220.1,52.5 220.1,52.3 220.2,52.2 220.2,52.0 220.3,51.8 220.3,51.7 220.3,51.5 220.3,51.3 220.3,51.1 220.3,50.9 220.3,50.8 220.2,50.6ZM284.0,212.0 289.0,210.0 289.3,209.7 283.0,210.5 262.0,210.5 262.0,204.0 275.0,203.5 291.0,203.5 291.0,207.8 292.3,206.4 297.5,206.4 302.7,210.4 308.0,211.7 313.2,210.4 315.8,205.1 311.9,199.9 305.4,199.9 301.4,197.3 301.4,192.1 304.1,190.1 308.0,186.8 308.0,180.3 311.2,176.4 312.5,171.1 309.3,167.2 302.7,166.6 298.2,168.5 294.9,173.1 288.4,174.4 279.2,173.8 270.1,174.4 266.1,177.7 263.5,184.2 259.6,189.4 253.1,193.4 249.2,197.3 250.5,205.0 252.0,212.0 259.0,213.5 266.0,213.0 276.0,212.5ZM226.0,268.0 222.0,265.0 218.3,268.0 218.0,276.0 219.0,287.0 222.0,293.0 226.0,292.0 227.0,280.0Z" fill="#e063ff"/>
<path d="M295.9,183.5 295.7,183.0 295.5,182.6 295.2,182.1 294.8,181.7 294.4,181.3 293.9,180.8 293.4,180.5 292.9,180.1 292.3,179.7 291.6,179.4 291.0,179.1 290.2,178.8 289.5,178.6 288.7,178.4 287.9,178.2 287.1,178.0 286.3,177.8 285.4,177.7 284.5,177.7 283.7,177.6 282.8,177.6 281.9,177.6 281.1,177.7 280.2,177.7 279.3,177.8 278.5,178.0 277.7,178.2 276.9,178.4 276.1,178.6 275.4,178.8 274.6,179.1 274.0,179.4 273.3,179.7 272.7,180.1 272.2,180.5 271.7,180.8 271.2,181.3 270.8,181.7 270.4,182.1 270.1,182.6 269.9,183.0 269.7,183.5 269.5,183.9 269.4,184.4 269.4,184.9 269.4,185.4 269.5,185.9 269.7,186.3 269.9,186.8 270.1,187.2 270.4,187.7 270.8,188.1 271.2,188.6 271.7,189.0 272.2,189.3 272.7,189.7 273.3,190.1 274.0,190.4 274.6,190.7 275.4,191.0 276.1,191.2 276.9,191.4 277.7,191.6 278.5,191.8 279.3,192.0 280.2,192.1 281.1,192.1 281.9,192.2 282.8,192.2 283.7,192.2 284.5,192.1 285.4,192.1 286.3,192.0 287.1,191.8 287.9,191.6 288.7,191.4 289.5,191.2 290.2,191.0 291.0,190.7 291.6,190.4 292.3,190.1 292.9,189.7 293.4,189.3 293.9,189.0 294.4,188.6 294.8,188.1 295.2,187.7 295.5,187.2 295.7,186.8 295.9,186.3 296.1,185.9 296.2,185.4 296.2,184.9 296.2,184.4 296.1,183.9ZM221.5,269.6 221.5,269.5 221.5,269.4 221.4,269.3 221.4,269.2 221.3,269.2 221.3,269.1 221.2,269.0 221.2,268.9 221.1,268.9 221.0,268.8 220.9,268.8 220.8,268.7 220.8,268.7 220.7,268.6 220.6,268.6 220.5,268.6 220.4,268.5 220.3,268.5 220.2,268.5 220.1,268.5 220.0,268.5 219.9,268.5 219.8,268.5 219.7,268.6 219.6,268.6 219.5,268.6 219.4,268.7 219.3,268.7 219.3,268.8 219.2,268.8 219.1,268.9 219.0,268.9 219.0,269.0 218.9,269.1 218.9,269.2 218.8,269.2 218.8,269.3 218.7,269.4 218.7,269.5 218.7,269.6 218.6,269.7 218.6,269.8 218.6,269.9 218.6,270.0 218.6,270.1 218.6,270.2 218.6,270.3 218.7,270.4 218.7,270.5 218.7,270.6 218.8,270.7 218.8,270.8 218.9,270.8 218.9,270.9 219.0,271.0 219.0,271.1 219.1,271.1 219.2,271.2 219.3,271.2 219.3,271.3 219.4,271.3 219.5,271.4 219.6,271.4 219.7,271.4 219.8,271.5 219.9,271.5 220.0,271.5 220.1,271.5 220.2,271.5 220.3,271.5 220.4,271.5 220.5,271.4 220.6,271.4 220.7,271.4 220.8,271.3 220.8,271.3 220.9,271.2 221.0,271.2 221.1,271.1 221.2,271.1 221.2,271.0 221.3,270.9 221.3,270.8 221.4,270.8 221.4,270.7 221.5,270.6 221.5,270.5 221.5,270.4 221.6,270.3 221.6,270.2 221.6,270.1 221.6,270.0 221.6,269.9 221.6,269.8 221.6,269.7ZM197.0,281.3 196.9,281.3 196.9,281.2 196.9,281.2 196.8,281.1 196.8,281.0 196.8,281.0 196.7,280.9 196.6,280.9 196.6,280.8 196.5,280.8 196.5,280.8 196.4,280.7 196.3,280.7 196.3,280.7 196.2,280.7 196.1,280.6 196.0,280.6 196.0,280.6 195.9,280.6 195.8,280.6 195.7,280.6 195.6,280.6 195.6,280.6 195.5,280.6 195.4,280.7 195.3,280.7 195.3,280.7 195.2,280.7 195.1,280.8 195.1,280.8 195.0,280.8 195.0,280.9 194.9,280.9 194.8,281.0 194.8,281.0 194.8,281.1 194.7,281.2 194.7,281.2 194.7,281.3 194.6,281.3 194.6,281.4 194.6,281.5 194.6,281.5 194.6,281.6 194.6,281.7 194.6,281.7 194.6,281.8 194.6,281.9 194.7,281.9 194.7,282.0 194.7,282.0 194.8,282.1 194.8,282.2 194.8,282.2 194.9,282.3 195.0,282.3 195.0,282.4 195.1,282.4 195.1,282.4 195.2,282.5 195.3,282.5 195.3,282.5 195.4,282.5 195.5,282.6 195.6,282.6 195.6,282.6 195.7,282.6 195.8,282.6 195.9,282.6 196.0,282.6 196.0,282.6 196.1,282.6 196.2,282.5 196.3,282.5 196.3,282.5 196.4,282.5 196.5,282.4 196.5,282.4 196.6,282.4 196.6,282.3 196.7,282.3 196.8,282.2 196.8,282.2 196.8,282.1 196.9,282.0 196.9,282.0 196.9,281.9 197.0,281.9 197.0,281.8 197.0,281.7 197.0,281.7 197.0,281.6 197.0,281.5 197.0,281.5 197.0,281.4ZM97.2,288.5 97.1,288.4 97.1,288.2 97.0,288.0 96.9,287.9 96.9,287.8 96.8,287.6 96.7,287.5 96.6,287.4 96.5,287.2 96.3,287.1 96.2,287.0 96.1,286.9 95.9,286.8 95.8,286.8 95.7,286.7 95.5,286.6 95.3,286.6 95.2,286.5 95.0,286.5 94.9,286.5 94.7,286.5 94.5,286.5 94.4,286.5 94.2,286.5 94.1,286.6 93.9,286.6 93.7,286.7 93.6,286.8 93.4,286.8 93.3,286.9 93.2,287.0 93.1,287.1 92.9,287.2 92.8,287.4 92.7,287.5 92.6,287.6 92.5,287.8 92.5,287.9 92.4,288.0 92.3,288.2 92.3,288.4 92.2,288.5 92.2,288.7 92.2,288.8 92.2,289.0 92.2,289.2 92.2,289.3 92.2,289.5 92.3,289.6 92.3,289.8 92.4,290.0 92.5,290.1 92.5,290.2 92.6,290.4 92.7,290.5 92.8,290.6 92.9,290.8 93.1,290.9 93.2,291.0 93.3,291.1 93.4,291.2 93.6,291.2 93.7,291.3 93.9,291.4 94.1,291.4 94.2,291.5 94.4,291.5 94.5,291.5 94.7,291.5 94.9,291.5 95.0,291.5 95.2,291.5 95.3,291.4 95.5,291.4 95.7,291.3 95.8,291.2 95.9,291.2 96.1,291.1 96.2,291.0 96.3,290.9 96.5,290.8 96.6,290.6 96.7,290.5 96.8,290.4 96.9,290.2 96.9,290.1 97.0,290.0 97.1,289.8 97.1,289.6 97.2,289.5 97.2,289.3 97.2,289.2 97.2,289.0 97.2,288.8 97.2,288.7ZM195.0,308.1 195.0,308.0 194.9,307.8 194.9,307.7 194.8,307.6 194.8,307.5 194.7,307.4 194.6,307.3 194.5,307.2 194.4,307.1 194.3,307.0 194.2,306.9 194.1,306.9 194.0,306.8 193.9,306.8 193.7,306.7 193.6,306.7 193.5,306.6 193.4,306.6 193.2,306.6 193.1,306.6 193.0,306.6 192.8,306.6 192.7,306.6 192.6,306.7 192.5,306.7 192.3,306.8 192.2,306.8 192.1,306.9 192.0,306.9 191.9,307.0 191.8,307.1 191.7,307.2 191.6,307.3 191.5,307.4 191.4,307.5 191.4,307.6 191.3,307.7 191.3,307.8 191.2,308.0 191.2,308.1 191.1,308.2 191.1,308.3 191.1,308.5 191.1,308.6 191.1,308.7 191.1,308.9 191.1,309.0 191.2,309.1 191.2,309.2 191.3,309.4 191.3,309.5 191.4,309.6 191.4,309.7 191.5,309.8 191.6,309.9 191.7,310.0 191.8,310.1 191.9,310.2 192.0,310.3 192.1,310.3 192.2,310.4 192.3,310.4 192.5,310.5 192.6,310.5 192.7,310.6 192.8,310.6 193.0,310.6 193.1,310.6 193.2,310.6 193.4,310.6 193.5,310.6 193.6,310.5 193.7,310.5 193.9,310.4 194.0,310.4 194.1,310.3 194.2,310.3 194.3,310.2 194.4,310.1 194.5,310.0 194.6,309.9 194.7,309.8 194.8,309.7 194.8,309.6 194.9,309.5 194.9,309.4 195.0,309.2 195.0,309.1 195.1,309.0 195.1,308.9 195.1,308.7 195.1,308.6 195.1,308.5 195.1,308.3 195.1,308.2ZM179.7,317.0 179.7,316.9 179.6,316.8 179.5,316.6 179.4,316.5 179.3,316.4 179.2,316.3 179.1,316.1 179.0,316.0 178.8,315.9 178.7,315.9 178.6,315.8 178.4,315.7 178.2,315.6 178.1,315.6 177.9,315.5 177.7,315.5 177.5,315.4 177.4,315.4 177.2,315.4 177.0,315.4 176.8,315.4 176.6,315.4 176.5,315.4 176.3,315.5 176.1,315.5 175.9,315.6 175.8,315.6 175.6,315.7 175.4,315.8 175.3,315.9 175.2,315.9 175.0,316.0 174.9,316.1 174.8,316.3 174.7,316.4 174.6,316.5 174.5,316.6 174.4,316.8 174.3,316.9 174.3,317.0 174.3,317.2 174.2,317.3 174.2,317.5 174.2,317.6 174.2,317.7 174.2,317.9 174.3,318.0 174.3,318.2 174.3,318.3 174.4,318.4 174.5,318.6 174.6,318.7 174.7,318.8 174.8,318.9 174.9,319.1 175.0,319.2 175.2,319.3 175.3,319.3 175.4,319.4 175.6,319.5 175.8,319.6 175.9,319.6 176.1,319.7 176.3,319.7 176.5,319.8 176.6,319.8 176.8,319.8 177.0,319.8 177.2,319.8 177.4,319.8 177.5,319.8 177.7,319.7 177.9,319.7 178.1,319.6 178.2,319.6 178.4,319.5 178.6,319.4 178.7,319.3 178.8,319.3 179.0,319.2 179.1,319.1 179.2,318.9 179.3,318.8 179.4,318.7 179.5,318.6 179.6,318.4 179.7,318.3 179.7,318.2 179.7,318.0 179.8,317.9 179.8,317.7 179.8,317.6 179.8,317.5 179.8,317.3 179.7,317.2Z" fill="#ff00ff"/>
<g clip-path="url(#cl)">
<g stroke="#6b4f1f" stroke-opacity="0.38" stroke-width="1">
<line x1="149.40" y1="31.5" x2="149.40" y2="414"/>
<line x1="213.15" y1="31.5" x2="213.15" y2="414"/>
<line x1="276.90" y1="31.5" x2="276.90" y2="414"/>
<line x1="340.65" y1="31.5" x2="340.65" y2="414"/>
<line x1="404.40" y1="31.5" x2="404.40" y2="414"/>
<line x1="85.25" y1="94.50" x2="467.65" y2="94.50"/>
<line x1="85.25" y1="158.20" x2="467.65" y2="158.20"/>
<line x1="85.25" y1="221.90" x2="467.65" y2="221.90"/>
<line x1="85.25" y1="285.60" x2="467.65" y2="285.60"/>
<line x1="85.25" y1="349.30" x2="467.65" y2="349.30"/>
</g>
<g fill="none" stroke="#000" stroke-width="1.1" stroke-linejoin="round" stroke-linecap="round">
<polyline points="85.7,157.4 92.0,152.1 98.2,146.3 104.5,145.4 107.7,146.5 111.9,149.0 112.9,151.1 110.4,154.2 107.7,155.7 103.5,159.9 101.4,164.1 104.5,167.2 108.7,165.1 117.1,162.0 127.5,159.9 137.9,158.8 146.4,160.9 152.6,163.0 153.7,169.3 151.6,174.5 147.4,180.8 150.6,183.9 156.8,185.0 163.1,185.0 169.4,187.1 171.4,192.3 169.4,197.5 166.2,198.6 164.2,202.8 169.4,206.9 170.4,212.2 166.2,217.4 164.8,220.5 165.2,225.8 164.2,230.0 173.6,225.8 181.9,223.7 190.2,222.6 194.4,220.5 198.7,220.5 203.9,217.4 204.9,209.0 203.9,198.6 199.7,188.1 192.4,179.8 186.1,171.4 180.9,167.2 179.8,163.0 183.9,159.9 190.2,156.7 198.7,152.6 204.9,148.4 209.1,144.2 211.2,140.0 213.7,131.2 222.1,126.0 229.3,120.8 234.6,116.6 240.8,116.6 243.0,120.8 251.3,122.8 263.9,119.7 276.5,113.4 282.6,107.2 293.1,97.7 303.6,89.4 314.1,78.9 322.5,68.5 330.9,58.0 342.1,48.2 345.0,40.3 346.0,34.8 347.0,30.8"/>
<polyline points="85.7,189.2 94.1,187.1 102.4,189.2 110.8,190.2 118.1,191.3 116.0,197.5 110.8,197.5 104.5,200.7 96.2,202.8 89.9,206.9 85.7,209.0"/>
<polyline points="85.7,227.8 87.8,229.9 91.8,239.7 95.9,246.2 96.7,252.8 101.6,256.0 106.5,259.3 109.0,263.4 108.2,266.7 103.2,264.2 100.0,261.8 95.1,260.1 90.2,259.3 86.9,260.9 85.7,260.6"/>
<polyline points="85.7,269.1 90.2,268.3 95.1,267.5 101.6,266.7 106.5,269.1 109.0,273.2 108.2,275.7 101.6,278.1 95.1,280.6 88.6,282.2 85.7,283.0"/>
<polyline points="85.7,284.5 90.2,283.0 101.6,282.2 106.5,283.8 111.5,285.4 113.9,286.3 109.8,288.7 106.5,292.0 108.2,295.3 104.9,298.5 104.1,303.4 101.6,306.7 96.7,309.9 93.5,311.6 90.2,318.1 86.9,323.0 85.7,326.3"/>
<polyline points="368.1,30.8 365.4,42.1 366.3,51.5 364.4,60.7 363.5,73.7 365.4,81.0 369.6,75.3 374.6,72.8 377.6,74.3 381.1,77.8 383.6,81.3 385.6,77.8 384.6,73.8 381.6,71.8 377.6,69.8 375.6,65.8 375.1,62.2 372.1,55.8 372.0,49.8 373.0,45.4 376.1,40.2 381.1,39.8 388.5,39.4 395.9,42.1 400.1,47.6 397.8,42.1 394.1,35.8 391.3,30.8"/>
<polyline points="217.4,70.8 221.7,68.3 225.7,66.2 231.7,65.3 238.7,64.3 246.1,58.9 255.4,55.2 264.6,53.2 275.7,47.8 281.3,45.9 285.0,45.3 288.0,43.4 292.1,40.2 294.1,35.8 297.6,32.8 294.6,30.8"/>
<polyline points="227.6,59.8 235.7,59.3 244.3,59.8"/>
<polygon points="100.8,263.4 105.2,262.7 109.0,264.4 107.2,266.4 102.2,265.4"/>
<polygon points="213.2,253.9 215.7,253.3 217.6,255.8 215.1,257.7 212.5,256.5 213.2,253.9"/>
<polygon points="105.7,346.2 109.4,348.9 108.5,354.6 105.7,363.9 102.9,373.4 98.2,380.9 96.3,389.4 93.5,388.4 92.5,382.8 88.8,377.2 86.9,373.4 86.9,365.9 90.6,360.2 96.3,352.7 101.9,347.1"/>
<polygon points="352.1,138.9 355.3,139.8 359.1,140.1 358.5,143.0 358.5,148.1 359.8,151.9 363.6,155.7 365.5,160.9 367.0,164.0 364.9,169.8 361.7,173.6 359.8,178.7 355.9,179.3 353.4,181.2 352.8,186.4 353.4,191.5 352.8,196.6 350.2,199.7 348.3,204.8 348.9,209.3 351.7,212.9 346.4,217.0 344.5,220.8 339.1,223.3 338.7,218.2 341.9,214.4 338.1,214.4 336.2,218.2 336.2,220.1 333.6,218.2 329.8,218.9 329.2,223.3 326.0,227.2 324.7,222.1 321.5,221.4 318.0,227.2 312.6,226.5 306.2,227.2 302.4,227.4 303.0,225.2 300.5,221.4 297.3,224.0 296.7,227.2 301.1,229.7 298.6,231.6 293.5,232.9 289.6,237.4 286.7,241.8 282.0,238.6 278.8,235.4 278.2,231.6 280.1,229.7 282.0,226.5 279.4,225.9 276.3,226.5 273.1,225.0 268.0,225.9 264.1,227.2 259.0,229.1 254.6,230.3 248.9,231.6 244.4,230.3 241.2,233.5 236.1,234.8 231.0,234.8 225.9,235.4 224.6,233.5 225.3,231.0 228.4,229.7 231.0,229.1 234.2,226.5 239.5,223.3 245.0,218.9 247.6,216.3 250.8,215.0 254.6,215.0 259.0,215.7 266.7,215.0 273.1,213.8 278.2,212.5 279.4,212.1 281.4,215.0 284.5,215.0 287.7,215.7 290.3,213.8 289.6,209.9 293.5,205.5 297.3,201.7 298.6,197.2 299.2,192.7 303.0,190.2 306.9,190.2 304.9,194.0 301.8,195.9 302.4,199.1 306.2,199.7 310.7,197.2 318.3,194.0 323.4,190.2 328.5,185.1 333.6,180.6 335.5,176.2 338.1,172.3 339.4,167.2 340.0,162.1 336.8,158.9 339.4,157.0 340.6,152.6 338.7,150.6 343.2,148.1 345.1,142.4 348.3,143.0 349.6,146.2 350.2,147.5 352.1,146.8 355.9,143.0 352.1,141.7 352.1,138.9"/>
<polygon points="365.4,87.9 371.3,92.0 377.6,97.7 383.4,102.8 390.4,105.4 395.1,107.0 400.1,108.6 404.4,106.0 408.6,102.8 406.9,107.3 408.2,112.4 406.9,114.3 411.8,115.8 408.2,116.9 402.5,119.4 396.4,120.3 389.1,125.1 384.0,130.2 382.1,133.7 376.0,130.9 370.0,127.7 364.9,125.8 361.0,124.8 355.9,127.1 352.8,128.7 349.6,125.8 346.4,125.8 345.5,126.4 347.0,130.2 348.0,131.5 352.1,133.4 355.7,135.4 353.4,136.0 350.0,135.7 348.3,136.0 345.1,139.8 341.9,140.1 340.6,138.5 342.6,134.1 341.9,130.2 338.7,127.1 338.7,124.5 343.2,122.6 346.4,120.0 345.1,116.2 347.7,116.9 353.4,117.5 357.2,116.9 359.1,113.7 359.8,109.2 361.7,107.9 363.0,103.5 361.7,95.8 362.3,91.4 362.1,89.5 365.4,87.9"/>
<polygon points="225.3,235.4 222.1,236.1 218.3,239.9 215.7,240.5 212.5,241.2 209.3,242.5 206.8,243.7 209.3,246.3 208.0,248.2 211.2,250.7 210.0,252.7 213.2,250.7 215.7,248.8 217.6,246.9 215.7,249.5 217.6,252.0 215.7,252.7 219.5,254.6 218.3,257.7 215.7,262.8 215.7,266.7 215.7,269.9 219.5,269.9 220.8,266.7 222.1,265.4 222.7,269.2 221.6,273.1 224.6,271.8 227.2,267.3 230.4,267.9 231.6,261.6 233.5,256.5 234.8,252.7 237.4,248.2 238.7,246.3 234.2,244.4 235.5,241.8 235.5,239.9 232.3,239.3 228.4,239.9 225.3,235.4"/>
<polygon points="271.8,232.2 271.8,233.9 273.7,236.7 269.3,239.9 266.4,244.4 262.9,241.2 258.4,241.2 254.6,243.1 251.4,247.6 251.4,251.1 247.6,248.8 245.7,245.0 243.1,243.1 238.7,243.1 243.8,241.2 246.9,238.6 247.6,236.7 250.1,233.5 251.4,233.9 255.2,235.4 259.0,234.8 261.6,232.2 264.8,230.3 269.3,232.2 271.8,232.2"/>
<polygon points="276.3,227.2 276.9,227.8 275.0,232.2 273.1,231.6 276.3,227.2"/>
<polygon points="317.7,182.5 321.5,179.3 322.2,183.8 319.0,185.7 317.7,182.5"/>
<polygon points="410.2,110.3 413.6,106.9 418.1,102.3 420.5,100.6 425.0,101.8 422.6,102.9 419.2,103.5 415.9,106.9 412.4,110.3"/>
<polygon points="428.5,100.6 433.0,96.6 437.6,93.8 441.0,89.7 443.4,90.9 446.9,90.3 452.5,87.5 454.2,89.2 451.4,90.9 445.6,92.0 442.2,94.3 436.5,97.8 430.8,101.2"/>
<polygon points="461.1,87.5 464.0,84.6 468.5,81.2 469.0,82.3 465.1,85.7 462.1,87.7"/>
<polygon points="239.2,90.3 242.7,89.3 246.7,90.3 248.2,92.8 246.7,95.3 244.7,97.3 243.7,99.8 241.2,98.8 241.7,95.8 239.2,93.8 238.2,91.8"/>
<polygon points="183.2,335.5 184.5,331.1 187.7,327.9 191.5,326.0 190.2,329.1 186.4,331.7 185.1,334.9" fill="#000"/>
<polygon points="202.9,309.4 206.1,307.5 209.3,304.9 206.8,305.6 204.2,307.5" fill="#000"/>
<polygon points="224.0,280.7 225.9,278.1 226.5,275.0 225.3,276.9" fill="#000"/>
<polygon points="202.9,232.2 206.1,225.9 204.9,225.6 202.9,230.3 202.9,232.2" fill="#000"/>
<polyline points="147.2,181.3 151.2,184.5 156.4,184.5 162.9,185.8 169.4,186.5 172.1,189.1 170.8,194.3 172.1,197.0 165.6,199.6 164.2,203.5 169.4,207.4 170.8,211.3 168.2,215.3 166.9,220.5 165.6,227.0 164.2,229.9 169.4,227.0 176.1,224.4 185.2,222.4 192.9,221.1 196.9,220.5 200.7,218.8" stroke-width="2.4"/>
<polyline points="113.9,286.3 109.8,288.7 106.5,292.0 108.2,295.3 104.9,298.5 104.1,303.4 101.6,306.7 96.7,309.9 93.5,311.6 90.2,318.1" stroke-width="2.4"/>
<polyline points="212.5,241.2 209.3,242.5 206.8,243.7 209.3,246.3 208.0,248.2 211.2,250.7 210.0,252.7 213.2,250.7 215.7,248.8 217.6,246.9" stroke-width="2.4"/>
<ellipse cx="168.2" cy="242.5" rx="5.2" ry="2.1"/>
</g><g fill="#000">
<ellipse cx="199.1" cy="248.8" rx="1.4" ry="1.0"/>
<ellipse cx="201.0" cy="246.9" rx="1.2" ry="1.0"/>
<ellipse cx="206.8" cy="243.1" rx="1.0" ry="1.3"/>
<ellipse cx="210.6" cy="263.5" rx="1.2" ry="1.0"/>
<ellipse cx="214.4" cy="238.6" rx="0.8" ry="0.8"/>
<ellipse cx="163.4" cy="231.0" rx="1.2" ry="1.0"/>
<ellipse cx="162.2" cy="227.2" rx="1.0" ry="1.2"/>
<ellipse cx="157.0" cy="187.6" rx="1.0" ry="1.0"/>
<ellipse cx="164.7" cy="202.9" rx="1.0" ry="1.0"/>
<ellipse cx="209.3" cy="237.4" rx="1.5" ry="1.2"/>
<ellipse cx="197.9" cy="251.4" rx="2.2" ry="1.5"/>
<ellipse cx="219.5" cy="281.3" rx="1.8" ry="1.6"/>
<ellipse cx="199.8" cy="313.9" rx="1.4" ry="1.2"/>
<ellipse cx="195.3" cy="319.6" rx="1.4" ry="1.0"/>
<ellipse cx="153.2" cy="352.7" rx="1.8" ry="1.5"/>
<ellipse cx="139.2" cy="356.6" rx="2.2" ry="1.6"/>
<ellipse cx="134.7" cy="358.5" rx="2.0" ry="1.6"/>
<ellipse cx="253.9" cy="206.7" rx="1.6" ry="1.4"/>
<ellipse cx="356.6" cy="92.3" rx="1.3" ry="1.3"/>
<ellipse cx="333.6" cy="130.9" rx="1.2" ry="1.5"/>
<ellipse cx="333.0" cy="225.2" rx="0.9" ry="0.9"/>
<ellipse cx="427.2" cy="109.8" rx="2.0" ry="1.3"/>
<ellipse cx="91.2" cy="269.9" rx="2.2" ry="2.8"/>
<ellipse cx="139.6" cy="91.2" rx="2.6" ry="1.2"/>
<ellipse cx="172.0" cy="111.6" rx="2.3" ry="1.6"/>
<ellipse cx="198.9" cy="108.0" rx="2.2" ry="1.8"/>
<ellipse cx="148.0" cy="117.1" rx="1.4" ry="1.6"/>
<ellipse cx="150.2" cy="151.0" rx="2.5" ry="1.2"/>
<ellipse cx="100.2" cy="171.3" rx="2.8" ry="1.2"/>
</g>
</g>
<rect x="85.5" y="31.5" width="383" height="383" fill="none" stroke="#000" stroke-width="1.1"/>
<path d="M785.0,110.0 784.0,125.0 782.0,140.0 778.0,150.0 776.9,159.6 770.0,164.1 763.2,169.9 760.9,177.9 748.0,180.0 735.7,183.6 724.3,188.1 712.0,191.0 701.2,195.3 693.3,199.2 681.6,211.0 669.8,218.8 658.0,226.7 658.0,238.4 656.1,254.1 652.2,273.7 642.4,285.5 638.4,301.2 628.6,314.9 618.8,324.7 607.1,328.6 591.4,334.5 579.6,344.3 575.7,363.9 583.5,375.7 599.2,383.5 618.8,381.6 630.6,371.8 638.4,360.0 662.0,352.2 677.6,340.4 685.0,334.0 695.0,327.0 703.0,315.0 710.0,303.0 719.6,294.3 725.5,288.4 725.5,280.6 729.4,272.7 745.1,270.8 752.9,266.9 758.8,261.0 766.7,255.1 774.5,251.2 788.2,251.2 798.0,249.2 807.8,247.3 811.8,241.4 815.7,235.5 825.5,231.6 837.3,227.6 841.2,221.8 843.1,210.0 848.8,197.6 856.2,188.8 856.2,177.1 851.8,168.2 845.9,162.4 848.0,155.0 852.0,148.5 865.0,146.0 880.0,144.5 893.0,141.0 900.0,136.0 904.5,128.0 905.0,112.0 903.0,102.0 898.0,96.0 885.0,93.0 860.0,92.5 830.0,91.5 801.0,92.0 791.0,95.0 786.0,101.0Z" fill="#fce8bc"/>
<path d="M897.3,108.1 897.2,107.5 897.0,106.9 896.7,106.4 896.5,105.8 896.2,105.2 895.8,104.7 895.4,104.2 895.0,103.7 894.6,103.3 894.1,102.9 893.6,102.5 893.1,102.1 892.5,101.8 891.9,101.5 891.3,101.2 890.7,101.0 890.1,100.8 889.5,100.7 888.8,100.6 888.2,100.5 887.5,100.5 886.8,100.5 886.2,100.6 885.5,100.7 884.9,100.8 884.3,101.0 883.7,101.2 883.1,101.5 882.5,101.8 881.9,102.1 881.4,102.5 880.9,102.9 880.4,103.3 880.0,103.7 879.6,104.2 879.2,104.7 878.8,105.2 878.5,105.8 878.3,106.4 878.0,106.9 877.8,107.5 877.7,108.1 877.6,108.8 877.5,109.4 877.5,110.0 877.5,110.6 877.6,111.2 877.7,111.9 877.8,112.5 878.0,113.1 878.3,113.6 878.5,114.2 878.8,114.8 879.2,115.3 879.6,115.8 880.0,116.3 880.4,116.7 880.9,117.1 881.4,117.5 881.9,117.9 882.5,118.2 883.1,118.5 883.7,118.8 884.3,119.0 884.9,119.2 885.5,119.3 886.2,119.4 886.8,119.5 887.5,119.5 888.2,119.5 888.8,119.4 889.5,119.3 890.1,119.2 890.7,119.0 891.3,118.8 891.9,118.5 892.5,118.2 893.1,117.9 893.6,117.5 894.1,117.1 894.6,116.7 895.0,116.3 895.4,115.8 895.8,115.3 896.2,114.8 896.5,114.2 896.7,113.6 897.0,113.1 897.2,112.5 897.3,111.9 897.4,111.2 897.5,110.6 897.5,110.0 897.5,109.4 897.4,108.8ZM839.9,115.3 839.8,115.0 839.8,114.8 839.7,114.5 839.5,114.3 839.4,114.1 839.2,113.9 839.1,113.7 838.9,113.5 838.7,113.3 838.5,113.1 838.2,113.0 838.0,112.8 837.8,112.7 837.5,112.6 837.2,112.5 836.9,112.4 836.7,112.3 836.4,112.3 836.1,112.2 835.8,112.2 835.5,112.2 835.2,112.2 834.9,112.2 834.6,112.3 834.3,112.3 834.1,112.4 833.8,112.5 833.5,112.6 833.2,112.7 833.0,112.8 832.8,113.0 832.5,113.1 832.3,113.3 832.1,113.5 831.9,113.7 831.8,113.9 831.6,114.1 831.5,114.3 831.3,114.5 831.2,114.8 831.2,115.0 831.1,115.3 831.0,115.5 831.0,115.8 831.0,116.0 831.0,116.2 831.0,116.5 831.1,116.7 831.2,117.0 831.2,117.2 831.3,117.5 831.5,117.7 831.6,117.9 831.8,118.1 831.9,118.3 832.1,118.5 832.3,118.7 832.5,118.9 832.8,119.0 833.0,119.2 833.2,119.3 833.5,119.4 833.8,119.5 834.1,119.6 834.3,119.7 834.6,119.7 834.9,119.8 835.2,119.8 835.5,119.8 835.8,119.8 836.1,119.8 836.4,119.7 836.7,119.7 836.9,119.6 837.2,119.5 837.5,119.4 837.8,119.3 838.0,119.2 838.2,119.0 838.5,118.9 838.7,118.7 838.9,118.5 839.1,118.3 839.2,118.1 839.4,117.9 839.5,117.7 839.7,117.5 839.8,117.2 839.8,117.0 839.9,116.7 840.0,116.5 840.0,116.2 840.0,116.0 840.0,115.8 840.0,115.5ZM657.0,233.0 665.0,236.0 674.0,245.0 676.0,265.0 678.8,278.9 676.3,275.8 662.6,274.6 653.4,276.9 648.9,286.0 642.0,297.5 628.3,315.8 626.0,327.2 648.9,327.2 658.0,322.6 669.5,313.5 678.6,304.3 680.9,295.2 680.9,287.7 684.0,297.0 692.0,298.0 699.0,292.0 702.0,280.0 705.9,268.8 711.8,264.9 719.6,261.0 729.4,257.1 739.2,253.1 749.0,249.2 758.8,245.3 768.6,241.4 778.4,235.5 788.2,231.6 802.0,229.6 809.8,225.7 813.7,233.5 825.5,227.6 837.3,219.8 841.2,210.0 845.9,200.6 854.7,191.8 856.2,177.1 851.8,168.2 845.9,162.4 837.1,156.5 828.2,152.1 816.5,150.6 798.8,153.5 781.2,153.5 779.8,155.4 776.9,159.6 770.0,164.1 763.2,169.9 760.9,177.9 748.0,180.0 735.7,183.6 724.3,188.1 712.0,191.0 703.8,193.5 696.9,199.1 687.7,206.0 678.6,212.9 676.0,231.0 669.5,222.0 660.3,226.6ZM612.9,371.8 611.0,356.1 618.8,344.3 618.8,332.5 609.0,329.4 591.4,334.5 577.6,344.3 577.6,367.8 587.5,379.6 603.1,381.6Z" fill="#ddfdc9"/>
<path d="M712.5,201.6 712.1,201.5 711.7,201.5 711.3,201.4 710.9,201.4 710.5,201.4 710.0,201.4 709.6,201.4 709.1,201.4 708.6,201.5 708.1,201.6 707.6,201.7 707.1,201.8 706.6,201.9 706.1,202.1 705.6,202.2 705.1,202.4 704.7,202.6 704.2,202.8 703.7,203.1 703.3,203.3 702.9,203.6 702.4,203.8 702.1,204.1 701.7,204.4 701.3,204.7 701.0,205.0 700.7,205.3 700.4,205.6 700.2,205.9 700.0,206.2 699.8,206.5 699.7,206.8 699.5,207.1 699.4,207.4 699.4,207.7 699.4,208.0 699.4,208.2 699.4,208.5 699.5,208.7 699.6,209.0 699.7,209.2 699.9,209.4 700.1,209.6 696.2,211.8 685.8,215.6 679.4,216.9 679.3,216.9 679.2,217.0 679.1,217.0 679.0,217.1 679.0,217.1 678.9,217.2 678.8,217.3 678.8,217.3 678.7,217.4 678.7,217.5 678.6,217.6 678.6,217.7 678.6,217.8 678.6,217.9 678.6,218.0 678.6,218.1 678.6,218.2 678.7,218.3 678.7,218.4 678.8,218.5 678.8,218.5 678.9,218.6 679.0,218.7 685.5,223.9 685.6,223.9 685.6,224.0 685.7,224.0 685.8,224.1 685.9,224.1 694.8,226.0 694.9,226.0 695.0,226.0 695.1,226.0 695.2,226.0 695.3,226.0 703.3,223.5 703.4,223.4 712.3,219.5 723.2,217.0 735.1,216.0 735.1,216.0 745.0,215.0 751.6,215.5 755.8,219.3 754.2,224.3 747.7,227.0 734.9,228.5 721.9,229.5 721.8,229.5 721.8,229.5 715.8,231.0 715.7,231.1 715.6,231.1 715.5,231.1 715.4,231.2 715.3,231.3 715.3,231.3 715.2,231.4 715.1,231.5 715.1,231.6 715.1,231.7 715.0,231.8 715.0,231.9 715.0,232.0 715.0,232.1 715.0,232.2 715.0,232.3 715.1,232.4 715.1,232.4 715.2,232.5 715.2,232.6 715.3,232.7 715.4,232.8 715.4,232.8 715.5,232.9 715.6,232.9 722.1,235.7 727.2,242.0 727.3,242.1 727.4,242.2 732.6,246.2 732.7,246.2 732.8,246.3 732.8,246.3 732.9,246.4 733.0,246.4 733.1,246.4 733.2,246.4 733.3,246.4 733.4,246.4 745.2,243.7 745.3,243.7 754.4,241.1 754.5,241.0 754.5,241.0 765.0,235.8 765.2,235.7 772.9,230.6 780.5,226.7 780.5,226.6 780.6,226.6 780.7,226.5 780.8,226.4 780.8,226.4 780.9,226.3 780.9,226.2 786.1,213.3 786.1,213.3 789.7,204.4 792.8,200.7 796.0,206.0 808.0,210.0 818.0,208.0 822.0,198.0 822.0,182.0 815.0,175.0 818.0,165.0 812.0,158.0 798.0,158.0 788.0,163.0 787.8,165.1 780.1,162.6 780.0,162.5 779.9,162.5 779.8,162.5 779.7,162.5 779.7,162.5 770.4,163.8 770.0,164.1 763.2,169.9 760.9,177.9 748.0,180.0 735.7,183.6 731.9,185.1 730.0,187.0 723.5,190.9 723.4,191.0 723.3,191.1 723.3,191.1 723.2,191.2 723.2,191.3 723.1,191.3 723.1,191.4 720.6,197.7 714.4,202.6 714.2,202.7 714.1,202.6 713.9,202.4 713.7,202.2 713.4,202.0 713.1,201.9 712.8,201.8ZM720.8,219.1 720.2,219.0 720.2,219.0 719.6,219.0 719.6,219.0 719.0,219.0 719.0,219.0 718.4,219.0 718.4,219.0 717.8,219.0 717.8,219.0 717.2,219.1 717.1,219.1 716.6,219.1 716.5,219.1 716.0,219.2 715.9,219.2 715.4,219.3 715.4,219.3 714.8,219.4 714.8,219.4 714.3,219.6 714.2,219.6 713.7,219.7 713.7,219.7 713.2,219.9 713.2,219.9 712.7,220.1 712.7,220.1 712.3,220.2 712.2,220.3 711.8,220.5 711.8,220.5 711.4,220.7 711.3,220.7 711.0,220.9 710.9,221.0 710.6,221.2 710.6,221.2 710.3,221.5 710.2,221.5 710.0,221.8 709.9,221.8 709.7,222.1 709.7,222.2 709.5,222.4 709.4,222.5 709.3,222.8 709.2,222.9 709.1,223.1 709.1,223.3 709.0,223.5 709.0,223.7 709.0,223.9 709.0,224.1 709.0,224.3 709.0,224.5 709.1,224.7 709.1,224.9 709.2,225.1 709.3,225.2 709.4,225.5 709.5,225.6 709.7,225.8 709.7,225.9 709.9,226.2 710.0,226.2 710.2,226.5 710.3,226.5 710.6,226.8 710.6,226.8 710.9,227.0 711.0,227.1 711.3,227.3 711.4,227.3 711.8,227.5 711.8,227.5 712.2,227.7 712.3,227.8 712.7,227.9 712.7,227.9 713.2,228.1 713.2,228.1 713.7,228.3 713.7,228.3 714.2,228.4 714.3,228.4 714.8,228.6 714.8,228.6 715.4,228.7 715.4,228.7 715.9,228.8 716.0,228.8 716.5,228.9 716.6,228.9 717.1,228.9 717.2,228.9 717.8,229.0 717.8,229.0 718.4,229.0 718.4,229.0 719.0,229.0 719.0,229.0 719.6,229.0 719.6,229.0 720.2,229.0 720.2,229.0 720.8,228.9 720.9,228.9 721.4,228.9 721.5,228.9 722.0,228.8 722.1,228.8 722.6,228.7 722.6,228.7 723.2,228.6 723.2,228.6 723.7,228.4 723.8,228.4 724.3,228.3 724.3,228.3 724.8,228.1 724.8,228.1 725.3,227.9 725.3,227.9 725.7,227.8 725.8,227.7 726.2,227.5 726.2,227.5 726.6,227.3 726.7,227.3 727.0,227.1 727.1,227.0 727.4,226.8 727.4,226.8 727.7,226.5 727.8,226.5 728.0,226.2 728.1,226.2 728.3,225.9 728.3,225.8 728.5,225.6 728.6,225.5 728.7,225.2 728.8,225.1 728.9,224.9 728.9,224.7 729.0,224.5 729.0,224.3 729.0,224.3 729.0,224.3 729.5,224.1 730.0,223.9 730.5,223.6 730.9,223.4 731.3,223.2 731.7,222.9 732.0,222.7 732.3,222.4 732.5,222.2 732.6,221.9 732.8,221.7 732.9,221.4 732.9,221.2 732.9,221.0 732.8,220.7 732.7,220.5 732.6,220.3 732.4,220.1 732.2,219.9 731.9,219.8 731.6,219.6 731.2,219.4 730.8,219.3 730.3,219.2 729.9,219.1 729.4,219.0 728.8,218.9 728.2,218.8 727.6,218.8 727.0,218.7 726.4,218.7 725.7,218.7 725.0,218.7 724.3,218.8 723.6,218.8 722.9,218.9 722.2,218.9 721.5,219.0 721.1,219.1 720.9,219.1ZM704.3,230.8 704.2,230.6 704.0,230.5 703.8,230.4 703.5,230.2 703.3,230.1 703.0,230.0 702.8,229.9 702.5,229.8 702.2,229.8 701.9,229.7 701.6,229.6 701.3,229.6 701.0,229.5 700.7,229.5 700.3,229.5 700.0,229.5 699.7,229.5 699.3,229.5 699.0,229.5 698.7,229.6 698.4,229.6 698.1,229.7 697.8,229.8 697.5,229.8 697.2,229.9 697.0,230.0 696.7,230.1 696.5,230.2 696.2,230.4 696.0,230.5 695.8,230.6 695.7,230.8 695.5,230.9 695.4,231.0 695.3,231.2 695.2,231.4 695.1,231.5 695.0,231.7 695.0,231.8 695.0,232.0 695.0,232.2 695.0,232.3 695.1,232.5 695.2,232.6 695.3,232.8 695.4,233.0 695.5,233.1 695.7,233.2 695.8,233.4 696.0,233.5 696.2,233.6 696.5,233.8 696.7,233.9 697.0,234.0 697.2,234.1 697.5,234.2 697.8,234.2 698.1,234.3 698.4,234.4 698.7,234.4 699.0,234.5 699.3,234.5 699.7,234.5 700.0,234.5 700.3,234.5 700.7,234.5 701.0,234.5 701.3,234.4 701.6,234.4 701.9,234.3 702.2,234.2 702.5,234.2 702.8,234.1 703.0,234.0 703.3,233.9 703.5,233.8 703.8,233.6 704.0,233.5 704.2,233.4 704.3,233.2 704.5,233.1 704.6,233.0 704.7,232.8 704.8,232.6 704.9,232.5 705.0,232.3 705.0,232.2 705.0,232.0 705.0,231.8 705.0,231.7 704.9,231.5 704.8,231.4 704.7,231.2 704.6,231.0 704.5,230.9ZM693.5,236.5 693.3,236.3 693.2,236.2 693.0,236.0 692.8,235.9 692.6,235.7 692.4,235.6 692.2,235.5 692.0,235.4 691.8,235.3 691.5,235.2 691.3,235.2 691.0,235.1 690.8,235.1 690.5,235.0 690.3,235.0 690.0,235.0 689.7,235.0 689.5,235.0 689.2,235.1 689.0,235.1 688.7,235.2 688.5,235.2 688.2,235.3 688.0,235.4 687.8,235.5 687.6,235.6 687.4,235.7 687.2,235.9 687.0,236.0 686.8,236.2 686.7,236.3 686.5,236.5 686.4,236.7 686.3,236.9 686.2,237.0 686.1,237.2 686.1,237.4 686.0,237.6 686.0,237.8 686.0,238.0 686.0,238.2 686.0,238.4 686.1,238.6 686.1,238.8 686.2,239.0 686.3,239.1 686.4,239.3 686.5,239.5 686.7,239.7 686.8,239.8 687.0,240.0 687.2,240.1 687.4,240.3 687.6,240.4 687.8,240.5 688.0,240.6 688.2,240.7 688.5,240.8 688.7,240.8 689.0,240.9 689.2,240.9 689.5,241.0 689.7,241.0 690.0,241.0 690.3,241.0 690.5,241.0 690.8,240.9 691.0,240.9 691.3,240.8 691.5,240.8 691.8,240.7 692.0,240.6 692.2,240.5 692.4,240.4 692.6,240.3 692.8,240.1 693.0,240.0 693.2,239.8 693.3,239.7 693.5,239.5 693.6,239.3 693.7,239.1 693.8,239.0 693.9,238.8 693.9,238.6 694.0,238.4 694.0,238.2 694.0,238.0 694.0,237.8 694.0,237.6 693.9,237.4 693.9,237.2 693.8,237.0 693.7,236.9 693.6,236.7ZM714.0,250.2 713.8,250.0 713.5,249.7 713.2,249.5 713.0,249.2 712.7,249.0 712.3,248.8 712.0,248.7 711.7,248.5 711.3,248.4 710.9,248.3 710.6,248.2 710.2,248.1 709.8,248.0 709.4,248.0 709.0,248.0 708.6,248.0 708.2,248.0 707.8,248.1 707.4,248.2 707.1,248.3 706.7,248.4 706.3,248.5 706.0,248.7 705.7,248.8 705.3,249.0 705.0,249.2 704.8,249.5 704.5,249.7 704.2,250.0 704.0,250.2 703.8,250.5 703.6,250.8 703.5,251.1 703.3,251.4 703.2,251.7 703.1,252.0 703.1,252.3 703.0,252.7 703.0,253.0 703.0,253.3 703.1,253.7 703.1,254.0 703.2,254.3 703.3,254.6 703.5,254.9 703.6,255.2 703.8,255.5 704.0,255.8 704.2,256.0 704.5,256.3 704.8,256.5 705.0,256.8 705.3,257.0 705.7,257.2 706.0,257.3 706.3,257.5 706.7,257.6 707.1,257.7 707.4,257.8 707.8,257.9 708.2,258.0 708.6,258.0 709.0,258.0 709.4,258.0 709.8,258.0 710.2,257.9 710.6,257.8 710.9,257.7 711.3,257.6 711.7,257.5 712.0,257.3 712.3,257.2 712.7,257.0 713.0,256.8 713.2,256.5 713.5,256.3 713.8,256.0 714.0,255.8 714.2,255.5 714.4,255.2 714.5,254.9 714.7,254.6 714.8,254.3 714.9,254.0 714.9,253.7 715.0,253.3 715.0,253.0 715.0,252.7 714.9,252.3 714.9,252.0 714.8,251.7 714.7,251.4 714.5,251.1 714.4,250.8 714.2,250.5ZM710.9,259.6 710.9,259.5 710.7,259.4 710.7,259.3 710.5,259.2 710.5,259.2 710.3,259.1 710.3,259.0 710.1,258.9 710.0,258.9 709.9,258.8 709.8,258.8 709.6,258.7 709.6,258.7 709.4,258.6 709.3,258.6 709.1,258.5 709.0,258.5 708.8,258.4 708.8,258.4 708.5,258.3 708.5,258.3 708.2,258.2 708.2,258.2 707.9,258.2 707.9,258.2 707.6,258.1 707.6,258.1 707.3,258.1 707.3,258.1 707.0,258.0 707.0,258.0 706.7,258.0 706.6,258.0 706.3,258.0 706.3,258.0 706.0,258.0 706.0,258.0 705.7,258.0 705.7,258.0 705.4,258.0 705.3,258.0 705.0,258.0 705.0,258.0 704.7,258.1 704.7,258.1 704.4,258.1 704.4,258.1 704.1,258.2 704.1,258.2 703.8,258.2 703.8,258.2 703.5,258.3 703.5,258.3 703.2,258.4 703.2,258.4 703.0,258.5 702.9,258.5 702.7,258.6 702.6,258.6 702.4,258.7 702.4,258.7 702.2,258.8 702.1,258.8 702.0,258.9 701.9,258.9 701.7,259.0 701.7,259.1 701.5,259.2 701.5,259.2 701.3,259.3 701.3,259.4 701.1,259.5 701.1,259.6 701.0,259.7 700.9,259.8 700.8,259.9 700.8,260.0 700.7,260.1 700.6,260.3 700.6,260.4 700.6,260.5 700.5,260.7 700.5,260.8 700.5,260.9 700.5,261.1 700.5,261.2 700.5,261.3 700.6,261.5 700.6,261.6 700.6,261.7 700.7,261.9 700.8,262.0 700.8,262.1 700.9,262.2 701.0,262.3 701.1,262.4 701.1,262.5 701.3,262.6 701.3,262.7 701.5,262.8 701.5,262.8 701.7,262.9 701.7,263.0 701.9,263.1 702.0,263.1 702.1,263.2 702.2,263.2 702.4,263.3 702.4,263.3 702.6,263.4 702.7,263.4 702.9,263.5 703.0,263.5 703.2,263.6 703.2,263.6 703.5,263.7 703.5,263.7 703.8,263.8 703.8,263.8 704.1,263.8 704.1,263.8 704.4,263.9 704.4,263.9 704.7,263.9 704.7,263.9 705.0,264.0 705.0,264.0 705.3,264.0 705.4,264.0 705.7,264.0 705.7,264.0 706.0,264.0 706.0,264.0 706.3,264.0 706.3,264.0 706.6,264.0 706.7,264.0 707.0,264.0 707.0,264.0 707.3,263.9 707.3,263.9 707.6,263.9 707.6,263.9 707.9,263.8 707.9,263.8 708.2,263.8 708.2,263.8 708.5,263.7 708.5,263.7 708.8,263.6 708.8,263.6 709.0,263.5 709.1,263.5 709.3,263.4 709.4,263.4 709.6,263.3 709.6,263.3 709.8,263.2 709.9,263.2 710.0,263.1 710.1,263.1 710.3,263.0 710.3,262.9 710.5,262.8 710.5,262.8 710.7,262.7 710.7,262.6 710.9,262.5 710.9,262.4 711.0,262.3 711.1,262.2 711.2,262.1 711.2,262.0 711.3,261.9 711.4,261.7 711.4,261.6 711.4,261.5 711.5,261.3 711.5,261.2 711.5,261.1 711.5,260.9 711.5,260.8 711.5,260.7 711.4,260.5 711.4,260.4 711.4,260.3 711.3,260.1 711.2,260.0 711.2,259.9 711.1,259.8 711.0,259.7ZM699.0,281.0 700.0,258.0 700.0,257.9 700.0,257.8 700.0,257.7 696.0,242.7 695.9,242.6 695.9,242.6 695.8,242.5 695.8,242.4 695.7,242.3 695.6,242.2 695.6,242.2 695.5,242.1 695.4,242.1 695.3,242.0 695.2,242.0 695.1,242.0 695.0,242.0 682.0,242.0 681.9,242.0 681.8,242.0 681.7,242.0 681.6,242.1 681.5,242.1 681.4,242.2 681.4,242.2 681.3,242.3 681.2,242.4 681.2,242.5 681.1,242.5 681.1,242.6 681.0,242.7 681.0,242.8 679.0,253.8 679.0,253.9 679.0,254.0 679.0,254.1 679.0,254.2 682.5,270.1 683.5,286.1 683.5,286.2 685.6,297.2 692.0,298.0 698.2,292.7 699.0,281.1ZM679.8,294.6 679.8,294.5 679.9,294.4 679.9,294.2 681.0,286.9 681.0,286.8 681.0,286.7 681.0,286.6 681.0,286.5 680.9,286.4 678.5,280.2 678.5,280.2 678.4,280.1 678.4,280.0 678.3,279.9 678.3,279.9 678.2,279.8 678.1,279.7 678.0,279.7 677.9,279.7 668.1,276.1 668.1,276.0 668.0,276.0 667.9,276.0 667.8,276.0 667.7,276.0 667.6,276.0 657.8,278.4 657.7,278.5 657.6,278.5 657.5,278.5 657.4,278.6 657.4,278.6 657.3,278.7 657.2,278.8 657.2,278.8 652.3,286.2 645.0,293.4 644.9,293.5 644.9,293.5 644.8,293.6 644.8,293.7 644.8,293.8 644.7,293.9 642.4,303.3 630.6,312.8 630.0,313.5 627.7,320.7 627.6,320.8 627.6,320.9 627.6,321.0 627.6,321.1 627.6,321.2 627.6,321.3 627.7,321.4 627.7,321.5 627.8,321.5 627.8,321.6 627.9,321.7 630.3,324.2 630.4,324.3 630.4,324.3 630.5,324.4 630.6,324.4 630.7,324.5 630.8,324.5 630.9,324.5 631.0,324.5 638.4,324.5 638.5,324.5 638.6,324.5 638.7,324.5 650.9,320.8 651.0,320.7 651.1,320.7 651.2,320.6 663.6,312.1 663.6,312.1 675.8,302.2 675.9,302.1 676.0,302.0 676.0,301.9 676.1,301.9ZM606.1,330.9 606.0,331.0 606.0,331.2 606.0,331.3 606.0,331.5 606.0,331.5 606.0,331.7 606.0,331.8 606.0,332.0 606.1,332.1 606.1,332.2 606.1,332.3 606.2,332.5 606.2,332.5 606.3,332.7 606.3,332.8 606.4,332.9 606.4,333.0 606.5,333.1 606.6,333.2 606.7,333.3 606.7,333.4 606.8,333.5 606.9,333.6 607.0,333.7 607.1,333.8 607.2,333.9 607.3,333.9 607.4,334.1 607.5,334.1 607.6,334.2 607.7,334.2 607.9,334.3 607.9,334.4 608.1,334.5 608.1,334.5 608.3,334.6 608.4,334.6 608.6,334.7 608.6,334.7 608.9,334.8 608.9,334.8 609.1,334.8 609.2,334.8 609.4,334.9 609.4,334.9 609.7,334.9 609.7,334.9 609.9,335.0 610.0,335.0 610.2,335.0 610.2,335.0 610.5,335.0 610.5,335.0 610.8,335.0 610.8,335.0 611.0,335.0 611.1,335.0 611.3,334.9 611.3,334.9 611.6,334.9 611.6,334.9 611.8,334.8 611.9,334.8 612.1,334.8 612.1,334.8 612.4,334.7 612.4,334.7 612.6,334.6 612.7,334.6 612.9,334.5 612.9,334.5 613.1,334.4 613.1,334.3 613.3,334.2 613.4,334.2 613.5,334.1 613.6,334.1 613.7,333.9 613.8,333.9 613.9,333.8 614.0,333.7 614.1,333.6 614.2,333.5 614.3,333.4 614.3,333.3 614.4,333.2 614.5,333.1 614.6,333.0 614.6,332.9 614.7,332.8 614.7,332.7 614.8,332.5 614.8,332.5 614.9,332.3 614.9,332.2 614.9,332.1 615.0,332.0 615.0,331.8 615.0,331.7 615.0,331.5 615.0,331.5 615.0,331.3 609.0,329.4 606.3,330.2 606.3,330.2 606.3,330.3 606.2,330.5 606.2,330.5 606.1,330.7 606.1,330.8ZM582.1,347.2 582.0,347.0 581.9,346.7 581.8,346.5 581.6,346.2 581.5,346.0 581.4,345.8 581.2,345.7 581.1,345.5 581.0,345.4 580.8,345.3 580.6,345.2 580.5,345.1 580.3,345.0 580.2,345.0 580.0,345.0 579.8,345.0 579.7,345.0 579.5,345.1 579.4,345.2 579.2,345.3 579.0,345.4 578.9,345.5 578.8,345.7 578.6,345.8 578.5,346.0 578.4,346.2 578.2,346.5 578.1,346.7 578.0,347.0 577.9,347.2 577.8,347.5 577.8,347.8 577.7,348.1 577.6,348.4 577.6,348.7 577.5,349.0 577.5,349.3 577.5,349.7 577.5,350.0 577.5,350.3 577.5,350.7 577.5,351.0 577.6,351.3 577.6,351.6 577.7,351.9 577.8,352.2 577.8,352.5 577.9,352.8 578.0,353.0 578.1,353.3 578.2,353.5 578.4,353.8 578.5,354.0 578.6,354.2 578.8,354.3 578.9,354.5 579.0,354.6 579.2,354.7 579.4,354.8 579.5,354.9 579.7,355.0 579.8,355.0 580.0,355.0 580.2,355.0 580.3,355.0 580.5,354.9 580.6,354.8 580.8,354.7 581.0,354.6 581.1,354.5 581.2,354.3 581.4,354.2 581.5,354.0 581.6,353.8 581.8,353.5 581.9,353.3 582.0,353.0 582.1,352.8 582.2,352.5 582.2,352.2 582.3,351.9 582.4,351.6 582.4,351.3 582.5,351.0 582.5,350.7 582.5,350.3 582.5,350.0 582.5,349.7 582.5,349.3 582.5,349.0 582.4,348.7 582.4,348.4 582.3,348.1 582.2,347.8 582.2,347.5ZM888.7,110.8 888.5,110.6 888.4,110.5 888.2,110.4 888.0,110.2 887.8,110.1 887.6,110.0 887.4,109.9 887.2,109.8 887.0,109.8 886.7,109.7 886.5,109.6 886.2,109.6 886.0,109.5 885.7,109.5 885.5,109.5 885.2,109.5 884.9,109.5 884.7,109.5 884.4,109.5 884.2,109.6 883.9,109.6 883.7,109.7 883.4,109.8 883.2,109.8 883.0,109.9 882.8,110.0 882.6,110.1 882.4,110.2 882.2,110.4 882.0,110.5 881.9,110.6 881.7,110.8 881.6,110.9 881.5,111.0 881.4,111.2 881.3,111.4 881.3,111.5 881.2,111.7 881.2,111.8 881.2,112.0 881.2,112.2 881.2,112.3 881.3,112.5 881.3,112.6 881.4,112.8 881.5,113.0 881.6,113.1 881.7,113.2 881.9,113.4 882.0,113.5 882.2,113.6 882.4,113.8 882.6,113.9 882.8,114.0 883.0,114.1 883.2,114.2 883.4,114.2 883.7,114.3 883.9,114.4 884.2,114.4 884.4,114.5 884.7,114.5 884.9,114.5 885.2,114.5 885.5,114.5 885.7,114.5 886.0,114.5 886.2,114.4 886.5,114.4 886.7,114.3 887.0,114.2 887.2,114.2 887.4,114.1 887.6,114.0 887.8,113.9 888.0,113.8 888.2,113.6 888.4,113.5 888.5,113.4 888.7,113.2 888.8,113.1 888.9,113.0 889.0,112.8 889.1,112.6 889.1,112.5 889.2,112.3 889.2,112.2 889.2,112.0 889.2,111.8 889.2,111.7 889.1,111.5 889.1,111.4 889.0,111.2 888.9,111.0 888.8,110.9ZM853.7,173.0 853.3,172.5 853.0,172.1 852.7,171.6 852.3,171.2 851.9,170.9 851.4,170.5 851.0,170.2 850.5,169.9 850.1,169.7 849.6,169.5 849.1,169.3 848.6,169.2 848.0,169.1 847.5,169.0 847.0,169.0 846.5,169.0 846.0,169.1 845.4,169.2 844.9,169.3 844.4,169.5 843.9,169.7 843.5,169.9 843.0,170.2 842.6,170.5 842.1,170.9 841.7,171.2 841.3,171.6 841.0,172.1 840.7,172.5 840.3,173.0 840.1,173.5 839.8,174.0 839.6,174.6 839.4,175.1 839.3,175.7 839.2,176.2 839.1,176.8 839.0,177.4 839.0,178.0 839.0,178.6 839.1,179.2 839.2,179.8 839.3,180.3 839.4,180.9 839.6,181.4 839.8,182.0 840.1,182.5 840.3,183.0 840.7,183.5 841.0,183.9 841.3,184.4 841.7,184.8 842.1,185.1 842.6,185.5 843.0,185.8 843.5,186.1 843.9,186.3 844.4,186.5 844.9,186.7 845.4,186.8 846.0,186.9 846.5,187.0 847.0,187.0 847.5,187.0 848.0,186.9 848.6,186.8 849.1,186.7 849.6,186.5 850.1,186.3 850.5,186.1 851.0,185.8 851.4,185.5 851.9,185.1 852.3,184.8 852.7,184.4 853.0,183.9 853.3,183.5 853.7,183.0 853.9,182.5 854.2,182.0 854.4,181.4 854.6,180.9 854.7,180.3 854.8,179.8 854.9,179.2 855.0,178.6 855.0,178.0 855.0,177.4 854.9,176.8 854.8,176.2 854.7,175.7 854.6,175.1 854.4,174.6 854.2,174.0 853.9,173.5ZM844.1,189.8 843.7,189.1 843.3,188.4 842.8,187.8 842.3,187.2 841.7,186.7 841.1,186.2 840.5,185.7 839.9,185.3 839.2,185.0 838.5,184.7 837.8,184.4 837.1,184.2 836.4,184.1 835.7,184.0 835.0,184.0 834.3,184.0 833.6,184.1 832.9,184.2 832.2,184.4 831.5,184.7 830.8,185.0 830.1,185.3 829.5,185.7 828.9,186.2 828.3,186.7 827.7,187.2 827.2,187.8 826.7,188.4 826.3,189.1 825.9,189.8 825.5,190.5 825.1,191.3 824.8,192.0 824.6,192.8 824.4,193.6 824.2,194.5 824.1,195.3 824.0,196.1 824.0,197.0 824.0,197.9 824.1,198.7 824.2,199.5 824.4,200.4 824.6,201.2 824.8,202.0 825.1,202.7 825.5,203.5 825.9,204.2 826.3,204.9 826.7,205.6 827.2,206.2 827.7,206.8 828.3,207.3 828.9,207.8 829.5,208.3 830.1,208.7 830.8,209.0 831.5,209.3 832.2,209.6 832.9,209.8 833.6,209.9 834.3,210.0 835.0,210.0 835.7,210.0 836.4,209.9 837.1,209.8 837.8,209.6 838.5,209.3 839.2,209.0 839.9,208.7 840.5,208.3 841.1,207.8 841.7,207.3 842.3,206.8 842.8,206.2 843.3,205.6 843.7,204.9 844.1,204.2 844.5,203.5 844.9,202.7 845.2,202.0 845.4,201.2 845.6,200.4 845.8,199.5 845.9,198.7 846.0,197.9 846.0,197.0 846.0,196.1 845.9,195.3 845.8,194.5 845.6,193.6 845.4,192.8 845.2,192.0 844.9,191.3 844.5,190.5Z" fill="#96f58c"/>
<path d="M807.9,164.3 807.8,164.1 807.8,163.8 807.7,163.5 807.6,163.2 807.5,163.0 807.4,162.8 807.3,162.5 807.1,162.3 807.0,162.1 806.8,161.9 806.7,161.8 806.5,161.6 806.3,161.5 806.1,161.3 806.0,161.2 805.8,161.2 805.6,161.1 805.4,161.0 805.2,161.0 805.0,161.0 804.8,161.0 804.6,161.0 804.4,161.1 804.2,161.2 804.0,161.2 803.9,161.3 803.7,161.5 803.5,161.6 803.3,161.8 803.2,161.9 803.0,162.1 802.9,162.3 802.7,162.5 802.6,162.8 802.5,163.0 802.4,163.2 802.3,163.5 802.2,163.8 802.2,164.1 802.1,164.3 802.1,164.6 802.0,164.9 802.0,165.2 802.0,165.5 802.0,165.8 802.0,166.1 802.1,166.4 802.1,166.7 802.2,166.9 802.2,167.2 802.3,167.5 802.4,167.8 802.5,168.0 802.6,168.2 802.7,168.5 802.9,168.7 803.0,168.9 803.2,169.1 803.3,169.2 803.5,169.4 803.7,169.5 803.9,169.7 804.0,169.8 804.2,169.8 804.4,169.9 804.6,170.0 804.8,170.0 805.0,170.0 805.2,170.0 805.4,170.0 805.6,169.9 805.8,169.8 806.0,169.8 806.1,169.7 806.3,169.5 806.5,169.4 806.7,169.2 806.8,169.1 807.0,168.9 807.1,168.7 807.3,168.5 807.4,168.2 807.5,168.0 807.6,167.8 807.7,167.5 807.8,167.2 807.8,166.9 807.9,166.7 807.9,166.4 808.0,166.1 808.0,165.8 808.0,165.5 808.0,165.2 808.0,164.9 807.9,164.6ZM850.2,173.8 850.1,173.6 850.0,173.3 849.9,173.0 849.8,172.8 849.7,172.5 849.6,172.3 849.4,172.0 849.3,171.8 849.1,171.6 848.9,171.4 848.7,171.3 848.5,171.1 848.3,171.0 848.1,170.8 847.9,170.7 847.7,170.7 847.5,170.6 847.3,170.5 847.0,170.5 846.8,170.5 846.6,170.5 846.3,170.5 846.1,170.6 845.9,170.7 845.7,170.7 845.5,170.8 845.3,171.0 845.0,171.1 844.9,171.3 844.7,171.4 844.5,171.6 844.3,171.8 844.2,172.0 844.0,172.3 843.9,172.5 843.8,172.8 843.7,173.0 843.6,173.3 843.5,173.6 843.4,173.8 843.4,174.1 843.3,174.4 843.3,174.7 843.3,175.0 843.3,175.3 843.3,175.6 843.4,175.9 843.4,176.2 843.5,176.4 843.6,176.7 843.7,177.0 843.8,177.2 843.9,177.5 844.0,177.7 844.2,178.0 844.3,178.2 844.5,178.4 844.7,178.6 844.9,178.7 845.0,178.9 845.3,179.0 845.5,179.2 845.7,179.3 845.9,179.3 846.1,179.4 846.3,179.5 846.6,179.5 846.8,179.5 847.0,179.5 847.3,179.5 847.5,179.4 847.7,179.3 847.9,179.3 848.1,179.2 848.3,179.0 848.5,178.9 848.7,178.7 848.9,178.6 849.1,178.4 849.3,178.2 849.4,178.0 849.6,177.7 849.7,177.5 849.8,177.2 849.9,177.0 850.0,176.7 850.1,176.4 850.2,176.2 850.2,175.9 850.3,175.6 850.3,175.3 850.3,175.0 850.3,174.7 850.3,174.4 850.2,174.1ZM808.3,187.1 808.2,186.7 808.1,186.4 808.0,186.1 807.8,185.8 807.7,185.4 807.5,185.2 807.3,184.9 807.0,184.6 806.8,184.4 806.5,184.1 806.3,183.9 806.0,183.7 805.7,183.6 805.4,183.4 805.1,183.3 804.8,183.2 804.5,183.1 804.2,183.0 803.8,183.0 803.5,183.0 803.2,183.0 802.8,183.0 802.5,183.1 802.2,183.2 801.9,183.3 801.6,183.4 801.3,183.6 801.0,183.7 800.7,183.9 800.5,184.1 800.2,184.4 800.0,184.6 799.7,184.9 799.5,185.2 799.3,185.4 799.2,185.8 799.0,186.1 798.9,186.4 798.8,186.7 798.7,187.1 798.6,187.4 798.5,187.8 798.5,188.1 798.5,188.5 798.5,188.9 798.5,189.2 798.6,189.6 798.7,189.9 798.8,190.3 798.9,190.6 799.0,190.9 799.2,191.2 799.3,191.6 799.5,191.8 799.7,192.1 800.0,192.4 800.2,192.6 800.5,192.9 800.7,193.1 801.0,193.3 801.3,193.4 801.6,193.6 801.9,193.7 802.2,193.8 802.5,193.9 802.8,194.0 803.2,194.0 803.5,194.0 803.8,194.0 804.2,194.0 804.5,193.9 804.8,193.8 805.1,193.7 805.4,193.6 805.7,193.4 806.0,193.3 806.3,193.1 806.5,192.9 806.8,192.6 807.0,192.4 807.3,192.1 807.5,191.8 807.7,191.6 807.8,191.2 808.0,190.9 808.1,190.6 808.2,190.3 808.3,189.9 808.4,189.6 808.5,189.2 808.5,188.9 808.5,188.5 808.5,188.1 808.5,187.8 808.4,187.4ZM836.7,193.1 836.6,192.7 836.5,192.3 836.3,192.0 836.2,191.7 836.0,191.3 835.8,191.0 835.5,190.8 835.3,190.5 835.0,190.2 834.8,190.0 834.5,189.8 834.2,189.6 833.9,189.5 833.6,189.3 833.3,189.2 833.0,189.1 832.7,189.1 832.3,189.0 832.0,189.0 831.7,189.0 831.3,189.1 831.0,189.1 830.7,189.2 830.4,189.3 830.1,189.5 829.8,189.6 829.5,189.8 829.2,190.0 829.0,190.2 828.7,190.5 828.5,190.8 828.2,191.0 828.0,191.3 827.8,191.7 827.7,192.0 827.5,192.3 827.4,192.7 827.3,193.1 827.2,193.4 827.1,193.8 827.0,194.2 827.0,194.6 827.0,195.0 827.0,195.4 827.0,195.8 827.1,196.2 827.2,196.6 827.3,196.9 827.4,197.3 827.5,197.7 827.7,198.0 827.8,198.3 828.0,198.7 828.2,199.0 828.5,199.2 828.7,199.5 829.0,199.8 829.2,200.0 829.5,200.2 829.8,200.4 830.1,200.5 830.4,200.7 830.7,200.8 831.0,200.9 831.3,200.9 831.7,201.0 832.0,201.0 832.3,201.0 832.7,200.9 833.0,200.9 833.3,200.8 833.6,200.7 833.9,200.5 834.2,200.4 834.5,200.2 834.8,200.0 835.0,199.8 835.3,199.5 835.5,199.2 835.8,199.0 836.0,198.7 836.2,198.3 836.3,198.0 836.5,197.7 836.6,197.3 836.7,196.9 836.8,196.6 836.9,196.2 837.0,195.8 837.0,195.4 837.0,195.0 837.0,194.6 837.0,194.2 836.9,193.8 836.8,193.4ZM723.0,216.0 735.0,215.0 745.0,214.0 752.0,214.5 757.0,219.0 755.0,225.0 748.0,228.0 735.0,229.5 722.0,230.5 716.0,232.0 722.7,234.9 728.0,241.4 733.2,245.4 745.0,242.7 754.1,240.1 764.6,234.9 772.4,229.7 780.0,225.8 785.2,212.9 788.8,203.9 793.0,199.0 797.0,192.0 799.0,183.0 797.0,175.0 790.6,167.1 779.8,163.5 767.3,165.3 761.9,168.9 750.0,178.0 740.0,181.0 735.8,182.6 730.6,187.8 724.0,191.8 721.4,198.3 714.9,203.5 705.8,207.5 696.6,212.7 686.1,216.6 679.6,217.9 686.1,223.1 695.0,225.0 703.0,222.5 712.0,218.5ZM727.7,223.0 727.5,222.7 727.3,222.5 727.1,222.2 726.8,222.0 726.5,221.8 726.1,221.6 725.8,221.4 725.4,221.2 724.9,221.0 724.5,220.8 724.0,220.7 723.5,220.5 723.0,220.4 722.4,220.3 721.9,220.2 721.3,220.1 720.8,220.1 720.2,220.0 719.6,220.0 719.0,220.0 718.4,220.0 717.8,220.0 717.2,220.1 716.7,220.1 716.1,220.2 715.6,220.3 715.0,220.4 714.5,220.5 714.0,220.7 713.5,220.8 713.1,221.0 712.6,221.2 712.2,221.4 711.9,221.6 711.5,221.8 711.2,222.0 710.9,222.2 710.7,222.5 710.5,222.7 710.3,223.0 710.2,223.2 710.1,223.5 710.0,223.7 710.0,224.0 710.0,224.3 710.1,224.5 710.2,224.8 710.3,225.0 710.5,225.3 710.7,225.5 710.9,225.8 711.2,226.0 711.5,226.2 711.9,226.4 712.2,226.6 712.6,226.8 713.1,227.0 713.5,227.2 714.0,227.3 714.5,227.5 715.0,227.6 715.6,227.7 716.1,227.8 716.7,227.9 717.2,227.9 717.8,228.0 718.4,228.0 719.0,228.0 719.6,228.0 720.2,228.0 720.8,227.9 721.3,227.9 721.9,227.8 722.4,227.7 723.0,227.6 723.5,227.5 724.0,227.3 724.5,227.2 724.9,227.0 725.4,226.8 725.8,226.6 726.1,226.4 726.5,226.2 726.8,226.0 727.1,225.8 727.3,225.5 727.5,225.3 727.7,225.0 727.8,224.8 727.9,224.5 728.0,224.3 728.0,224.0 728.0,223.7 727.9,223.5 727.8,223.2ZM710.3,260.5 710.3,260.4 710.2,260.2 710.0,260.1 709.9,260.0 709.7,259.9 709.6,259.8 709.4,259.7 709.2,259.6 709.0,259.5 708.7,259.4 708.5,259.3 708.2,259.3 708.0,259.2 707.7,259.2 707.4,259.1 707.2,259.1 706.9,259.0 706.6,259.0 706.3,259.0 706.0,259.0 705.7,259.0 705.4,259.0 705.1,259.0 704.8,259.1 704.6,259.1 704.3,259.2 704.0,259.2 703.8,259.3 703.5,259.3 703.3,259.4 703.0,259.5 702.8,259.6 702.6,259.7 702.4,259.8 702.3,259.9 702.1,260.0 702.0,260.1 701.8,260.2 701.7,260.4 701.7,260.5 701.6,260.6 701.5,260.7 701.5,260.9 701.5,261.0 701.5,261.1 701.5,261.3 701.6,261.4 701.7,261.5 701.7,261.6 701.8,261.8 702.0,261.9 702.1,262.0 702.3,262.1 702.4,262.2 702.6,262.3 702.8,262.4 703.0,262.5 703.3,262.6 703.5,262.7 703.8,262.7 704.0,262.8 704.3,262.8 704.6,262.9 704.8,262.9 705.1,263.0 705.4,263.0 705.7,263.0 706.0,263.0 706.3,263.0 706.6,263.0 706.9,263.0 707.2,262.9 707.4,262.9 707.7,262.8 708.0,262.8 708.2,262.7 708.5,262.7 708.7,262.6 709.0,262.5 709.2,262.4 709.4,262.3 709.6,262.2 709.7,262.1 709.9,262.0 710.0,261.9 710.2,261.8 710.3,261.6 710.3,261.5 710.4,261.4 710.5,261.3 710.5,261.1 710.5,261.0 710.5,260.9 710.5,260.7 710.4,260.6ZM687.0,299.0 697.0,296.0 698.0,281.0 699.0,258.0 695.0,243.0 682.0,243.0 680.0,254.0 683.5,270.0 684.5,286.0ZM675.2,301.4 678.9,294.1 680.0,286.8 677.6,280.6 667.8,277.0 658.0,279.4 653.1,286.8 645.7,294.1 643.3,303.9 631.0,313.7 628.6,321.0 631.0,323.5 638.4,323.5 650.6,319.8 663.0,311.3ZM613.8,330.7 613.7,330.5 613.6,330.4 613.5,330.2 613.4,330.1 613.3,330.0 613.1,329.9 613.0,329.7 612.8,329.6 612.6,329.5 612.4,329.4 612.2,329.3 612.0,329.3 611.8,329.2 611.6,329.1 611.4,329.1 611.2,329.0 611.0,329.0 610.7,329.0 610.5,329.0 610.3,329.0 610.0,329.0 609.8,329.0 609.6,329.1 609.4,329.1 609.2,329.2 609.0,329.3 608.8,329.3 608.6,329.4 608.4,329.5 608.2,329.6 608.0,329.7 607.9,329.9 607.7,330.0 607.6,330.1 607.5,330.2 607.4,330.4 607.3,330.5 607.2,330.7 607.1,330.9 607.1,331.0 607.0,331.2 607.0,331.3 607.0,331.5 607.0,331.7 607.0,331.8 607.1,332.0 607.1,332.1 607.2,332.3 607.3,332.5 607.4,332.6 607.5,332.8 607.6,332.9 607.7,333.0 607.9,333.1 608.0,333.3 608.2,333.4 608.4,333.5 608.6,333.6 608.8,333.7 609.0,333.7 609.2,333.8 609.4,333.9 609.6,333.9 609.8,334.0 610.0,334.0 610.3,334.0 610.5,334.0 610.7,334.0 611.0,334.0 611.2,334.0 611.4,333.9 611.6,333.9 611.8,333.8 612.0,333.7 612.2,333.7 612.4,333.6 612.6,333.5 612.8,333.4 613.0,333.3 613.1,333.1 613.3,333.0 613.4,332.9 613.5,332.8 613.6,332.6 613.7,332.5 613.8,332.3 613.9,332.1 613.9,332.0 614.0,331.8 614.0,331.7 614.0,331.5 614.0,331.3 614.0,331.2 613.9,331.0 613.9,330.9Z" fill="#5dfcff"/>
<path d="M786.4,168.9 786.3,168.5 786.2,168.4 786.0,168.1 785.9,167.9 785.7,167.6 785.6,167.5 785.4,167.2 785.3,167.1 785.0,166.8 784.9,166.7 784.6,166.4 784.5,166.3 784.2,166.1 784.1,166.0 783.8,165.8 783.7,165.7 783.3,165.5 783.2,165.4 782.9,165.2 782.8,165.1 782.4,164.9 782.3,164.9 781.9,164.7 781.8,164.7 781.3,164.5 781.2,164.5 780.8,164.4 780.7,164.3 780.3,164.2 780.2,164.2 779.7,164.1 779.6,164.1 779.2,164.1 779.1,164.1 778.6,164.0 778.5,164.0 778.1,164.0 777.9,164.0 777.5,164.0 777.4,164.0 776.9,164.1 776.8,164.1 776.4,164.1 776.3,164.1 775.8,164.2 775.7,164.2 775.3,164.3 775.2,164.4 774.8,164.5 774.7,164.5 774.2,164.7 774.1,164.7 773.7,164.9 773.6,164.9 773.2,165.1 773.1,165.2 772.8,165.4 772.7,165.5 772.3,165.7 772.2,165.8 771.9,166.0 771.8,166.1 771.5,166.3 771.4,166.4 771.1,166.7 771.0,166.8 770.7,167.1 770.6,167.2 770.4,167.5 770.3,167.6 770.1,167.9 770.0,168.1 769.8,168.4 769.7,168.5 769.6,168.9 769.5,169.0 769.4,169.4 769.3,169.5 769.2,169.9 769.2,170.0 769.1,170.4 769.1,170.5 769.0,170.9 769.0,171.1 769.0,171.4 769.0,171.6 769.0,171.9 769.0,172.1 769.1,172.5 769.1,172.6 769.2,173.0 769.2,173.1 769.3,173.5 769.4,173.6 769.5,174.0 769.6,174.1 769.7,174.5 769.8,174.6 770.0,174.9 770.1,175.1 770.3,175.4 770.4,175.5 770.6,175.8 770.7,175.9 771.0,176.2 771.1,176.3 771.4,176.6 771.5,176.7 771.8,176.9 771.9,177.0 772.2,177.2 772.3,177.3 772.7,177.5 772.8,177.6 773.1,177.8 773.2,177.9 773.6,178.1 773.7,178.1 774.1,178.3 774.2,178.3 774.7,178.5 774.8,178.5 775.2,178.6 775.3,178.7 775.7,178.8 775.8,178.8 776.3,178.9 776.4,178.9 776.8,178.9 776.9,178.9 777.4,179.0 777.5,179.0 777.9,179.0 778.1,179.0 778.5,179.0 778.6,179.0 779.1,178.9 779.2,178.9 779.6,178.9 779.7,178.9 780.2,178.8 780.3,178.8 780.7,178.7 780.8,178.6 781.2,178.5 781.3,178.5 781.8,178.3 781.9,178.3 782.3,178.1 782.4,178.1 782.8,177.9 782.9,177.8 783.2,177.6 783.3,177.5 783.7,177.3 783.8,177.2 784.1,177.0 784.2,176.9 784.5,176.7 784.6,176.6 784.9,176.3 785.0,176.2 785.3,175.9 785.4,175.8 785.6,175.5 785.7,175.4 785.9,175.1 786.0,174.9 786.2,174.6 786.3,174.5 786.4,174.1 786.5,174.0 786.6,173.6 786.7,173.5 786.8,173.1 786.8,173.0 786.9,172.6 786.9,172.5 787.0,172.1 787.0,171.9 787.0,171.6 787.0,171.4 787.0,171.1 787.0,170.9 786.9,170.5 786.9,170.4 786.8,170.0 786.8,169.9 786.7,169.5 786.6,169.4 786.5,169.0ZM848.9,174.5 848.8,174.4 848.8,174.2 848.7,174.0 848.7,173.8 848.6,173.7 848.5,173.5 848.4,173.4 848.3,173.2 848.2,173.1 848.1,173.0 848.0,172.9 847.9,172.8 847.8,172.7 847.6,172.7 847.5,172.6 847.4,172.6 847.3,172.5 847.1,172.5 847.0,172.5 846.9,172.5 846.7,172.5 846.6,172.6 846.5,172.6 846.4,172.7 846.2,172.7 846.1,172.8 846.0,172.9 845.9,173.0 845.8,173.1 845.7,173.2 845.6,173.4 845.5,173.5 845.4,173.7 845.3,173.8 845.3,174.0 845.2,174.2 845.2,174.4 845.1,174.5 845.1,174.7 845.0,174.9 845.0,175.1 845.0,175.3 845.0,175.5 845.0,175.7 845.0,175.9 845.0,176.1 845.1,176.3 845.1,176.5 845.2,176.6 845.2,176.8 845.3,177.0 845.3,177.2 845.4,177.3 845.5,177.5 845.6,177.6 845.7,177.8 845.8,177.9 845.9,178.0 846.0,178.1 846.1,178.2 846.2,178.3 846.4,178.3 846.5,178.4 846.6,178.4 846.7,178.5 846.9,178.5 847.0,178.5 847.1,178.5 847.3,178.5 847.4,178.4 847.5,178.4 847.6,178.3 847.8,178.3 847.9,178.2 848.0,178.1 848.1,178.0 848.2,177.9 848.3,177.8 848.4,177.6 848.5,177.5 848.6,177.3 848.7,177.2 848.7,177.0 848.8,176.8 848.8,176.6 848.9,176.5 848.9,176.3 849.0,176.1 849.0,175.9 849.0,175.7 849.0,175.5 849.0,175.3 849.0,175.1 849.0,174.9 848.9,174.7ZM805.0,187.7 805.0,187.5 804.9,187.3 804.8,187.1 804.7,186.9 804.7,186.8 804.6,186.6 804.5,186.4 804.3,186.3 804.2,186.2 804.1,186.1 804.0,186.0 803.8,185.9 803.7,185.8 803.6,185.7 803.4,185.7 803.3,185.6 803.1,185.6 803.0,185.6 802.9,185.6 802.7,185.6 802.6,185.7 802.4,185.7 802.3,185.8 802.2,185.9 802.0,186.0 801.9,186.1 801.8,186.2 801.7,186.3 801.5,186.4 801.4,186.6 801.3,186.8 801.3,186.9 801.2,187.1 801.1,187.3 801.0,187.5 801.0,187.7 800.9,187.9 800.9,188.1 800.8,188.3 800.8,188.6 800.8,188.8 800.8,189.0 800.8,189.2 800.8,189.4 800.8,189.7 800.9,189.9 800.9,190.1 801.0,190.3 801.0,190.5 801.1,190.7 801.2,190.9 801.3,191.1 801.3,191.2 801.4,191.4 801.5,191.6 801.7,191.7 801.8,191.8 801.9,191.9 802.0,192.0 802.2,192.1 802.3,192.2 802.4,192.3 802.6,192.3 802.7,192.4 802.9,192.4 803.0,192.4 803.1,192.4 803.3,192.4 803.4,192.3 803.6,192.3 803.7,192.2 803.8,192.1 804.0,192.0 804.1,191.9 804.2,191.8 804.3,191.7 804.5,191.6 804.6,191.4 804.7,191.2 804.7,191.1 804.8,190.9 804.9,190.7 805.0,190.5 805.0,190.3 805.1,190.1 805.1,189.9 805.2,189.7 805.2,189.4 805.2,189.2 805.2,189.0 805.2,188.8 805.2,188.6 805.2,188.3 805.1,188.1 805.1,187.9ZM720.5,201.6 720.5,201.6 710.9,208.4 710.7,208.5 710.6,208.6 710.4,208.8 710.3,208.9 710.2,209.1 710.1,209.3 710.1,209.5 710.0,209.6 710.0,209.8 710.0,210.0 705.0,212.0 706.0,217.0 718.0,217.0 735.0,217.0 748.0,214.0 746.3,211.1 746.6,211.2 746.7,211.2 746.8,211.2 747.0,211.3 747.2,211.3 747.4,211.3 747.6,211.3 747.8,211.3 748.0,211.3 748.2,211.2 748.3,211.2 748.4,211.2 750.5,210.7 750.5,210.7 750.3,210.9 750.2,211.1 750.2,211.2 750.1,211.4 750.0,211.6 750.0,211.8 750.0,212.0 750.0,214.4 752.0,214.5 757.0,219.0 755.0,225.0 754.6,225.2 761.3,227.9 761.4,227.9 761.6,228.0 761.8,228.0 762.0,228.0 762.2,228.0 775.2,227.0 775.3,227.0 775.5,226.9 775.7,226.9 775.9,226.8 776.0,226.7 776.2,226.6 776.3,226.5 781.6,221.9 785.2,212.9 787.0,208.3 786.9,208.2 786.7,208.1 778.7,205.1 778.5,205.1 778.3,205.0 778.1,205.0 777.8,205.0 764.8,206.0 764.6,206.0 764.4,206.1 757.6,208.2 762.8,203.0 762.9,202.9 763.1,202.7 763.1,202.6 768.5,195.4 768.6,195.3 768.7,195.2 768.8,195.0 768.9,194.9 768.9,194.8 772.5,187.6 772.5,187.5 772.6,187.4 772.7,187.2 772.7,187.0 772.8,186.8 772.8,186.7 772.9,186.5 772.9,186.3 772.9,186.1 772.9,185.9 772.9,185.7 772.9,185.6 772.9,185.4 772.8,185.2 772.8,185.0 772.8,184.9 772.7,184.7 772.6,184.5 772.6,184.3 772.5,184.2 772.4,184.0 772.3,183.9 772.2,183.7 772.1,183.6 772.0,183.4 771.9,183.3 771.7,183.2 771.6,183.0 771.5,182.9 771.3,182.8 771.2,182.8 764.0,177.9 763.9,177.8 763.8,177.7 763.6,177.6 763.4,177.5 763.2,177.4 763.1,177.4 762.9,177.3 762.7,177.3 762.5,177.2 762.3,177.2 762.1,177.2 761.9,177.2 761.7,177.2 761.5,177.2 761.4,177.2 745.1,179.5 740.0,181.0 735.9,182.5 735.1,183.3 730.6,187.8 724.0,191.8 721.4,198.3 720.5,199.0 720.4,199.4 720.4,199.5 720.4,199.7 720.3,199.9 720.3,200.0 720.3,200.2 720.3,200.4 720.3,200.6 720.3,200.8 720.4,201.0 720.4,201.2 720.5,201.4ZM694.0,218.3 693.9,218.1 693.8,218.0 693.7,217.9 693.6,217.7 693.5,217.6 693.4,217.5 693.3,217.4 693.2,217.3 693.0,217.2 692.9,217.1 692.8,217.0 692.7,217.0 692.5,216.9 692.4,216.8 692.3,216.7 692.2,216.7 692.0,216.6 691.9,216.6 691.7,216.5 691.6,216.5 691.4,216.4 691.3,216.4 691.1,216.3 691.0,216.3 690.8,216.2 690.8,216.2 690.5,216.2 690.5,216.1 690.2,216.1 690.2,216.1 689.9,216.1 689.9,216.0 689.6,216.0 689.6,216.0 689.3,216.0 689.3,216.0 689.0,216.0 689.0,216.0 688.7,216.0 688.7,216.0 688.4,216.0 688.4,216.0 688.1,216.0 688.1,216.1 687.8,216.1 687.8,216.1 687.5,216.1 687.5,216.2 687.2,216.2 687.2,216.2 687.1,216.2 686.1,216.6 686.0,216.6 685.8,216.7 685.7,216.7 685.6,216.8 685.5,216.9 685.3,217.0 685.2,217.0 685.1,217.1 685.0,217.2 684.8,217.3 684.7,217.4 684.6,217.5 684.5,217.6 684.4,217.7 684.3,217.9 684.2,218.0 684.1,218.1 684.0,218.3 683.9,218.4 683.9,218.5 683.8,218.7 683.7,218.9 683.6,219.1 683.6,219.2 683.6,219.4 683.5,219.5 683.5,219.8 683.5,219.9 683.5,220.1 683.5,220.2 683.5,220.5 683.6,220.6 683.6,220.8 683.6,220.9 683.7,221.1 683.7,221.2 686.1,223.1 690.0,223.9 690.2,223.9 690.2,223.9 690.5,223.9 690.5,223.8 690.8,223.8 690.8,223.8 691.0,223.7 691.1,223.7 691.3,223.6 691.4,223.6 691.6,223.5 691.7,223.5 691.9,223.4 692.0,223.4 692.2,223.3 692.3,223.3 692.4,223.2 692.5,223.1 692.7,223.0 692.8,223.0 692.9,222.9 693.0,222.8 693.2,222.7 693.3,222.6 693.4,222.5 693.5,222.4 693.6,222.3 693.7,222.1 693.8,222.0 693.9,221.9 694.0,221.7 694.1,221.6 694.1,221.5 694.2,221.3 694.3,221.1 694.4,220.9 694.4,220.8 694.4,220.6 694.5,220.5 694.5,220.2 694.5,220.1 694.5,219.9 694.5,219.8 694.5,219.5 694.4,219.4 694.4,219.2 694.4,219.1 694.3,218.9 694.2,218.7 694.1,218.5 694.1,218.4ZM726.5,222.2 726.4,222.0 726.3,221.9 726.2,221.7 726.1,221.6 726.0,221.5 725.8,221.4 725.4,221.2 724.9,221.0 724.5,220.8 724.0,220.7 723.5,220.5 723.0,220.4 722.4,220.3 721.9,220.2 721.3,220.1 720.8,220.1 720.2,220.0 719.6,220.0 719.0,220.0 718.4,220.0 718.1,220.0 718.1,220.1 718.0,220.1 717.7,220.2 717.7,220.2 717.4,220.3 717.4,220.4 717.2,220.5 717.1,220.6 716.9,220.7 716.8,220.8 716.6,220.9 716.5,221.0 716.4,221.1 716.3,221.2 716.1,221.3 716.0,221.5 715.9,221.6 715.8,221.7 715.7,221.9 715.6,222.0 715.5,222.2 715.4,222.3 715.3,222.5 715.3,222.7 715.2,222.8 715.1,223.0 715.1,223.2 715.1,223.4 715.0,223.5 715.0,223.7 715.0,223.9 715.0,224.1 715.0,224.3 715.0,224.5 715.1,224.6 715.1,224.8 715.1,225.0 715.2,225.2 715.3,225.3 715.3,225.5 715.4,225.7 715.5,225.8 715.6,226.0 715.7,226.1 715.8,226.3 715.9,226.4 716.0,226.5 716.1,226.7 716.3,226.8 716.4,226.9 716.5,227.0 716.6,227.1 716.8,227.2 716.9,227.3 717.1,227.4 717.2,227.5 717.4,227.6 717.4,227.7 717.7,227.8 717.7,227.8 718.0,227.9 718.1,227.9 718.1,228.0 718.4,228.0 719.0,228.0 719.6,228.0 720.2,228.0 720.8,227.9 721.3,227.9 721.9,227.8 722.4,227.7 723.0,227.6 723.5,227.5 724.0,227.3 724.5,227.2 724.9,227.0 725.4,226.8 725.8,226.6 726.0,226.5 726.1,226.4 726.2,226.3 726.3,226.1 726.4,226.0 726.5,225.8 726.6,225.7 726.7,225.5 726.7,225.3 726.8,225.2 726.9,225.0 726.9,224.8 726.9,224.6 727.0,224.5 727.0,224.3 727.0,224.1 727.0,223.9 727.0,223.7 727.0,223.5 726.9,223.4 726.9,223.2 726.9,223.0 726.8,222.8 726.7,222.7 726.7,222.5 726.6,222.3ZM756.5,230.6 756.3,230.5 756.2,230.4 756.0,230.3 755.8,230.2 755.6,230.1 755.4,230.1 747.0,228.1 735.0,229.5 727.4,230.1 727.4,230.1 727.2,230.2 727.0,230.2 726.9,230.3 726.7,230.5 726.6,230.6 726.4,230.7 726.3,230.9 726.2,231.1 726.2,231.2 726.1,231.4 726.0,231.6 726.0,231.8 725.4,238.2 728.0,241.4 733.2,245.4 745.0,242.7 754.1,240.1 759.2,237.6 756.9,231.3 756.8,231.1 756.7,230.9 756.6,230.8ZM695.1,244.3 694.9,244.2 694.7,244.1 694.6,244.1 694.4,244.0 694.2,244.0 694.0,244.0 684.0,244.0 683.8,244.0 683.6,244.0 683.4,244.1 683.2,244.1 683.1,244.2 682.9,244.3 682.7,244.4 682.6,244.6 682.5,244.7 682.4,244.9 682.3,245.0 682.2,245.2 682.1,245.4 682.0,245.6 680.1,254.4 683.5,270.0 684.5,286.0 687.0,299.0 697.0,296.0 698.0,281.0 699.0,258.7 698.9,258.6 697.7,253.0 695.4,244.6 695.4,244.6 695.2,244.4ZM633.6,311.8 633.6,311.9 632.9,312.7 632.9,312.7 632.9,312.8 632.8,312.8 632.2,313.6 632.2,313.7 632.2,313.7 632.1,313.8 631.6,314.5 631.6,314.6 631.5,314.7 631.5,314.7 631.0,315.4 631.0,315.5 631.0,315.6 630.9,315.7 630.6,316.4 630.5,316.4 630.5,316.5 630.4,316.6 630.2,317.3 630.1,317.4 630.1,317.5 630.1,317.6 629.9,318.2 629.8,318.4 629.8,318.6 629.8,318.7 629.7,319.2 629.7,319.3 629.7,319.4 629.7,319.6 629.6,319.7 629.6,319.8 629.7,320.3 629.7,320.4 629.7,320.6 629.7,320.8 629.7,321.0 629.7,321.1 629.8,321.5 629.9,321.6 629.9,321.8 630.0,322.0 630.1,322.2 630.1,322.3 630.3,322.7 630.3,322.8 630.4,322.9 631.0,323.5 638.4,323.5 650.6,319.8 663.0,311.3 675.2,301.4 678.9,294.1 679.1,293.1 679.0,293.0 678.9,292.8 678.9,292.7 678.7,292.3 678.7,292.2 678.6,292.1 678.5,292.0 678.4,291.9 678.4,291.7 678.3,291.6 678.2,291.6 677.9,291.2 677.9,291.1 677.7,291.0 677.6,290.8 677.4,290.7 677.3,290.7 677.0,290.4 676.9,290.3 676.7,290.2 676.6,290.1 676.4,290.1 676.3,290.0 675.9,289.8 675.8,289.8 675.7,289.8 676.0,289.6 676.0,289.6 676.0,289.6 676.1,289.5 676.6,289.2 676.6,289.2 676.7,289.1 676.7,289.1 677.1,288.7 677.2,288.7 677.2,288.7 677.3,288.6 677.7,288.3 677.7,288.2 677.8,288.2 677.8,288.1 678.2,287.8 678.3,287.7 678.3,287.7 678.4,287.6 678.7,287.3 678.7,287.2 678.8,287.1 678.9,287.1 679.2,286.7 679.2,286.6 679.3,286.6 679.3,286.5 679.6,286.1 679.6,286.1 679.7,286.0 677.6,280.6 667.8,277.0 658.0,279.4 653.1,286.8 652.3,287.6 652.3,287.7 652.3,288.0 652.4,288.2 652.4,288.4 652.5,288.5 652.6,288.8 652.5,288.8 652.5,288.8 652.5,288.8 652.0,288.9 651.9,289.0 651.9,289.0 651.9,289.0 651.4,289.1 651.4,289.2 651.3,289.2 651.3,289.2 650.8,289.4 650.8,289.4 650.7,289.4 650.7,289.4 650.3,289.6 645.7,294.1 644.0,301.2 644.1,301.4 644.1,301.5 644.2,301.6 644.3,301.7 644.5,301.9 644.5,302.0 644.6,302.1 643.6,302.8 643.3,303.9 634.3,311.0 633.7,311.8 633.7,311.8Z" fill="#00c3ff"/>
<path d="M784.8,170.1 784.6,169.7 784.5,169.4 784.3,169.1 784.1,168.8 783.8,168.4 783.6,168.2 783.3,167.9 782.9,167.6 782.6,167.4 782.3,167.1 781.9,166.9 781.5,166.7 781.1,166.6 780.7,166.4 780.3,166.3 779.8,166.2 779.4,166.1 778.9,166.0 778.5,166.0 778.0,166.0 777.5,166.0 777.1,166.0 776.6,166.1 776.2,166.2 775.7,166.3 775.3,166.4 774.9,166.6 774.5,166.7 774.1,166.9 773.7,167.1 773.4,167.4 773.1,167.6 772.7,167.9 772.4,168.2 772.2,168.4 771.9,168.8 771.7,169.1 771.5,169.4 771.4,169.7 771.2,170.1 771.1,170.4 771.1,170.8 771.0,171.1 771.0,171.5 771.0,171.9 771.1,172.2 771.1,172.6 771.2,172.9 771.4,173.3 771.5,173.6 771.7,173.9 771.9,174.2 772.2,174.6 772.4,174.8 772.7,175.1 773.1,175.4 773.4,175.6 773.7,175.9 774.1,176.1 774.5,176.3 774.9,176.4 775.3,176.6 775.7,176.7 776.2,176.8 776.6,176.9 777.1,177.0 777.5,177.0 778.0,177.0 778.5,177.0 778.9,177.0 779.4,176.9 779.8,176.8 780.3,176.7 780.7,176.6 781.1,176.4 781.5,176.3 781.9,176.1 782.3,175.9 782.6,175.6 782.9,175.4 783.3,175.1 783.6,174.8 783.8,174.6 784.1,174.2 784.3,173.9 784.5,173.6 784.6,173.3 784.8,172.9 784.9,172.6 784.9,172.2 785.0,171.9 785.0,171.5 785.0,171.1 784.9,170.8 784.9,170.4ZM722.3,200.6 722.4,200.8 722.4,200.9 722.5,201.1 723.7,203.6 722.0,203.0 712.0,210.0 722.0,209.0 726.9,205.7 732.9,205.7 747.1,209.2 747.2,209.3 747.4,209.3 747.6,209.3 747.8,209.3 747.9,209.2 755.1,207.4 755.3,207.4 755.4,207.3 755.6,207.3 755.7,207.2 755.9,207.1 756.0,207.0 761.4,201.6 761.5,201.4 766.9,194.2 767.0,194.0 767.1,193.9 770.7,186.7 770.8,186.5 770.8,186.4 770.9,186.2 770.9,186.0 770.9,185.9 770.9,185.7 770.9,185.5 770.8,185.4 770.8,185.2 770.7,185.0 770.6,184.9 770.5,184.8 770.4,184.6 770.3,184.5 770.1,184.4 762.9,179.5 762.8,179.4 762.6,179.3 762.4,179.3 762.2,179.2 762.0,179.2 761.8,179.2 761.7,179.2 739.8,182.2 739.6,182.2 739.4,182.3 739.2,182.4 739.1,182.5 738.9,182.6 738.8,182.7 733.8,187.2 726.7,191.6 726.6,191.7 726.5,191.8 726.4,191.9 726.3,192.0 723.6,195.6 723.5,195.8 723.4,195.9 723.3,196.1 723.3,196.3 722.4,199.9 722.3,200.0 722.3,200.2 722.3,200.4ZM783.0,218.0 786.0,210.0 778.0,207.0 765.0,208.0 752.0,212.0 752.0,222.0 762.0,226.0 775.0,225.0ZM692.4,219.5 692.3,219.4 692.2,219.2 692.1,219.1 692.0,219.0 691.9,218.9 691.8,218.8 691.6,218.7 691.5,218.6 691.3,218.5 691.1,218.4 690.9,218.3 690.8,218.3 690.5,218.2 690.3,218.2 690.1,218.1 689.9,218.1 689.7,218.0 689.5,218.0 689.2,218.0 689.0,218.0 688.8,218.0 688.5,218.0 688.3,218.0 688.1,218.1 687.9,218.1 687.7,218.2 687.5,218.2 687.2,218.3 687.1,218.3 686.9,218.4 686.7,218.5 686.5,218.6 686.4,218.7 686.2,218.8 686.1,218.9 686.0,219.0 685.9,219.1 685.8,219.2 685.7,219.4 685.6,219.5 685.6,219.6 685.5,219.7 685.5,219.9 685.5,220.0 685.5,220.1 685.5,220.3 685.6,220.4 685.6,220.5 685.7,220.6 685.8,220.8 685.9,220.9 686.0,221.0 686.1,221.1 686.2,221.2 686.4,221.3 686.5,221.4 686.7,221.5 686.9,221.6 687.1,221.7 687.2,221.7 687.5,221.8 687.7,221.8 687.9,221.9 688.1,221.9 688.3,222.0 688.5,222.0 688.8,222.0 689.0,222.0 689.2,222.0 689.5,222.0 689.7,222.0 689.9,221.9 690.1,221.9 690.3,221.8 690.5,221.8 690.8,221.7 690.9,221.7 691.1,221.6 691.3,221.5 691.5,221.4 691.6,221.3 691.8,221.2 691.9,221.1 692.0,221.0 692.1,220.9 692.2,220.8 692.3,220.6 692.4,220.5 692.4,220.4 692.5,220.3 692.5,220.1 692.5,220.0 692.5,219.9 692.5,219.7 692.4,219.6ZM724.9,223.4 724.8,223.2 724.7,223.0 724.6,222.9 724.5,222.8 724.3,222.6 724.2,222.5 724.0,222.4 723.8,222.2 723.6,222.1 723.4,222.0 723.2,221.9 723.0,221.8 722.8,221.8 722.5,221.7 722.3,221.6 722.0,221.6 721.8,221.5 721.5,221.5 721.3,221.5 721.0,221.5 720.7,221.5 720.5,221.5 720.2,221.5 720.0,221.6 719.7,221.6 719.5,221.7 719.2,221.8 719.0,221.8 718.8,221.9 718.6,222.0 718.4,222.1 718.2,222.2 718.0,222.4 717.8,222.5 717.7,222.6 717.5,222.8 717.4,222.9 717.3,223.0 717.2,223.2 717.1,223.4 717.1,223.5 717.0,223.7 717.0,223.8 717.0,224.0 717.0,224.2 717.0,224.3 717.1,224.5 717.1,224.6 717.2,224.8 717.3,225.0 717.4,225.1 717.5,225.2 717.7,225.4 717.8,225.5 718.0,225.6 718.2,225.8 718.4,225.9 718.6,226.0 718.8,226.1 719.0,226.2 719.2,226.2 719.5,226.3 719.7,226.4 720.0,226.4 720.2,226.5 720.5,226.5 720.7,226.5 721.0,226.5 721.3,226.5 721.5,226.5 721.8,226.5 722.0,226.4 722.3,226.4 722.5,226.3 722.8,226.2 723.0,226.2 723.2,226.1 723.4,226.0 723.6,225.9 723.8,225.8 724.0,225.6 724.2,225.5 724.3,225.4 724.5,225.2 724.6,225.1 724.7,225.0 724.8,224.8 724.9,224.6 724.9,224.5 725.0,224.3 725.0,224.2 725.0,224.0 725.0,223.8 725.0,223.7 724.9,223.5ZM758.0,240.0 755.0,232.0 742.0,229.0 728.0,232.0 727.0,242.0 735.0,247.0 748.0,246.0ZM695.5,295.0 696.5,281.0 697.0,259.0 694.0,246.0 684.0,246.0 682.0,255.0 684.5,270.0 685.5,286.0 688.0,297.5ZM644.7,304.5 644.7,304.5 643.4,305.4 643.4,305.5 642.2,306.4 642.2,306.4 641.0,307.4 641.0,307.4 639.9,308.4 639.9,308.4 638.8,309.3 638.8,309.4 637.8,310.3 637.8,310.3 636.9,311.2 636.8,311.3 636.0,312.2 636.0,312.2 635.2,313.1 635.2,313.1 634.5,314.0 634.4,314.0 633.8,314.8 633.8,314.9 633.3,315.7 633.2,315.7 632.8,316.5 632.7,316.6 632.4,317.3 632.3,317.4 632.0,318.0 632.0,318.2 631.8,318.8 631.8,319.0 631.7,319.5 631.6,319.7 631.6,319.8 631.7,320.3 631.7,320.5 631.7,320.6 631.8,321.1 631.8,321.3 631.9,321.4 632.1,321.8 632.2,321.9 632.2,322.0 632.3,322.1 632.6,322.5 632.7,322.6 632.9,322.7 633.2,323.0 633.4,323.1 633.5,323.2 634.0,323.4 634.1,323.4 634.2,323.5 634.7,323.6 635.0,323.6 635.6,323.7 635.7,323.7 636.4,323.8 636.6,323.8 637.3,323.7 637.5,323.7 638.3,323.6 638.4,323.6 639.3,323.4 639.4,323.4 640.4,323.2 640.4,323.2 641.5,322.9 641.6,322.9 642.7,322.5 642.7,322.5 643.9,322.1 643.9,322.1 645.1,321.6 645.2,321.6 646.4,321.1 646.4,321.1 647.7,320.5 647.8,320.5 649.1,319.9 649.1,319.8 650.5,319.2 650.5,319.2 651.8,318.5 651.9,318.4 653.3,317.7 653.3,317.7 654.7,316.9 654.7,316.9 656.1,316.1 656.1,316.0 657.5,315.2 657.5,315.2 658.9,314.3 658.9,314.3 660.3,313.4 660.3,313.4 661.7,312.4 661.7,312.4 663.0,311.5 663.0,311.5 664.3,310.5 664.3,310.5 665.6,309.6 665.6,309.5 666.8,308.6 666.8,308.6 668.0,307.6 668.0,307.6 669.1,306.6 669.1,306.6 670.2,305.7 670.2,305.6 671.2,304.7 671.2,304.7 672.1,303.8 672.2,303.7 673.0,302.8 673.0,302.8 673.8,301.9 673.8,301.9 674.5,301.0 674.6,301.0 675.2,300.2 675.2,300.1 675.7,299.3 675.8,299.3 676.2,298.5 676.3,298.4 676.6,297.7 676.7,297.6 677.0,297.0 677.0,296.8 677.2,296.2 677.2,296.0 677.3,295.5 677.4,295.3 677.4,295.2 677.3,294.7 677.3,294.5 677.3,294.4 677.2,293.9 677.2,293.7 677.1,293.6 676.9,293.2 676.8,293.1 676.8,293.0 676.7,292.9 676.4,292.5 676.3,292.4 676.1,292.3 675.8,292.0 675.6,291.9 675.5,291.8 675.0,291.6 674.9,291.6 674.8,291.5 674.3,291.4 674.0,291.4 673.4,291.3 673.3,291.3 672.6,291.2 672.4,291.2 671.7,291.3 671.5,291.3 670.7,291.4 670.6,291.4 669.9,291.5 669.9,291.5 669.5,291.6 669.4,291.6 669.0,291.7 668.9,291.7 668.5,291.8 668.5,291.8 668.0,291.9 668.0,291.9 667.6,292.1 667.5,292.1 667.1,292.2 667.0,292.3 667.0,292.3 666.3,292.5 666.3,292.5 665.1,292.9 665.1,292.9 663.9,293.4 663.8,293.4 662.7,293.9 662.7,293.7 662.6,293.5 662.5,293.3 662.4,293.0 662.3,292.9 662.2,292.6 662.1,292.5 661.9,292.3 661.8,292.1 661.6,291.9 661.5,291.8 661.4,291.7 661.6,291.7 661.7,291.7 662.3,291.7 662.3,291.7 663.0,291.7 663.1,291.7 663.7,291.6 663.8,291.6 664.5,291.6 664.5,291.6 665.2,291.5 665.2,291.5 665.9,291.4 666.0,291.4 666.7,291.2 666.7,291.2 667.4,291.1 667.5,291.1 668.2,290.9 668.2,290.9 668.9,290.7 669.0,290.7 669.7,290.4 669.7,290.4 670.4,290.2 670.4,290.2 671.1,289.9 671.1,289.9 671.8,289.6 671.8,289.6 672.4,289.3 672.5,289.3 673.1,289.0 673.1,289.0 673.7,288.7 673.8,288.6 674.3,288.3 674.4,288.3 674.9,287.9 674.9,287.9 675.4,287.6 675.5,287.5 675.9,287.2 676.0,287.1 676.4,286.8 676.5,286.7 676.8,286.3 676.9,286.3 677.2,285.9 677.3,285.8 677.6,285.5 677.7,285.4 677.9,285.0 678.0,284.9 678.2,284.5 678.3,284.4 678.4,284.0 678.5,283.9 678.6,283.5 678.7,283.3 678.7,283.0 678.8,282.8 678.8,282.4 678.8,282.2 678.8,281.9 678.8,281.7 678.7,281.4 678.6,281.1 678.5,280.8 678.4,280.6 678.3,280.3 678.2,280.1 678.0,279.8 677.9,279.7 677.6,279.4 677.5,279.3 677.2,279.0 677.1,278.9 676.7,278.7 676.6,278.6 676.3,278.4 676.1,278.4 675.7,278.2 675.6,278.1 675.2,278.0 675.1,277.9 674.6,277.8 674.5,277.7 674.0,277.6 673.9,277.6 673.4,277.5 673.3,277.5 672.8,277.4 672.7,277.4 672.1,277.3 672.0,277.3 671.4,277.3 671.3,277.3 670.7,277.3 670.7,277.3 670.0,277.3 669.9,277.3 669.3,277.4 669.2,277.4 668.5,277.4 668.5,277.4 667.8,277.5 667.8,277.5 667.1,277.6 667.0,277.6 666.3,277.8 666.3,277.8 665.6,277.9 665.5,277.9 664.8,278.1 664.8,278.1 664.1,278.3 664.0,278.3 663.3,278.6 663.3,278.6 662.6,278.8 662.6,278.8 661.9,279.1 661.9,279.1 661.2,279.4 661.2,279.4 660.6,279.7 660.5,279.7 659.9,280.0 659.9,280.0 659.3,280.3 659.2,280.4 658.7,280.7 658.6,280.7 658.1,281.1 658.1,281.1 657.6,281.4 657.5,281.5 657.1,281.8 657.0,281.9 656.6,282.2 656.5,282.3 656.2,282.7 656.1,282.7 655.8,283.1 655.7,283.2 655.4,283.5 655.3,283.6 655.1,284.0 655.0,284.1 654.8,284.5 654.7,284.6 654.6,285.0 654.5,285.1 654.4,285.5 654.3,285.7 654.3,286.0 654.2,286.2 654.2,286.6 654.2,286.8 654.2,287.1 654.2,287.3 654.3,287.6 654.4,287.9 654.5,288.2 654.6,288.4 654.7,288.7 654.8,288.9 655.0,289.2 655.1,289.3 655.4,289.6 655.5,289.7 655.8,290.0 655.9,290.1 656.1,290.2 655.7,290.2 655.7,290.2 655.2,290.3 655.1,290.3 654.7,290.4 654.6,290.4 654.1,290.4 654.1,290.5 653.6,290.6 653.6,290.6 653.1,290.7 653.0,290.7 652.6,290.9 652.5,290.9 652.0,291.0 652.0,291.1 651.5,291.2 651.5,291.3 651.0,291.5 651.0,291.5 650.5,291.7 650.5,291.7 650.1,291.9 650.0,292.0 649.6,292.2 649.5,292.2 649.1,292.5 649.1,292.5 648.7,292.8 648.6,292.8 648.3,293.1 648.2,293.1 647.9,293.4 647.8,293.5 647.5,293.7 647.4,293.8 647.1,294.1 647.1,294.1 646.8,294.4 646.8,294.5 646.5,294.8 646.5,294.9 646.2,295.2 646.2,295.3 646.0,295.6 645.9,295.7 645.8,296.0 645.7,296.1 645.6,296.4 645.5,296.5 645.4,296.8 645.4,297.0 645.3,297.3 645.3,297.4 645.2,297.7 645.2,297.9 645.2,298.2 645.2,298.3 645.2,298.6 645.2,298.8 645.3,299.1 645.3,299.3 645.4,299.5 645.5,299.7 645.6,300.0 645.7,300.1 645.8,300.4 645.9,300.5 646.1,300.7 646.2,300.9 646.4,301.1 646.5,301.2 646.7,301.4 646.8,301.5 647.1,301.7 647.2,301.8 647.5,301.9 647.6,302.0 647.9,302.1 647.9,302.1 647.3,302.6 647.3,302.6 646.0,303.5 646.0,303.5Z" fill="#0a64ff"/>
<path d="M781.4,170.9 781.4,170.7 781.3,170.5 781.3,170.4 781.2,170.2 781.1,170.0 781.0,169.8 780.9,169.7 780.8,169.5 780.6,169.4 780.5,169.2 780.3,169.1 780.2,169.0 780.0,168.9 779.8,168.8 779.6,168.7 779.5,168.7 779.3,168.6 779.1,168.6 778.9,168.5 778.7,168.5 778.5,168.5 778.3,168.5 778.1,168.5 777.9,168.6 777.7,168.6 777.5,168.7 777.4,168.7 777.2,168.8 777.0,168.9 776.8,169.0 776.7,169.1 776.5,169.2 776.4,169.4 776.2,169.5 776.1,169.7 776.0,169.8 775.9,170.0 775.8,170.2 775.7,170.4 775.7,170.5 775.6,170.7 775.6,170.9 775.5,171.1 775.5,171.3 775.5,171.5 775.5,171.7 775.5,171.9 775.6,172.1 775.6,172.3 775.7,172.5 775.7,172.6 775.8,172.8 775.9,173.0 776.0,173.2 776.1,173.3 776.2,173.5 776.4,173.6 776.5,173.8 776.7,173.9 776.8,174.0 777.0,174.1 777.2,174.2 777.4,174.3 777.5,174.3 777.7,174.4 777.9,174.4 778.1,174.5 778.3,174.5 778.5,174.5 778.7,174.5 778.9,174.5 779.1,174.4 779.3,174.4 779.5,174.3 779.6,174.3 779.8,174.2 780.0,174.1 780.2,174.0 780.3,173.9 780.5,173.8 780.6,173.6 780.8,173.5 780.9,173.3 781.0,173.2 781.1,173.0 781.2,172.8 781.3,172.6 781.3,172.5 781.4,172.3 781.4,172.1 781.5,171.9 781.5,171.7 781.5,171.5 781.5,171.3 781.5,171.1ZM747.7,208.7 747.8,208.7 755.0,206.9 755.1,206.8 755.2,206.8 755.3,206.7 755.4,206.7 755.5,206.6 755.5,206.5 760.9,201.1 761.1,201.0 766.5,193.8 766.5,193.7 766.6,193.6 770.2,186.4 770.2,186.3 770.3,186.2 770.3,186.1 770.3,186.0 770.3,185.9 770.3,185.8 770.3,185.7 770.2,185.5 770.2,185.4 770.2,185.3 770.1,185.2 770.0,185.1 770.0,185.1 769.9,185.0 769.8,184.9 762.6,180.0 762.5,179.9 762.4,179.9 762.2,179.8 762.1,179.8 762.0,179.8 761.9,179.8 761.7,179.8 739.8,182.8 739.7,182.8 739.6,182.9 739.5,182.9 739.4,183.0 739.3,183.0 739.2,183.1 734.2,187.6 727.1,192.1 727.0,192.1 726.9,192.2 726.8,192.3 726.7,192.4 724.0,196.0 724.0,196.1 723.9,196.2 723.9,196.3 723.8,196.4 722.9,200.0 722.9,200.1 722.9,200.2 722.9,200.4 722.9,200.5 722.9,200.6 723.0,200.7 723.0,200.8 724.8,204.4 724.9,204.5 725.0,204.6 725.0,204.7 725.1,204.8 725.2,204.9 725.3,205.0 725.4,205.0 725.5,205.0 725.7,205.1 725.8,205.1 725.9,205.1 733.0,205.1 747.2,208.7 747.3,208.7 747.4,208.7 747.6,208.7ZM774.7,222.9 774.8,222.9 774.9,222.8 780.9,215.8 781.0,215.7 781.0,215.6 781.1,215.5 781.1,215.4 781.2,215.3 781.2,215.2 781.2,215.0 781.2,214.9 781.2,214.8 781.2,214.7 781.1,214.6 781.1,214.5 781.0,214.4 781.0,214.3 780.9,214.2 780.8,214.1 780.7,214.0 776.7,211.0 776.6,211.0 776.5,210.9 776.4,210.9 776.3,210.8 776.2,210.8 776.1,210.8 776.0,210.8 775.9,210.8 765.9,211.8 765.8,211.8 765.6,211.9 765.5,211.9 765.4,212.0 756.4,217.0 756.3,217.0 756.2,217.1 756.1,217.2 756.1,217.2 756.0,217.3 755.9,217.4 755.9,217.5 755.8,217.7 755.8,217.8 755.8,217.9 755.8,218.0 755.8,218.1 755.8,218.2 756.8,223.2 756.9,223.4 756.9,223.5 756.9,223.6 757.0,223.7 757.1,223.8 757.2,223.9 757.3,223.9 757.4,224.0 757.5,224.1 757.6,224.1 757.7,224.2 757.8,224.2 763.8,225.2 763.9,225.2 764.0,225.2 764.1,225.2 764.2,225.2 774.2,223.2 774.3,223.1 774.5,223.1 774.6,223.1 774.7,223.0ZM692.0,219.0 691.9,218.9 691.8,218.8 691.6,218.7 691.5,218.6 691.3,218.5 691.1,218.4 690.9,218.3 690.8,218.3 690.5,218.2 690.3,218.2 690.1,218.1 689.9,218.1 689.7,218.0 689.5,218.0 689.2,218.0 689.0,218.0 688.8,218.0 688.5,218.0 688.3,218.0 688.1,218.1 687.9,218.1 687.7,218.2 687.5,218.2 687.2,218.3 687.1,218.3 686.9,218.4 686.7,218.5 686.5,218.6 686.4,218.7 686.2,218.8 686.1,218.9 686.0,219.0 685.9,219.1 685.8,219.2 685.7,219.4 685.6,219.5 685.6,219.6 685.5,219.7 685.5,219.9 685.5,220.0 685.5,220.1 685.5,220.3 685.6,220.4 685.6,220.5 685.7,220.6 685.8,220.8 685.9,220.9 686.0,221.0 686.1,221.1 686.2,221.2 686.4,221.3 686.5,221.4 686.7,221.5 686.9,221.6 687.1,221.7 687.2,221.7 687.5,221.8 687.7,221.8 687.9,221.9 688.1,221.9 688.3,222.0 688.5,222.0 688.8,222.0 689.0,222.0 689.2,222.0 689.5,222.0 689.7,222.0 689.9,221.9 690.1,221.9 690.3,221.8 690.5,221.8 690.8,221.7 690.9,221.7 691.1,221.6 691.3,221.5 691.5,221.4 691.6,221.3 691.8,221.2 691.9,221.1 692.0,221.0 692.1,220.9 692.2,220.8 692.3,220.6 692.4,220.5 692.4,220.4 692.5,220.3 692.5,220.1 692.5,220.0 692.5,219.9 692.5,219.7 692.4,219.6 692.4,219.5 692.3,219.4 692.2,219.2 692.1,219.1ZM749.9,240.8 750.0,240.7 750.1,240.6 750.1,240.5 750.1,240.4 750.2,240.2 750.2,240.1 750.2,240.0 750.2,234.0 750.2,233.9 750.2,233.8 750.1,233.7 750.1,233.5 750.1,233.4 750.0,233.3 749.9,233.2 749.8,233.2 749.8,233.1 749.7,233.0 749.6,232.9 749.5,232.9 749.3,232.9 749.2,232.8 749.1,232.8 749.0,232.8 740.0,232.8 739.9,232.8 739.8,232.8 739.6,232.9 739.5,232.9 730.5,236.9 730.4,237.0 730.3,237.0 730.2,237.1 730.1,237.2 730.1,237.3 730.0,237.3 729.9,237.4 729.9,237.5 729.9,237.7 729.8,237.8 729.8,237.9 729.8,238.0 729.8,238.1 729.8,238.2 729.8,238.3 729.9,238.4 731.9,243.4 731.9,243.6 732.0,243.7 732.1,243.8 732.1,243.8 732.2,243.9 732.3,244.0 732.4,244.1 732.5,244.1 732.6,244.1 732.8,244.2 732.9,244.2 733.0,244.2 741.0,244.2 741.1,244.2 741.2,244.2 741.3,244.2 741.4,244.1 749.4,241.1 749.5,241.1 749.6,241.0 749.7,240.9 749.8,240.9ZM688.1,295.7 688.1,295.8 688.2,295.9 688.3,296.0 688.4,296.1 688.5,296.1 688.6,296.1 688.7,296.2 688.9,296.2 689.0,296.2 689.1,296.2 689.2,296.2 689.3,296.2 689.4,296.1 694.4,294.1 694.6,294.1 694.7,294.0 694.8,293.9 694.8,293.9 694.9,293.8 695.0,293.7 695.1,293.6 695.1,293.5 695.1,293.3 695.2,293.2 695.2,293.1 696.2,282.1 696.2,282.0 696.7,265.0 696.7,264.9 696.7,264.8 694.2,252.8 694.1,252.6 694.1,252.5 694.1,252.4 694.0,252.3 693.9,252.2 693.8,252.1 693.8,252.1 693.7,252.0 693.6,251.9 693.5,251.9 693.3,251.9 693.2,251.8 693.1,251.8 693.0,251.8 686.5,251.8 686.4,251.8 686.3,251.8 686.2,251.8 686.1,251.9 685.9,251.9 685.8,252.0 685.8,252.1 685.7,252.1 685.6,252.2 685.5,252.3 685.5,252.4 685.4,252.5 685.4,252.6 685.3,252.7 685.3,252.8 685.3,253.0 684.8,268.0 684.8,268.1 685.8,284.1 685.8,284.2 687.8,295.2 687.8,295.3 687.9,295.4 687.9,295.5 688.0,295.7ZM644.9,304.8 644.9,304.8 643.7,305.8 643.7,305.8 642.5,306.7 642.4,306.8 641.3,307.7 641.3,307.7 640.2,308.7 640.1,308.7 639.1,309.6 639.1,309.7 638.1,310.6 638.1,310.6 637.2,311.5 637.1,311.6 636.3,312.5 636.3,312.5 635.5,313.3 635.5,313.4 634.8,314.2 634.8,314.3 634.1,315.1 634.1,315.1 633.6,315.9 633.5,315.9 633.1,316.7 633.1,316.8 632.7,317.4 632.7,317.5 632.4,318.2 632.4,318.3 632.2,318.9 632.1,319.1 632.1,319.6 632.0,319.7 632.0,319.8 632.1,320.3 632.1,320.4 632.1,320.5 632.2,321.0 632.2,321.1 632.3,321.3 632.5,321.6 632.5,321.7 632.6,321.8 632.6,321.9 632.9,322.2 633.0,322.3 633.1,322.4 633.5,322.7 633.6,322.7 633.7,322.8 634.1,323.0 634.2,323.0 634.3,323.1 634.9,323.2 635.0,323.3 635.6,323.3 635.7,323.3 636.4,323.4 636.5,323.4 637.3,323.3 637.4,323.3 638.3,323.2 638.3,323.2 639.2,323.0 639.3,323.0 640.3,322.8 640.3,322.8 641.4,322.5 641.4,322.5 642.5,322.1 642.6,322.1 643.7,321.7 643.8,321.7 645.0,321.2 645.0,321.2 646.3,320.7 646.3,320.7 647.6,320.1 647.6,320.1 648.9,319.5 648.9,319.5 650.3,318.8 650.3,318.8 651.7,318.1 651.7,318.1 653.1,317.3 653.1,317.3 654.5,316.5 654.5,316.5 655.9,315.7 655.9,315.7 657.3,314.9 657.3,314.8 658.7,314.0 658.7,314.0 660.1,313.0 660.1,313.0 661.4,312.1 661.4,312.1 662.8,311.2 662.8,311.2 664.1,310.2 664.1,310.2 665.3,309.2 665.3,309.2 666.5,308.3 666.6,308.2 667.7,307.3 667.7,307.3 668.8,306.3 668.9,306.3 669.9,305.4 669.9,305.3 670.9,304.4 670.9,304.4 671.8,303.5 671.9,303.4 672.7,302.5 672.7,302.5 673.5,301.7 673.5,301.6 674.2,300.8 674.2,300.7 674.9,299.9 674.9,299.9 675.4,299.1 675.5,299.1 675.9,298.3 675.9,298.2 676.3,297.6 676.3,297.5 676.6,296.8 676.6,296.7 676.8,296.1 676.9,295.9 676.9,295.4 677.0,295.3 677.0,295.2 676.9,294.7 676.9,294.6 676.9,294.5 676.8,294.0 676.8,293.9 676.7,293.7 676.5,293.4 676.5,293.3 676.4,293.2 676.4,293.1 676.1,292.8 676.0,292.7 675.9,292.6 675.5,292.3 675.4,292.3 675.3,292.2 674.9,292.0 674.8,292.0 674.7,291.9 674.1,291.8 674.0,291.7 673.4,291.7 673.3,291.7 672.6,291.6 672.5,291.6 671.7,291.7 671.6,291.7 670.7,291.8 670.7,291.8 670.0,291.9 669.9,291.9 669.5,292.0 669.5,292.0 669.1,292.1 669.0,292.1 668.6,292.2 668.6,292.2 668.2,292.3 668.1,292.3 667.7,292.5 667.6,292.5 667.2,292.6 667.2,292.6 667.1,292.7 666.5,292.9 666.4,292.9 665.3,293.3 665.2,293.3 664.0,293.8 664.0,293.8 662.7,294.3 662.7,294.3 662.4,294.5 662.4,294.4 662.4,294.3 662.3,294.0 662.3,293.9 662.2,293.6 662.1,293.5 662.0,293.2 662.0,293.1 661.8,292.8 661.8,292.7 661.6,292.5 661.5,292.4 661.3,292.2 661.2,292.1 661.0,291.9 660.9,291.8 660.7,291.7 660.6,291.6 660.3,291.4 660.2,291.4 659.9,291.2 659.8,291.2 659.6,291.1 659.7,291.1 659.7,291.1 660.3,291.2 660.4,291.2 660.9,291.3 661.0,291.3 661.6,291.3 661.7,291.3 662.3,291.3 662.3,291.3 663.0,291.3 663.0,291.3 663.7,291.2 663.7,291.2 664.4,291.2 664.5,291.2 665.1,291.1 665.2,291.1 665.9,291.0 665.9,291.0 666.6,290.8 666.7,290.8 667.4,290.7 667.4,290.7 668.1,290.5 668.1,290.5 668.8,290.3 668.8,290.3 669.5,290.1 669.6,290.0 670.2,289.8 670.3,289.8 670.9,289.5 671.0,289.5 671.6,289.3 671.6,289.2 672.3,289.0 672.3,288.9 672.9,288.6 672.9,288.6 673.5,288.3 673.5,288.3 674.1,288.0 674.1,287.9 674.6,287.6 674.7,287.6 675.2,287.2 675.2,287.2 675.7,286.8 675.7,286.8 676.1,286.5 676.2,286.4 676.6,286.0 676.6,286.0 676.9,285.6 677.0,285.6 677.3,285.2 677.3,285.1 677.6,284.8 677.6,284.7 677.9,284.3 677.9,284.2 678.1,283.9 678.1,283.7 678.2,283.4 678.3,283.3 678.3,282.9 678.4,282.8 678.4,282.4 678.4,282.2 678.4,281.9 678.4,281.7 678.3,281.4 678.3,281.3 678.2,281.0 678.1,280.8 677.9,280.5 677.8,280.4 677.7,280.1 677.6,280.0 677.3,279.7 677.2,279.6 676.9,279.3 676.8,279.3 676.5,279.0 676.4,279.0 676.1,278.8 676.0,278.7 675.6,278.5 675.5,278.5 675.0,278.3 675.0,278.3 674.5,278.2 674.4,278.1 673.9,278.0 673.9,278.0 673.3,277.9 673.3,277.9 672.7,277.8 672.6,277.8 672.1,277.7 672.0,277.7 671.4,277.7 671.3,277.7 670.7,277.7 670.7,277.7 670.0,277.7 670.0,277.7 669.3,277.8 669.3,277.8 668.6,277.8 668.5,277.8 667.9,277.9 667.8,277.9 667.1,278.0 667.1,278.0 666.4,278.2 666.3,278.2 665.6,278.3 665.6,278.3 664.9,278.5 664.9,278.5 664.2,278.7 664.2,278.7 663.5,278.9 663.4,279.0 662.8,279.2 662.7,279.2 662.1,279.5 662.0,279.5 661.4,279.7 661.4,279.8 660.7,280.0 660.7,280.1 660.1,280.4 660.1,280.4 659.5,280.7 659.5,280.7 658.9,281.0 658.9,281.1 658.4,281.4 658.3,281.4 657.8,281.8 657.8,281.8 657.3,282.2 657.3,282.2 656.9,282.5 656.8,282.6 656.4,283.0 656.4,283.0 656.1,283.4 656.0,283.4 655.7,283.8 655.7,283.9 655.4,284.2 655.4,284.3 655.1,284.7 655.1,284.8 654.9,285.1 654.9,285.3 654.8,285.6 654.7,285.7 654.7,286.1 654.6,286.2 654.6,286.6 654.6,286.8 654.6,287.1 654.6,287.3 654.7,287.6 654.7,287.7 654.8,288.0 654.9,288.2 655.1,288.5 655.2,288.6 655.3,288.9 655.4,289.0 655.7,289.3 655.8,289.4 656.1,289.7 656.2,289.7 656.5,290.0 656.6,290.0 656.9,290.2 657.0,290.3 657.4,290.5 657.5,290.5 658.0,290.7 658.0,290.7 657.7,290.7 657.7,290.6 657.2,290.6 657.2,290.6 656.8,290.6 656.7,290.6 656.3,290.6 656.2,290.6 655.8,290.6 655.7,290.6 655.2,290.7 655.2,290.7 654.7,290.8 654.7,290.8 654.2,290.8 654.2,290.9 653.7,291.0 653.7,291.0 653.2,291.1 653.1,291.1 652.7,291.2 652.6,291.3 652.2,291.4 652.1,291.4 651.7,291.6 651.6,291.6 651.2,291.8 651.1,291.8 650.7,292.0 650.7,292.1 650.2,292.3 650.2,292.3 649.8,292.5 649.7,292.6 649.3,292.8 649.3,292.8 648.9,293.1 648.9,293.1 648.5,293.4 648.5,293.4 648.1,293.7 648.1,293.7 647.8,294.0 647.7,294.1 647.4,294.4 647.4,294.4 647.1,294.7 647.1,294.8 646.8,295.1 646.8,295.1 646.6,295.4 646.5,295.5 646.3,295.8 646.3,295.9 646.1,296.2 646.1,296.3 645.9,296.6 645.9,296.7 645.8,297.0 645.8,297.1 645.7,297.4 645.7,297.5 645.6,297.8 645.6,297.9 645.6,298.2 645.6,298.3 645.6,298.6 645.6,298.7 645.7,299.0 645.7,299.1 645.8,299.4 645.9,299.5 646.0,299.8 646.0,299.9 646.2,300.2 646.2,300.3 646.4,300.5 646.5,300.6 646.7,300.8 646.8,300.9 647.0,301.1 647.1,301.2 647.3,301.3 647.4,301.4 647.7,301.6 647.8,301.6 648.1,301.8 648.2,301.8 648.5,301.9 648.6,302.0 648.8,302.0 647.6,302.9 647.6,302.9 646.2,303.8 646.2,303.8Z" fill="#9664ff"/>
<path d="M740.3,205.7 747.5,207.5 754.7,205.7 760.1,200.3 765.5,193.1 769.1,185.9 761.9,181.0 740.0,184.0 734.9,188.6 727.7,193.1 725.0,196.7 724.1,200.3 725.9,203.9 733.1,203.9ZM780.0,215.0 776.0,212.0 766.0,213.0 757.0,218.0 758.0,223.0 764.0,224.0 774.0,222.0ZM692.2,219.9 692.1,219.8 692.0,219.6 691.9,219.5 691.8,219.5 691.7,219.4 691.6,219.3 691.5,219.2 691.3,219.1 691.1,219.0 691.0,219.0 690.8,218.9 690.6,218.8 690.4,218.8 690.2,218.7 690.0,218.7 689.8,218.7 689.6,218.6 689.3,218.6 689.1,218.6 688.9,218.6 688.7,218.6 688.5,218.6 688.2,218.6 688.0,218.7 687.8,218.7 687.6,218.7 687.4,218.8 687.2,218.8 687.0,218.9 686.8,219.0 686.7,219.0 686.5,219.1 686.3,219.2 686.2,219.3 686.1,219.4 686.0,219.5 685.9,219.5 685.8,219.6 685.7,219.8 685.6,219.9 685.6,220.0 685.5,220.1 685.5,220.2 685.5,220.3 685.5,220.4 685.5,220.5 685.6,220.6 685.6,220.7 685.7,220.8 685.8,221.0 685.9,221.1 686.0,221.2 686.1,221.2 686.2,221.3 686.3,221.4 686.5,221.5 686.7,221.6 686.8,221.6 687.0,221.7 687.2,221.8 687.4,221.8 687.6,221.9 687.8,221.9 688.0,221.9 688.2,222.0 688.5,222.0 688.7,222.0 688.9,222.0 689.1,222.0 689.3,222.0 689.6,222.0 689.8,221.9 690.0,221.9 690.2,221.9 690.4,221.8 690.6,221.8 690.8,221.7 691.0,221.6 691.1,221.6 691.3,221.5 691.5,221.4 691.6,221.3 691.7,221.2 691.8,221.2 691.9,221.1 692.0,221.0 692.1,220.8 692.2,220.7 692.2,220.6 692.3,220.5 692.3,220.4 692.3,220.3 692.3,220.2 692.3,220.1 692.2,220.0ZM749.0,234.0 740.0,234.0 731.0,238.0 733.0,243.0 741.0,243.0 749.0,240.0ZM694.0,293.0 695.0,282.0 695.5,265.0 693.0,253.0 686.5,253.0 686.0,268.0 687.0,284.0 689.0,295.0ZM675.8,280.0 675.5,279.8 675.1,279.6 674.6,279.4 674.1,279.3 673.6,279.2 673.1,279.1 672.5,279.0 671.9,278.9 671.3,278.9 670.7,278.9 670.0,278.9 669.4,278.9 668.7,279.0 668.0,279.1 667.3,279.2 666.6,279.3 665.9,279.5 665.2,279.7 664.5,279.9 663.8,280.1 663.2,280.3 662.5,280.6 661.9,280.8 661.2,281.1 660.6,281.4 660.1,281.7 659.5,282.1 659.0,282.4 658.5,282.7 658.1,283.1 657.7,283.5 657.3,283.8 656.9,284.2 656.7,284.6 656.4,284.9 656.2,285.3 656.0,285.6 655.9,286.0 655.8,286.4 655.8,286.7 655.8,287.0 655.9,287.3 656.0,287.7 656.1,288.0 656.3,288.2 656.6,288.5 656.9,288.7 657.2,289.0 657.5,289.2 657.9,289.4 658.4,289.6 658.9,289.7 659.4,289.8 659.9,289.9 660.5,290.0 661.1,290.1 661.7,290.1 662.3,290.1 663.0,290.1 663.6,290.1 664.3,290.0 665.0,289.9 665.7,289.8 666.4,289.7 667.1,289.5 667.8,289.3 668.5,289.1 669.2,288.9 669.8,288.7 670.5,288.4 671.1,288.2 671.8,287.9 672.4,287.6 672.9,287.3 673.5,286.9 674.0,286.6 674.5,286.3 674.9,285.9 675.3,285.5 675.7,285.2 676.1,284.8 676.3,284.4 676.6,284.1 676.8,283.7 677.0,283.4 677.1,283.0 677.2,282.6 677.2,282.3 677.2,282.0 677.1,281.7 677.0,281.3 676.9,281.0 676.7,280.8 676.4,280.5 676.1,280.3ZM660.0,292.6 659.7,292.5 659.4,292.3 659.1,292.2 658.7,292.1 658.4,292.0 658.0,291.9 657.6,291.8 657.2,291.8 656.7,291.8 656.3,291.8 655.8,291.8 655.4,291.9 654.9,291.9 654.4,292.0 654.0,292.1 653.5,292.3 653.0,292.4 652.6,292.6 652.1,292.7 651.7,292.9 651.2,293.1 650.8,293.4 650.4,293.6 650.0,293.8 649.6,294.1 649.2,294.4 648.9,294.6 648.6,294.9 648.3,295.2 648.0,295.5 647.8,295.8 647.5,296.1 647.3,296.4 647.2,296.7 647.0,297.1 646.9,297.4 646.9,297.7 646.8,298.0 646.8,298.2 646.8,298.5 646.9,298.8 647.0,299.1 647.1,299.3 647.2,299.6 647.4,299.8 647.6,300.0 647.8,300.2 648.0,300.4 648.3,300.5 648.6,300.7 648.9,300.8 649.3,300.9 649.6,301.0 650.0,301.1 650.4,301.2 650.8,301.2 651.3,301.2 651.7,301.2 652.2,301.2 652.4,301.2 652.3,301.2 651.0,302.0 649.6,303.0 648.3,303.9 646.9,304.8 645.7,305.8 644.4,306.7 643.2,307.7 642.1,308.6 641.0,309.6 639.9,310.5 638.9,311.5 638.0,312.4 637.2,313.3 636.4,314.1 635.7,315.0 635.1,315.8 634.6,316.6 634.1,317.3 633.8,318.0 633.5,318.6 633.3,319.2 633.2,319.8 633.3,320.3 633.3,320.7 633.5,321.1 633.8,321.4 634.2,321.7 634.6,321.9 635.2,322.1 635.8,322.1 636.5,322.2 637.3,322.1 638.1,322.0 639.0,321.8 640.0,321.6 641.1,321.3 642.2,321.0 643.3,320.6 644.5,320.1 645.8,319.6 647.1,319.0 648.4,318.4 649.7,317.7 651.1,317.0 652.5,316.3 653.9,315.5 655.3,314.7 656.7,313.8 658.0,313.0 659.4,312.0 660.7,311.1 662.1,310.2 663.3,309.2 664.6,308.3 665.8,307.3 666.9,306.4 668.0,305.4 669.1,304.5 670.1,303.5 671.0,302.6 671.8,301.7 672.6,300.9 673.3,300.0 673.9,299.2 674.4,298.4 674.9,297.7 675.2,297.0 675.5,296.4 675.7,295.8 675.8,295.2 675.7,294.7 675.7,294.3 675.5,293.9 675.2,293.6 674.8,293.3 674.4,293.1 673.8,292.9 673.2,292.9 672.5,292.8 671.7,292.9 670.9,293.0 670.1,293.1 670.1,293.1 669.7,293.2 669.3,293.3 668.9,293.3 668.5,293.5 668.1,293.6 667.6,293.7 667.5,293.8 666.8,294.0 665.7,294.4 664.5,294.9 663.2,295.4 661.9,296.0 660.7,296.6 660.7,296.6 660.8,296.3 661.0,295.9 661.1,295.6 661.1,295.3 661.2,295.0 661.2,294.8 661.2,294.5 661.1,294.2 661.0,293.9 660.9,293.7 660.8,293.4 660.6,293.2 660.4,293.0 660.2,292.8Z" fill="#e063ff"/>
<path d="M751.0,189.5 759.0,189.0 763.0,186.0 763.5,181.0 760.0,179.0 748.0,179.3 747.2,182.0 738.0,182.5 735.7,184.0 737.0,188.6 743.9,189.3ZM771.4,216.9 771.3,216.8 771.2,216.7 771.1,216.5 771.0,216.4 770.9,216.3 770.8,216.2 770.6,216.0 770.5,215.9 770.3,215.8 770.1,215.8 769.9,215.7 769.8,215.6 769.5,215.5 769.3,215.5 769.1,215.4 768.9,215.4 768.7,215.3 768.5,215.3 768.2,215.3 768.0,215.3 767.8,215.3 767.5,215.3 767.3,215.3 767.1,215.4 766.9,215.4 766.7,215.5 766.5,215.5 766.2,215.6 766.1,215.7 765.9,215.8 765.7,215.8 765.5,215.9 765.4,216.0 765.2,216.2 765.1,216.3 765.0,216.4 764.9,216.5 764.8,216.7 764.7,216.8 764.6,216.9 764.6,217.1 764.5,217.2 764.5,217.4 764.5,217.5 764.5,217.6 764.5,217.8 764.6,217.9 764.6,218.1 764.7,218.2 764.8,218.3 764.9,218.5 765.0,218.6 765.1,218.7 765.2,218.8 765.4,219.0 765.5,219.1 765.7,219.2 765.9,219.2 766.1,219.3 766.2,219.4 766.5,219.5 766.7,219.5 766.9,219.6 767.1,219.6 767.3,219.7 767.5,219.7 767.8,219.7 768.0,219.7 768.2,219.7 768.5,219.7 768.7,219.7 768.9,219.6 769.1,219.6 769.3,219.5 769.5,219.5 769.8,219.4 769.9,219.3 770.1,219.2 770.3,219.2 770.5,219.1 770.6,219.0 770.8,218.8 770.9,218.7 771.0,218.6 771.1,218.5 771.2,218.3 771.3,218.2 771.4,218.1 771.4,217.9 771.5,217.8 771.5,217.6 771.5,217.5 771.5,217.4 771.5,217.2 771.4,217.1ZM743.9,237.9 743.8,237.7 743.7,237.5 743.6,237.4 743.5,237.2 743.3,237.1 743.2,237.0 743.0,236.9 742.8,236.7 742.6,236.6 742.4,236.5 742.2,236.4 742.0,236.3 741.8,236.3 741.5,236.2 741.3,236.1 741.0,236.1 740.8,236.0 740.5,236.0 740.3,236.0 740.0,236.0 739.7,236.0 739.5,236.0 739.2,236.0 739.0,236.1 738.7,236.1 738.5,236.2 738.2,236.3 738.0,236.3 737.8,236.4 737.6,236.5 737.4,236.6 737.2,236.7 737.0,236.9 736.8,237.0 736.7,237.1 736.5,237.2 736.4,237.4 736.3,237.5 736.2,237.7 736.1,237.9 736.1,238.0 736.0,238.2 736.0,238.3 736.0,238.5 736.0,238.7 736.0,238.8 736.1,239.0 736.1,239.1 736.2,239.3 736.3,239.5 736.4,239.6 736.5,239.8 736.7,239.9 736.8,240.0 737.0,240.1 737.2,240.3 737.4,240.4 737.6,240.5 737.8,240.6 738.0,240.7 738.2,240.7 738.5,240.8 738.7,240.9 739.0,240.9 739.2,241.0 739.5,241.0 739.7,241.0 740.0,241.0 740.3,241.0 740.5,241.0 740.8,241.0 741.0,240.9 741.3,240.9 741.5,240.8 741.8,240.7 742.0,240.7 742.2,240.6 742.4,240.5 742.6,240.4 742.8,240.3 743.0,240.1 743.2,240.0 743.3,239.9 743.5,239.8 743.6,239.6 743.7,239.5 743.8,239.3 743.9,239.1 743.9,239.0 744.0,238.8 744.0,238.7 744.0,238.5 744.0,238.3 744.0,238.2 743.9,238.0ZM667.1,281.1 667.0,281.1 667.0,281.0 667.0,280.9 666.9,280.8 666.9,280.7 666.8,280.7 666.7,280.6 666.7,280.5 666.6,280.5 666.5,280.4 666.4,280.4 666.3,280.3 666.2,280.3 666.1,280.2 666.0,280.2 665.9,280.2 665.8,280.1 665.7,280.1 665.5,280.1 665.4,280.1 665.3,280.1 665.2,280.1 665.1,280.1 664.9,280.1 664.8,280.1 664.7,280.2 664.6,280.2 664.5,280.2 664.4,280.3 664.3,280.3 664.2,280.4 664.1,280.4 664.0,280.5 663.9,280.5 663.9,280.6 663.8,280.7 663.7,280.7 663.7,280.8 663.6,280.9 663.6,281.0 663.6,281.1 663.5,281.1 663.5,281.2 663.5,281.3 663.5,281.4 663.5,281.5 663.5,281.6 663.5,281.7 663.6,281.7 663.6,281.8 663.6,281.9 663.7,282.0 663.7,282.0 663.8,282.1 663.9,282.2 663.9,282.3 664.0,282.3 664.1,282.4 664.2,282.4 664.3,282.5 664.4,282.5 664.5,282.6 664.6,282.6 664.7,282.6 664.8,282.7 664.9,282.7 665.1,282.7 665.2,282.7 665.3,282.7 665.4,282.7 665.5,282.7 665.7,282.7 665.8,282.7 665.9,282.6 666.0,282.6 666.1,282.6 666.2,282.5 666.3,282.5 666.4,282.4 666.5,282.4 666.6,282.3 666.7,282.3 666.7,282.2 666.8,282.1 666.9,282.0 666.9,282.0 667.0,281.9 667.0,281.8 667.0,281.7 667.1,281.7 667.1,281.6 667.1,281.5 667.1,281.4 667.1,281.3 667.1,281.2ZM654.0,308.2 653.9,308.0 653.8,307.8 653.7,307.7 653.6,307.6 653.5,307.4 653.4,307.3 653.2,307.2 653.1,307.0 652.9,306.9 652.7,306.8 652.5,306.7 652.3,306.6 652.1,306.6 651.9,306.5 651.7,306.4 651.5,306.4 651.3,306.3 651.1,306.3 650.8,306.3 650.6,306.3 650.4,306.3 650.1,306.3 649.9,306.3 649.7,306.4 649.5,306.4 649.3,306.5 649.1,306.6 648.8,306.6 648.7,306.7 648.5,306.8 648.3,306.9 648.1,307.0 648.0,307.2 647.8,307.3 647.7,307.4 647.6,307.6 647.5,307.7 647.4,307.8 647.3,308.0 647.2,308.2 647.2,308.3 647.1,308.5 647.1,308.6 647.1,308.8 647.1,309.0 647.1,309.1 647.2,309.3 647.2,309.4 647.3,309.6 647.4,309.8 647.5,309.9 647.6,310.1 647.7,310.2 647.8,310.3 648.0,310.4 648.1,310.6 648.3,310.7 648.5,310.8 648.7,310.9 648.8,311.0 649.1,311.0 649.3,311.1 649.5,311.2 649.7,311.2 649.9,311.3 650.1,311.3 650.4,311.3 650.6,311.3 650.8,311.3 651.1,311.3 651.3,311.3 651.5,311.2 651.7,311.2 651.9,311.1 652.1,311.0 652.3,311.0 652.5,310.9 652.7,310.8 652.9,310.7 653.1,310.6 653.2,310.4 653.4,310.3 653.5,310.2 653.6,310.1 653.7,309.9 653.8,309.8 653.9,309.6 654.0,309.4 654.0,309.3 654.1,309.1 654.1,309.0 654.1,308.8 654.1,308.6 654.1,308.5 654.0,308.3ZM646.5,315.2 646.5,315.1 646.4,315.0 646.4,314.9 646.3,314.9 646.3,314.8 646.2,314.7 646.1,314.6 646.0,314.5 645.9,314.5 645.8,314.4 645.7,314.4 645.6,314.3 645.5,314.3 645.4,314.2 645.2,314.2 645.1,314.2 645.0,314.1 644.9,314.1 644.7,314.1 644.6,314.1 644.5,314.1 644.3,314.1 644.2,314.1 644.1,314.2 644.0,314.2 643.8,314.2 643.7,314.3 643.6,314.3 643.5,314.4 643.4,314.4 643.3,314.5 643.2,314.5 643.1,314.6 643.0,314.7 642.9,314.8 642.9,314.9 642.8,314.9 642.8,315.0 642.7,315.1 642.7,315.2 642.6,315.3 642.6,315.4 642.6,315.5 642.6,315.6 642.6,315.7 642.6,315.8 642.6,315.9 642.7,316.0 642.7,316.1 642.8,316.2 642.8,316.3 642.9,316.4 642.9,316.4 643.0,316.5 643.1,316.6 643.2,316.7 643.3,316.7 643.4,316.8 643.5,316.8 643.6,316.9 643.7,316.9 643.8,317.0 644.0,317.0 644.1,317.0 644.2,317.1 644.3,317.1 644.5,317.1 644.6,317.1 644.7,317.1 644.9,317.1 645.0,317.1 645.1,317.0 645.2,317.0 645.4,317.0 645.5,316.9 645.6,316.9 645.7,316.8 645.8,316.8 645.9,316.7 646.0,316.7 646.1,316.6 646.2,316.5 646.3,316.4 646.3,316.4 646.4,316.3 646.4,316.2 646.5,316.1 646.5,316.0 646.6,315.9 646.6,315.8 646.6,315.7 646.6,315.6 646.6,315.5 646.6,315.4 646.6,315.3Z" fill="#ff00ff"/>
<g clip-path="url(#cr)">
<g stroke="#000" stroke-opacity="0.32" stroke-width="1">
<line x1="618.70" y1="31.5" x2="618.70" y2="414"/>
<line x1="682.45" y1="31.5" x2="682.45" y2="414"/>
<line x1="746.20" y1="31.5" x2="746.20" y2="414"/>
<line x1="809.95" y1="31.5" x2="809.95" y2="414"/>
<line x1="873.70" y1="31.5" x2="873.70" y2="414"/>
<line x1="554.55" y1="94.50" x2="936.95" y2="94.50"/>
<line x1="554.55" y1="158.20" x2="936.95" y2="158.20"/>
<line x1="554.55" y1="221.90" x2="936.95" y2="221.90"/>
<line x1="554.55" y1="285.60" x2="936.95" y2="285.60"/>
<line x1="554.55" y1="349.30" x2="936.95" y2="349.30"/>
</g>
<g fill="none" stroke="#000" stroke-width="1.1" stroke-linejoin="round" stroke-linecap="round">
<polyline points="555.0,157.4 561.2,152.1 567.6,146.3 573.8,145.4 577.0,146.5 581.2,149.0 582.2,151.1 579.7,154.2 577.0,155.7 572.8,159.9 570.7,164.1 573.8,167.2 578.0,165.1 586.4,162.0 596.8,159.9 607.2,158.8 615.7,160.9 621.9,163.0 623.0,169.3 620.9,174.5 616.7,180.8 619.9,183.9 626.1,185.0 632.4,185.0 638.7,187.1 640.8,192.3 638.7,197.5 635.5,198.6 633.5,202.8 638.7,206.9 639.7,212.2 635.5,217.4 634.1,220.5 634.5,225.8 633.5,230.0 642.9,225.8 651.2,223.7 659.6,222.6 663.8,220.5 668.0,220.5 673.2,217.4 674.2,209.0 673.2,198.6 669.0,188.1 661.7,179.8 655.4,171.4 650.2,167.2 649.1,163.0 653.2,159.9 659.6,156.7 668.0,152.6 674.2,148.4 678.4,144.2 680.5,140.0 683.0,131.2 691.4,126.0 698.7,120.8 703.9,116.6 710.2,116.6 712.2,120.8 720.7,122.8 733.2,119.7 745.8,113.4 752.0,107.2 762.5,97.7 773.0,89.4 783.4,78.9 791.8,68.5 800.2,58.0 811.5,48.2 814.4,40.3 815.2,34.8 816.2,30.8"/>
<polyline points="555.0,189.2 563.4,187.1 571.7,189.2 580.1,190.2 587.4,191.3 585.2,197.5 580.1,197.5 573.8,200.7 565.5,202.8 559.2,206.9 555.0,209.0"/>
<polyline points="555.0,227.8 557.1,229.9 561.1,239.7 565.2,246.2 566.0,252.8 570.9,256.0 575.8,259.3 578.2,263.4 577.5,266.7 572.6,264.2 569.2,261.8 564.4,260.1 559.5,259.3 556.2,260.9 555.0,260.6"/>
<polyline points="555.0,269.1 559.6,268.3 564.4,267.5 570.9,266.7 575.8,269.1 578.2,273.2 577.5,275.7 570.9,278.1 564.4,280.6 557.9,282.2 555.0,283.0"/>
<polyline points="555.0,284.5 559.5,283.0 570.9,282.2 575.8,283.8 580.8,285.4 583.2,286.3 579.1,288.7 575.8,292.0 577.5,295.3 574.2,298.5 573.4,303.4 570.9,306.7 566.0,309.9 562.8,311.6 559.5,318.1 556.2,323.0 555.0,326.3"/>
<polyline points="837.4,30.8 834.7,42.1 835.6,51.5 833.7,60.7 832.8,73.7 834.7,81.0 839.0,75.3 844.0,72.8 847.0,74.3 850.5,77.8 853.0,81.3 855.0,77.8 854.0,73.8 851.0,71.8 847.0,69.8 845.0,65.8 844.5,62.2 841.5,55.8 841.2,49.8 842.4,45.4 845.5,40.2 850.4,39.8 857.8,39.4 865.2,42.1 869.5,47.6 867.1,42.1 863.5,35.8 860.6,30.8"/>
<polyline points="686.7,70.8 691.0,68.3 695.0,66.2 701.0,65.3 708.0,64.3 715.4,58.9 724.7,55.2 733.9,53.2 745.0,47.8 750.6,45.9 754.3,45.3 757.2,43.4 761.5,40.2 763.5,35.8 767.0,32.8 764.0,30.8"/>
<polyline points="696.9,59.8 705.0,59.3 713.6,59.8"/>
<polygon points="570.1,263.4 574.6,262.7 578.2,264.4 576.6,266.4 571.6,265.4"/>
<polygon points="682.5,253.9 685.0,253.3 686.9,255.8 684.4,257.7 681.8,256.5 682.5,253.9"/>
<polygon points="575.0,346.2 578.7,348.9 577.8,354.6 575.0,363.9 572.2,373.4 567.5,380.9 565.6,389.4 562.8,388.4 561.8,382.8 558.1,377.2 556.2,373.4 556.2,365.9 559.9,360.2 565.6,352.7 571.2,347.1"/>
<polygon points="821.4,138.9 824.6,139.8 828.4,140.1 827.8,143.0 827.8,148.1 829.1,151.9 832.9,155.7 834.8,160.9 836.3,164.0 834.2,169.8 831.0,173.6 829.1,178.7 825.2,179.3 822.7,181.2 822.1,186.4 822.7,191.5 822.1,196.6 819.5,199.7 817.6,204.8 818.2,209.3 821.0,212.9 815.7,217.0 813.8,220.8 808.4,223.3 808.0,218.2 811.2,214.4 807.4,214.4 805.5,218.2 805.5,220.1 802.9,218.2 799.1,218.9 798.5,223.3 795.3,227.2 794.0,222.1 790.8,221.4 787.3,227.2 781.9,226.5 775.5,227.2 771.7,227.4 772.3,225.2 769.8,221.4 766.6,224.0 766.0,227.2 770.4,229.7 767.9,231.6 762.8,232.9 759.0,237.4 756.0,241.8 751.3,238.6 748.1,235.4 747.5,231.6 749.4,229.7 751.3,226.5 748.7,225.9 745.6,226.5 742.4,225.0 737.3,225.9 733.5,227.2 728.3,229.1 723.9,230.3 718.2,231.6 713.7,230.3 710.5,233.5 705.4,234.8 700.3,234.8 695.2,235.4 693.9,233.5 694.6,231.0 697.7,229.7 700.3,229.1 703.5,226.5 708.8,223.3 714.3,218.9 716.9,216.3 720.1,215.0 723.9,215.0 728.3,215.7 736.0,215.0 742.4,213.8 747.5,212.5 748.7,212.1 750.7,215.0 753.8,215.0 757.0,215.7 759.6,213.8 759.0,209.9 762.8,205.5 766.6,201.7 767.9,197.2 768.5,192.7 772.3,190.2 776.2,190.2 774.2,194.0 771.1,195.9 771.7,199.1 775.5,199.7 780.0,197.2 787.6,194.0 792.7,190.2 797.8,185.1 802.9,180.6 804.8,176.2 807.4,172.3 808.7,167.2 809.3,162.1 806.1,158.9 808.7,157.0 810.0,152.6 808.0,150.6 812.5,148.1 814.4,142.4 817.6,143.0 818.9,146.2 819.5,147.5 821.4,146.8 825.2,143.0 821.4,141.7 821.4,138.9"/>
<polygon points="834.7,87.9 840.6,92.0 846.9,97.7 852.7,102.8 859.7,105.4 864.4,107.0 869.4,108.6 873.7,106.0 877.9,102.8 876.2,107.3 877.5,112.4 876.2,114.3 881.1,115.8 877.5,116.9 871.8,119.4 865.7,120.3 858.4,125.1 853.3,130.2 851.4,133.7 845.3,130.9 839.3,127.7 834.2,125.8 830.3,124.8 825.2,127.1 822.1,128.7 818.9,125.8 815.7,125.8 814.8,126.4 816.3,130.2 817.3,131.5 821.4,133.4 825.0,135.4 822.7,136.0 819.3,135.7 817.6,136.0 814.4,139.8 811.2,140.1 810.0,138.5 811.9,134.1 811.2,130.2 808.0,127.1 808.0,124.5 812.5,122.6 815.7,120.0 814.4,116.2 817.0,116.9 822.7,117.5 826.5,116.9 828.4,113.7 829.1,109.2 831.0,107.9 832.3,103.5 831.0,95.8 831.6,91.4 831.4,89.5 834.7,87.9"/>
<polygon points="694.6,235.4 691.4,236.1 687.6,239.9 685.0,240.5 681.8,241.2 678.6,242.5 676.1,243.7 678.6,246.3 677.3,248.2 680.5,250.7 679.3,252.7 682.5,250.7 685.0,248.8 686.9,246.9 685.0,249.5 686.9,252.0 685.0,252.7 688.8,254.6 687.6,257.7 685.0,262.8 685.0,266.7 685.0,269.9 688.8,269.9 690.1,266.7 691.4,265.4 692.0,269.2 690.9,273.1 693.9,271.8 696.5,267.3 699.7,267.9 700.9,261.6 702.8,256.5 704.1,252.7 706.7,248.2 708.0,246.3 703.5,244.4 704.8,241.8 704.8,239.9 701.6,239.3 697.7,239.9 694.6,235.4"/>
<polygon points="741.1,232.2 741.1,233.9 743.0,236.7 738.6,239.9 735.7,244.4 732.2,241.2 727.7,241.2 723.9,243.1 720.7,247.6 720.7,251.1 716.9,248.8 715.0,245.0 712.4,243.1 708.0,243.1 713.1,241.2 716.2,238.6 716.9,236.7 719.4,233.5 720.7,233.9 724.5,235.4 728.3,234.8 730.9,232.2 734.1,230.3 738.6,232.2 741.1,232.2"/>
<polygon points="745.6,227.2 746.2,227.8 744.3,232.2 742.4,231.6 745.6,227.2"/>
<polygon points="787.0,182.5 790.8,179.3 791.5,183.8 788.3,185.7 787.0,182.5"/>
<polygon points="879.6,110.3 883.0,106.9 887.5,102.3 889.8,100.6 894.2,101.8 892.0,102.9 888.6,103.5 885.2,106.9 881.7,110.3"/>
<polygon points="897.9,100.6 902.4,96.6 907.0,93.8 910.4,89.7 912.7,90.9 916.2,90.3 921.9,87.5 923.6,89.2 920.7,90.9 915.0,92.0 911.6,94.3 905.9,97.8 900.1,101.2"/>
<polygon points="930.5,87.5 933.2,84.6 937.9,81.2 938.4,82.3 934.5,85.7 931.5,87.7"/>
<polygon points="708.5,90.3 712.0,89.3 716.0,90.3 717.5,92.8 716.0,95.3 714.0,97.3 713.0,99.8 710.5,98.8 711.0,95.8 708.5,93.8 707.5,91.8"/>
<polygon points="652.5,335.5 653.8,331.1 657.0,327.9 660.8,326.0 659.5,329.1 655.7,331.7 654.4,334.9" fill="#000"/>
<polygon points="672.2,309.4 675.4,307.5 678.6,304.9 676.1,305.6 673.5,307.5" fill="#000"/>
<polygon points="693.3,280.7 695.2,278.1 695.8,275.0 694.6,276.9" fill="#000"/>
<polygon points="672.2,232.2 675.4,225.9 674.2,225.6 672.2,230.3 672.2,232.2" fill="#000"/>
<polyline points="616.6,181.3 620.5,184.5 625.7,184.5 632.2,185.8 638.8,186.5 641.4,189.1 640.1,194.3 641.4,197.0 634.9,199.6 633.6,203.5 638.8,207.4 640.1,211.3 637.5,215.3 636.2,220.5 634.9,227.0 633.6,229.9 638.8,227.0 645.4,224.4 654.5,222.4 662.2,221.1 666.2,220.5 670.0,218.8" stroke-width="2.4"/>
<polyline points="583.2,286.3 579.1,288.7 575.8,292.0 577.5,295.3 574.2,298.5 573.4,303.4 570.9,306.7 566.0,309.9 562.8,311.6 559.5,318.1" stroke-width="2.4"/>
<polyline points="681.8,241.2 678.6,242.5 676.1,243.7 678.6,246.3 677.3,248.2 680.5,250.7 679.3,252.7 682.5,250.7 685.0,248.8 686.9,246.9" stroke-width="2.4"/>
<ellipse cx="637.6" cy="242.5" rx="5.2" ry="2.1"/>
</g><g fill="#000">
<ellipse cx="668.4" cy="248.8" rx="1.4" ry="1.0"/>
<ellipse cx="670.3" cy="246.9" rx="1.2" ry="1.0"/>
<ellipse cx="676.1" cy="243.1" rx="1.0" ry="1.3"/>
<ellipse cx="679.9" cy="263.5" rx="1.2" ry="1.0"/>
<ellipse cx="683.7" cy="238.6" rx="0.8" ry="0.8"/>
<ellipse cx="632.7" cy="231.0" rx="1.2" ry="1.0"/>
<ellipse cx="631.5" cy="227.2" rx="1.0" ry="1.2"/>
<ellipse cx="626.3" cy="187.6" rx="1.0" ry="1.0"/>
<ellipse cx="634.0" cy="202.9" rx="1.0" ry="1.0"/>
<ellipse cx="678.6" cy="237.4" rx="1.5" ry="1.2"/>
<ellipse cx="667.2" cy="251.4" rx="2.2" ry="1.5"/>
<ellipse cx="688.8" cy="281.3" rx="1.8" ry="1.6"/>
<ellipse cx="669.1" cy="313.9" rx="1.4" ry="1.2"/>
<ellipse cx="664.6" cy="319.6" rx="1.4" ry="1.0"/>
<ellipse cx="622.5" cy="352.7" rx="1.8" ry="1.5"/>
<ellipse cx="608.5" cy="356.6" rx="2.2" ry="1.6"/>
<ellipse cx="604.0" cy="358.5" rx="2.0" ry="1.6"/>
<ellipse cx="723.2" cy="206.7" rx="1.6" ry="1.4"/>
<ellipse cx="825.9" cy="92.3" rx="1.3" ry="1.3"/>
<ellipse cx="802.9" cy="130.9" rx="1.2" ry="1.5"/>
<ellipse cx="802.3" cy="225.2" rx="0.9" ry="0.9"/>
<ellipse cx="896.6" cy="109.8" rx="2.0" ry="1.3"/>
<ellipse cx="560.6" cy="269.9" rx="2.2" ry="2.8"/>
<ellipse cx="608.9" cy="91.2" rx="2.6" ry="1.2"/>
<ellipse cx="641.3" cy="111.6" rx="2.3" ry="1.6"/>
<ellipse cx="668.2" cy="108.0" rx="2.2" ry="1.8"/>
<ellipse cx="617.3" cy="117.1" rx="1.4" ry="1.6"/>
<ellipse cx="619.5" cy="151.0" rx="2.5" ry="1.2"/>
<ellipse cx="569.5" cy="171.3" rx="2.8" ry="1.2"/>
</g>
</g>
<rect x="555.5" y="31.5" width="383" height="383" fill="none" stroke="#000" stroke-width="1.1"/>
<g font-family='"Liberation Sans", sans-serif' fill="#000">
<text x="81.0" y="96.90" font-size="9.6" text-anchor="end" textLength="18.5" lengthAdjust="spacingAndGlyphs" xml:space="preserve">45°N</text>
<text x="81.0" y="160.60" font-size="9.6" text-anchor="end" textLength="18.5" lengthAdjust="spacingAndGlyphs" xml:space="preserve">40°N</text>
<text x="81.0" y="224.30" font-size="9.6" text-anchor="end" textLength="18.5" lengthAdjust="spacingAndGlyphs" xml:space="preserve">35°N</text>
<text x="81.0" y="288.00" font-size="9.6" text-anchor="end" textLength="18.5" lengthAdjust="spacingAndGlyphs" xml:space="preserve">30°N</text>
<text x="81.0" y="351.70" font-size="9.6" text-anchor="end" textLength="18.5" lengthAdjust="spacingAndGlyphs" xml:space="preserve">25°N</text>
<text x="149.40" y="424.6" font-size="9.6" text-anchor="middle" textLength="22.7" lengthAdjust="spacingAndGlyphs" xml:space="preserve">125°E</text>
<text x="213.15" y="424.6" font-size="9.6" text-anchor="middle" textLength="22.7" lengthAdjust="spacingAndGlyphs" xml:space="preserve">130°E</text>
<text x="276.90" y="424.6" font-size="9.6" text-anchor="middle" textLength="22.7" lengthAdjust="spacingAndGlyphs" xml:space="preserve">135°E</text>
<text x="340.65" y="424.6" font-size="9.6" text-anchor="middle" textLength="22.7" lengthAdjust="spacingAndGlyphs" xml:space="preserve">140°E</text>
<text x="404.40" y="424.6" font-size="9.6" text-anchor="middle" textLength="22.7" lengthAdjust="spacingAndGlyphs" xml:space="preserve">145°E</text>
<text x="551.0" y="96.90" font-size="9.6" text-anchor="end" textLength="18.5" lengthAdjust="spacingAndGlyphs" xml:space="preserve">45°N</text>
<text x="551.0" y="160.60" font-size="9.6" text-anchor="end" textLength="18.5" lengthAdjust="spacingAndGlyphs" xml:space="preserve">40°N</text>
<text x="551.0" y="224.30" font-size="9.6" text-anchor="end" textLength="18.5" lengthAdjust="spacingAndGlyphs" xml:space="preserve">35°N</text>
<text x="551.0" y="288.00" font-size="9.6" text-anchor="end" textLength="18.5" lengthAdjust="spacingAndGlyphs" xml:space="preserve">30°N</text>
<text x="551.0" y="351.70" font-size="9.6" text-anchor="end" textLength="18.5" lengthAdjust="spacingAndGlyphs" xml:space="preserve">25°N</text>
<text x="618.70" y="424.6" font-size="9.6" text-anchor="middle" textLength="22.7" lengthAdjust="spacingAndGlyphs" xml:space="preserve">125°E</text>
<text x="682.45" y="424.6" font-size="9.6" text-anchor="middle" textLength="22.7" lengthAdjust="spacingAndGlyphs" xml:space="preserve">130°E</text>
<text x="746.20" y="424.6" font-size="9.6" text-anchor="middle" textLength="22.7" lengthAdjust="spacingAndGlyphs" xml:space="preserve">135°E</text>
<text x="809.95" y="424.6" font-size="9.6" text-anchor="middle" textLength="22.7" lengthAdjust="spacingAndGlyphs" xml:space="preserve">140°E</text>
<text x="873.70" y="424.6" font-size="9.6" text-anchor="middle" textLength="22.7" lengthAdjust="spacingAndGlyphs" xml:space="preserve">145°E</text>
<text x="141.3" y="26" font-size="12.6" text-anchor="start" textLength="269.8" lengthAdjust="spacingAndGlyphs" xml:space="preserve">GSMAP_NRT_1HR estimates for 20250614 05</text>
<text x="601.5" y="25.8" font-size="12.6" text-anchor="start" textLength="290.5" lengthAdjust="spacingAndGlyphs" xml:space="preserve">Hourly Radar-AMeDAS analysis for 20250614 05</text>
<text x="561.5" y="406.7" font-size="10" text-anchor="start" textLength="102.7" lengthAdjust="spacingAndGlyphs" xml:space="preserve">Provided by JWA/JMA</text>
</g>
<rect x="972.0" y="48.60" width="21.6" height="36.58" fill="#d09a48"/>
<rect x="972.0" y="85.08" width="21.6" height="36.58" fill="#ff00ff"/>
<rect x="972.0" y="121.56" width="21.6" height="36.58" fill="#e063ff"/>
<rect x="972.0" y="158.04" width="21.6" height="36.58" fill="#9664ff"/>
<rect x="972.0" y="194.52" width="21.6" height="36.58" fill="#0a64ff"/>
<rect x="972.0" y="231.00" width="21.6" height="36.58" fill="#00c3ff"/>
<rect x="972.0" y="267.48" width="21.6" height="36.58" fill="#5dfcff"/>
<rect x="972.0" y="303.96" width="21.6" height="36.58" fill="#96f58c"/>
<rect x="972.0" y="340.44" width="21.6" height="36.58" fill="#ddfdc9"/>
<rect x="972.0" y="376.92" width="21.6" height="36.58" fill="#fce8bc"/>
<polygon points="972.0,48.6 993.6,48.6 982.8,30.4" fill="#000"/>
<path d="M972.0,48.6 L982.8,30.4 L993.6,48.6 L993.6,413.40 L972.0,413.40 Z" fill="none" stroke="#333" stroke-width="0.8"/>
<g font-family='"Liberation Sans", sans-serif' fill="#000">
<line x1="993.6" y1="48.60" x2="998.1" y2="48.60" stroke="#000" stroke-width="0.9"/>
<text x="1001.5" y="53.05" font-size="12.4" text-anchor="start" xml:space="preserve">50</text>
<line x1="993.6" y1="85.08" x2="998.1" y2="85.08" stroke="#000" stroke-width="0.9"/>
<text x="1001.5" y="89.53" font-size="12.4" text-anchor="start" xml:space="preserve">25</text>
<line x1="993.6" y1="121.56" x2="998.1" y2="121.56" stroke="#000" stroke-width="0.9"/>
<text x="1001.5" y="126.01" font-size="12.4" text-anchor="start" xml:space="preserve">10</text>
<line x1="993.6" y1="158.04" x2="998.1" y2="158.04" stroke="#000" stroke-width="0.9"/>
<text x="1001.5" y="162.49" font-size="12.4" text-anchor="start" xml:space="preserve">5</text>
<line x1="993.6" y1="194.52" x2="998.1" y2="194.52" stroke="#000" stroke-width="0.9"/>
<text x="1001.5" y="198.97" font-size="12.4" text-anchor="start" xml:space="preserve">4</text>
<line x1="993.6" y1="231.00" x2="998.1" y2="231.00" stroke="#000" stroke-width="0.9"/>
<text x="1001.5" y="235.45" font-size="12.4" text-anchor="start" xml:space="preserve">3</text>
<line x1="993.6" y1="267.48" x2="998.1" y2="267.48" stroke="#000" stroke-width="0.9"/>
<text x="1001.5" y="271.93" font-size="12.4" text-anchor="start" xml:space="preserve">2</text>
<line x1="993.6" y1="303.96" x2="998.1" y2="303.96" stroke="#000" stroke-width="0.9"/>
<text x="1001.5" y="308.41" font-size="12.4" text-anchor="start" xml:space="preserve">1</text>
<line x1="993.6" y1="340.44" x2="998.1" y2="340.44" stroke="#000" stroke-width="0.9"/>
<text x="1001.5" y="344.89" font-size="12.4" text-anchor="start" xml:space="preserve">0.5</text>
<line x1="993.6" y1="376.92" x2="998.1" y2="376.92" stroke="#000" stroke-width="0.9"/>
<text x="1001.5" y="381.37" font-size="12.4" text-anchor="start" xml:space="preserve">0.01</text>
<line x1="993.6" y1="413.40" x2="998.1" y2="413.40" stroke="#000" stroke-width="0.9"/>
<text x="1001.5" y="417.85" font-size="12.4" text-anchor="start" xml:space="preserve">0</text>
</g>
<rect x="810.5" y="271.5" width="105.0" height="104.0" fill="#fff"/>
<line x1="810.5" y1="375.5" x2="915.5" y2="271.5" stroke="#000" stroke-width="1"/>
<path d="M810.50,375.5 v3.5 M810.5,375.50 h-3.5 M815.75,375.5 v2 M810.5,370.30 h-2 M821.00,375.5 v2 M810.5,365.10 h-2 M826.25,375.5 v2 M810.5,359.90 h-2 M831.50,375.5 v3.5 M810.5,354.70 h-3.5 M836.75,375.5 v2 M810.5,349.50 h-2 M842.00,375.5 v2 M810.5,344.30 h-2 M847.25,375.5 v2 M810.5,339.10 h-2 M852.50,375.5 v3.5 M810.5,333.90 h-3.5 M857.75,375.5 v2 M810.5,328.70 h-2 M863.00,375.5 v2 M810.5,323.50 h-2 M868.25,375.5 v2 M810.5,318.30 h-2 M873.50,375.5 v3.5 M810.5,313.10 h-3.5 M878.75,375.5 v2 M810.5,307.90 h-2 M884.00,375.5 v2 M810.5,302.70 h-2 M889.25,375.5 v2 M810.5,297.50 h-2 M894.50,375.5 v3.5 M810.5,292.30 h-3.5 M899.75,375.5 v2 M810.5,287.10 h-2 M905.00,375.5 v2 M810.5,281.90 h-2 M910.25,375.5 v2 M810.5,276.70 h-2 M915.50,375.5 v3.5 M810.5,271.50 h-3.5" stroke="#000" stroke-width="0.8" fill="none"/>
<rect x="810.5" y="271.5" width="105.0" height="104.0" fill="none" stroke="#000" stroke-width="1"/>
<path d="M812.5,283.6h4M814.5,281.6v4M811.5,316.4h4M813.5,314.4v4M813.2,326.6h4M815.2,324.6v4M815.6,336.5h4M817.6,334.5v4M812.5,348.5h4M814.5,346.5v4M813.8,351.6h4M815.8,349.6v4M812.1,356.2h4M814.1,354.2v4M824.2,351.9h4M826.2,349.9v4M822.1,354.7h4M824.1,352.7v4M821.1,357.8h4M823.1,355.8v4M810.1,373.9h4M812.1,371.9v4M814.9,370.9h4M816.9,368.9v4M808.5,375.5h4M810.5,373.5v4M810.0,372.5h4M812.0,370.5v4M818.9,365.1h4M820.9,363.1v4M809.3,371.4h4M811.3,369.4v4M813.7,367.7h4M815.7,365.7v4M808.7,373.6h4M810.7,371.6v4M810.8,371.4h4M812.8,369.4v4M812.9,367.3h4M814.9,365.3v4M816.7,364.4h4M818.7,362.4v4M818.3,364.1h4M820.3,362.1v4M819.7,372.2h4M821.7,370.2v4M809.9,373.0h4M811.9,371.0v4M815.3,370.2h4M817.3,368.2v4M811.8,371.7h4M813.8,369.7v4M814.6,365.5h4M816.6,363.5v4M820.7,358.9h4M822.7,356.9v4M816.0,368.6h4M818.0,366.6v4M821.4,358.9h4M823.4,356.9v4M816.7,368.1h4M818.7,366.1v4M814.4,373.6h4M816.4,371.6v4M819.3,362.2h4M821.3,360.2v4M818.3,369.4h4M820.3,367.4v4M810.7,369.7h4M812.7,367.7v4M808.6,375.5h4M810.6,373.5v4M816.8,366.6h4M818.8,364.6v4M821.8,360.1h4M823.8,358.1v4M810.9,372.9h4M812.9,370.9v4M808.6,375.0h4M810.6,373.0v4M815.0,374.3h4M817.0,372.3v4M819.5,364.5h4M821.5,362.5v4M820.1,366.5h4M822.1,364.5v4M813.6,368.8h4M815.6,366.8v4M814.2,366.2h4M816.2,364.2v4M813.4,369.3h4M815.4,367.3v4M810.1,370.5h4M812.1,368.5v4M813.6,372.9h4M815.6,370.9v4M812.2,374.1h4M814.2,372.1v4M815.1,370.7h4M817.1,368.7v4M815.3,367.9h4M817.3,365.9v4M811.4,369.9h4M813.4,367.9v4M808.5,373.3h4M810.5,371.3v4M821.4,367.4h4M823.4,365.4v4M814.7,371.3h4M816.7,369.3v4M810.9,372.2h4M812.9,370.2v4M810.7,371.2h4M812.7,369.2v4M808.6,372.9h4M810.6,370.9v4M810.9,371.3h4M812.9,369.3v4M810.1,374.1h4M812.1,372.1v4M816.5,372.3h4M818.5,370.3v4M811.1,371.7h4M813.1,369.7v4M819.3,370.3h4M821.3,368.3v4M815.7,365.7h4M817.7,363.7v4M810.0,373.7h4M812.0,371.7v4M809.6,371.0h4M811.6,369.0v4M809.6,371.9h4M811.6,369.9v4M815.5,367.2h4M817.5,365.2v4M809.1,372.2h4M811.1,370.2v4M810.4,373.7h4M812.4,371.7v4M812.2,369.1h4M814.2,367.1v4M809.3,371.4h4M811.3,369.4v4M819.8,359.4h4M821.8,357.4v4M821.1,359.7h4M823.1,357.7v4M817.3,362.8h4M819.3,360.8v4M813.6,372.3h4M815.6,370.3v4M810.0,373.4h4M812.0,371.4v4M810.6,374.8h4M812.6,372.8v4M820.2,359.5h4M822.2,357.5v4M820.1,359.2h4M822.1,357.2v4M808.5,375.5h4M810.5,373.5v4M810.7,372.0h4M812.7,370.0v4M812.1,369.0h4M814.1,367.0v4M811.2,370.6h4M813.2,368.6v4M813.0,370.2h4M815.0,368.2v4M809.7,371.4h4M811.7,369.4v4M809.5,370.7h4M811.5,368.7v4M818.4,365.7h4M820.4,363.7v4M815.3,368.9h4M817.3,366.9v4M810.4,373.2h4M812.4,371.2v4M812.3,369.7h4M814.3,367.7v4M808.5,375.5h4M810.5,373.5v4M809.1,371.3h4M811.1,369.3v4M819.3,370.2h4M821.3,368.2v4M810.9,373.8h4M812.9,371.8v4M815.6,368.7h4M817.6,366.7v4M809.6,375.5h4M811.6,373.5v4M814.2,369.1h4M816.2,367.1v4M808.8,375.1h4M810.8,373.1v4M814.9,367.8h4M816.9,365.8v4M818.3,365.3h4M820.3,363.3v4M811.6,370.6h4M813.6,368.6v4M812.2,370.8h4M814.2,368.8v4M810.2,371.8h4M812.2,369.8v4M808.8,374.7h4M810.8,372.7v4M819.8,360.4h4M821.8,358.4v4M820.1,362.5h4M822.1,360.5v4M812.8,370.6h4M814.8,368.6v4M815.9,363.3h4M817.9,361.3v4M815.9,365.9h4M817.9,363.9v4M809.0,375.5h4M811.0,373.5v4M809.2,375.5h4M811.2,373.5v4M808.9,371.9h4M810.9,369.9v4M809.5,372.0h4M811.5,370.0v4M809.1,372.7h4M811.1,370.7v4M818.9,360.0h4M820.9,358.0v4M818.2,369.5h4M820.2,367.5v4M813.5,371.5h4M815.5,369.5v4M817.3,365.6h4M819.3,363.6v4M811.0,370.1h4M813.0,368.1v4M810.1,375.2h4M812.1,373.2v4M815.1,367.7h4M817.1,365.7v4M811.5,373.2h4M813.5,371.2v4M812.2,373.0h4M814.2,371.0v4M821.6,363.1h4M823.6,361.1v4M809.4,371.9h4M811.4,369.9v4M816.1,368.1h4M818.1,366.1v4M815.5,367.7h4M817.5,365.7v4M808.9,371.4h4M810.9,369.4v4M813.6,369.1h4M815.6,367.1v4M809.6,375.5h4M811.6,373.5v4M814.6,372.2h4M816.6,370.2v4M816.3,365.3h4M818.3,363.3v4M816.6,366.2h4M818.6,364.2v4M814.6,372.6h4M816.6,370.6v4M808.5,375.2h4M810.5,373.2v4M809.5,374.9h4M811.5,372.9v4M817.8,367.2h4M819.8,365.2v4M813.0,370.4h4M815.0,368.4v4M818.9,361.7h4M820.9,359.7v4M813.1,367.3h4M815.1,365.3v4M812.0,367.8h4M814.0,365.8v4M812.9,373.7h4M814.9,371.7v4M816.8,363.0h4M818.8,361.0v4M819.3,370.4h4M821.3,368.4v4M810.3,372.3h4M812.3,370.3v4M819.4,362.1h4M821.4,360.1v4M819.5,367.9h4M821.5,365.9v4M817.0,373.7h4M819.0,371.7v4M818.9,369.0h4M820.9,367.0v4M810.9,367.1h4M812.9,365.1v4M808.5,371.3h4M810.5,369.3v4M810.3,369.4h4M812.3,367.4v4M809.4,368.2h4M811.4,366.2v4M812.5,370.6h4M814.5,368.6v4M810.8,374.0h4M812.8,372.0v4M809.7,367.2h4M811.7,365.2v4M809.0,364.4h4M811.0,362.4v4M812.3,374.3h4M814.3,372.3v4M812.5,370.8h4M814.5,368.8v4M811.7,366.0h4M813.7,364.0v4M809.7,367.1h4M811.7,365.1v4M811.2,365.4h4M813.2,363.4v4M809.6,366.1h4M811.6,364.1v4M812.5,367.1h4M814.5,365.1v4M810.8,374.1h4M812.8,372.1v4M810.6,371.1h4M812.6,369.1v4M811.5,367.0h4M813.5,365.0v4M810.9,373.2h4M812.9,371.2v4M811.2,367.6h4M813.2,365.6v4M809.3,364.4h4M811.3,362.4v4M811.3,374.0h4M813.3,372.0v4M812.4,373.7h4M814.4,371.7v4M809.9,366.5h4M811.9,364.5v4M811.0,368.6h4M813.0,366.6v4M821.7,369.0h4M823.7,367.0v4M819.2,372.8h4M821.2,370.8v4M817.4,368.9h4M819.4,366.9v4M822.4,367.5h4M824.4,365.5v4M822.3,369.9h4M824.3,367.9v4M818.9,370.9h4M820.9,368.9v4M823.3,373.9h4M825.3,371.9v4M820.6,371.8h4M822.6,369.8v4M822.6,369.9h4M824.6,367.9v4M819.3,370.5h4M821.3,368.5v4M820.9,365.8h4M822.9,363.8v4M819.5,366.1h4M821.5,364.1v4" stroke="#000" stroke-width="0.8" fill="none"/>
<g font-family='"Liberation Sans", sans-serif' fill="#000">
<text x="810.50" y="386.70" font-size="7.6" text-anchor="middle" textLength="4.2" lengthAdjust="spacingAndGlyphs" xml:space="preserve">0</text>
<text x="805.50" y="378.30" font-size="7.6" text-anchor="end" textLength="4.2" lengthAdjust="spacingAndGlyphs" xml:space="preserve">0</text>
<text x="831.50" y="386.70" font-size="7.6" text-anchor="middle" textLength="8.4" lengthAdjust="spacingAndGlyphs" xml:space="preserve">20</text>
<text x="805.50" y="357.50" font-size="7.6" text-anchor="end" textLength="8.4" lengthAdjust="spacingAndGlyphs" xml:space="preserve">20</text>
<text x="852.50" y="386.70" font-size="7.6" text-anchor="middle" textLength="8.4" lengthAdjust="spacingAndGlyphs" xml:space="preserve">40</text>
<text x="805.50" y="336.70" font-size="7.6" text-anchor="end" textLength="8.4" lengthAdjust="spacingAndGlyphs" xml:space="preserve">40</text>
<text x="873.50" y="386.70" font-size="7.6" text-anchor="middle" textLength="8.4" lengthAdjust="spacingAndGlyphs" xml:space="preserve">60</text>
<text x="805.50" y="315.90" font-size="7.6" text-anchor="end" textLength="8.4" lengthAdjust="spacingAndGlyphs" xml:space="preserve">60</text>
<text x="894.50" y="386.70" font-size="7.6" text-anchor="middle" textLength="8.4" lengthAdjust="spacingAndGlyphs" xml:space="preserve">80</text>
<text x="805.50" y="295.10" font-size="7.6" text-anchor="end" textLength="8.4" lengthAdjust="spacingAndGlyphs" xml:space="preserve">80</text>
<text x="915.50" y="386.70" font-size="7.6" text-anchor="middle" textLength="12.6" lengthAdjust="spacingAndGlyphs" xml:space="preserve">100</text>
<text x="805.50" y="274.30" font-size="7.6" text-anchor="end" textLength="12.6" lengthAdjust="spacingAndGlyphs" xml:space="preserve">100</text>
<text x="863" y="398.7" font-size="10" text-anchor="middle" textLength="46" lengthAdjust="spacingAndGlyphs" xml:space="preserve">ANALYSIS</text>
<text x="0" y="0" font-size="10" text-anchor="middle" textLength="85" lengthAdjust="spacingAndGlyphs" transform="translate(785.5,324) rotate(-90)">GSMAP_NRT_1HR</text>
</g>
<rect x="74.5" y="452.5" width="82.00" height="18.0" fill="#fce8bc" stroke="#333" stroke-width="0.7"/>
<rect x="156.5" y="452.5" width="13.90" height="18.0" fill="#ddfdc9" stroke="#333" stroke-width="0.7"/>
<rect x="170.4" y="452.5" width="6.00" height="18.0" fill="#96f58c" stroke="#333" stroke-width="0.7"/>
<rect x="176.4" y="452.5" width="9.00" height="18.0" fill="#5dfcff" stroke="#333" stroke-width="0.7"/>
<rect x="185.4" y="452.5" width="5.80" height="18.0" fill="#00c3ff" stroke="#333" stroke-width="0.7"/>
<rect x="191.2" y="452.5" width="5.30" height="18.0" fill="#0a64ff" stroke="#333" stroke-width="0.7"/>
<rect x="196.5" y="452.5" width="2.90" height="18.0" fill="#9664ff" stroke="#333" stroke-width="0.7"/>
<rect x="199.4" y="452.5" width="5.90" height="18.0" fill="#e063ff" stroke="#333" stroke-width="0.7"/>
<rect x="205.3" y="452.5" width="1.00" height="18.0" fill="#ff00ff" stroke="#333" stroke-width="0.7"/>
<rect x="206.3" y="452.5" width="1.00" height="18.0" fill="#000000" stroke="#333" stroke-width="0.7"/>
<rect x="74.5" y="479.5" width="60.80" height="18.0" fill="#fce8bc" stroke="#333" stroke-width="0.7"/>
<rect x="135.3" y="479.5" width="32.00" height="18.0" fill="#ddfdc9" stroke="#333" stroke-width="0.7"/>
<rect x="167.3" y="479.5" width="11.10" height="18.0" fill="#96f58c" stroke="#333" stroke-width="0.7"/>
<rect x="178.4" y="479.5" width="10.00" height="18.0" fill="#5dfcff" stroke="#333" stroke-width="0.7"/>
<rect x="188.4" y="479.5" width="5.90" height="18.0" fill="#00c3ff" stroke="#333" stroke-width="0.7"/>
<rect x="194.3" y="479.5" width="5.30" height="18.0" fill="#0a64ff" stroke="#333" stroke-width="0.7"/>
<rect x="199.6" y="479.5" width="1.50" height="18.0" fill="#9664ff" stroke="#333" stroke-width="0.7"/>
<rect x="201.1" y="479.5" width="4.30" height="18.0" fill="#e063ff" stroke="#333" stroke-width="0.7"/>
<rect x="205.4" y="479.5" width="1.90" height="18.0" fill="#ff00ff" stroke="#333" stroke-width="0.7"/>
<path d="M156.5,470.5L135.3,479.5M170.4,470.5L167.3,479.5M176.4,470.5L178.4,479.5M185.4,470.5L188.4,479.5M191.2,470.5L194.3,479.5M196.5,470.5L199.6,479.5M199.4,470.5L201.1,479.5M205.3,470.5L205.4,479.5M207.3,470.5L207.3,479.5" stroke="#333" stroke-width="0.7" fill="none"/>
<rect x="74.2" y="533.5" width="2.00" height="18.0" fill="#ddfdc9" stroke="#333" stroke-width="0.7"/>
<rect x="76.2" y="533.5" width="5.00" height="18.0" fill="#96f58c" stroke="#333" stroke-width="0.7"/>
<rect x="81.2" y="533.5" width="12.50" height="18.0" fill="#5dfcff" stroke="#333" stroke-width="0.7"/>
<rect x="93.7" y="533.5" width="14.70" height="18.0" fill="#00c3ff" stroke="#333" stroke-width="0.7"/>
<rect x="108.4" y="533.5" width="16.20" height="18.0" fill="#0a64ff" stroke="#333" stroke-width="0.7"/>
<rect x="124.6" y="533.5" width="15.90" height="18.0" fill="#9664ff" stroke="#333" stroke-width="0.7"/>
<rect x="140.5" y="533.5" width="34.90" height="18.0" fill="#e063ff" stroke="#333" stroke-width="0.7"/>
<rect x="175.4" y="533.5" width="21.20" height="18.0" fill="#ff00ff" stroke="#333" stroke-width="0.7"/>
<rect x="196.6" y="533.5" width="4.60" height="18.0" fill="#d09a48" stroke="#333" stroke-width="0.7"/>
<rect x="201.2" y="533.5" width="6.50" height="18.0" fill="#000000" stroke="#333" stroke-width="0.7"/>
<rect x="74.2" y="560.5" width="8.30" height="18.0" fill="#ddfdc9" stroke="#333" stroke-width="0.7"/>
<rect x="82.5" y="560.5" width="7.90" height="18.0" fill="#96f58c" stroke="#333" stroke-width="0.7"/>
<rect x="90.4" y="560.5" width="13.10" height="18.0" fill="#5dfcff" stroke="#333" stroke-width="0.7"/>
<rect x="103.5" y="560.5" width="13.80" height="18.0" fill="#00c3ff" stroke="#333" stroke-width="0.7"/>
<rect x="117.3" y="560.5" width="14.20" height="18.0" fill="#0a64ff" stroke="#333" stroke-width="0.7"/>
<rect x="131.5" y="560.5" width="8.80" height="18.0" fill="#9664ff" stroke="#333" stroke-width="0.7"/>
<rect x="140.3" y="560.5" width="30.00" height="18.0" fill="#e063ff" stroke="#333" stroke-width="0.7"/>
<rect x="170.3" y="560.5" width="16.10" height="18.0" fill="#ff00ff" stroke="#333" stroke-width="0.7"/>
<path d="M76.2,551.5L82.5,560.5M81.2,551.5L90.4,560.5M93.7,551.5L103.5,560.5M108.4,551.5L117.3,560.5M124.6,551.5L131.5,560.5M175.4,551.5L170.3,560.5M196.6,551.5L186.4,560.5M201.2,551.5L186.4,560.5M207.7,551.5L186.4,560.5" stroke="#333" stroke-width="0.7" fill="none"/>
<path d="M74.5,551.5V560.5M140.4,551.5V560.5" stroke="#aaa" stroke-width="1" fill="none"/>
<g font-family='"Liberation Sans", sans-serif' fill="#000">
<text x="68.7" y="447" font-size="10.4" text-anchor="start" textLength="143.2" lengthAdjust="spacingAndGlyphs" xml:space="preserve">Hourly fraction by occurence</text>
<text x="47.4" y="465.8" font-size="10.4" text-anchor="start" textLength="14.6" lengthAdjust="spacingAndGlyphs" xml:space="preserve">Est</text>
<text x="47.9" y="492.7" font-size="10.4" text-anchor="start" textLength="18.1" lengthAdjust="spacingAndGlyphs" xml:space="preserve">Obs</text>
<text x="58.5" y="509.4" font-size="10.4" text-anchor="start" textLength="14" lengthAdjust="spacingAndGlyphs" xml:space="preserve">0%</text>
<text x="101.9" y="509.4" font-size="10.4" text-anchor="start" textLength="67.1" lengthAdjust="spacingAndGlyphs" xml:space="preserve">Areal fraction</text>
<text x="194.8" y="509.4" font-size="10.4" text-anchor="start" textLength="27.2" lengthAdjust="spacingAndGlyphs" xml:space="preserve">100%</text>
<text x="72.5" y="527.8" font-size="10.4" text-anchor="start" textLength="134.3" lengthAdjust="spacingAndGlyphs" xml:space="preserve">Hourly fraction of total rain</text>
<text x="47.4" y="546.7" font-size="10.4" text-anchor="start" textLength="14.6" lengthAdjust="spacingAndGlyphs" xml:space="preserve">Est</text>
<text x="47.9" y="573.6" font-size="10.4" text-anchor="start" textLength="18.1" lengthAdjust="spacingAndGlyphs" xml:space="preserve">Obs</text>
<text x="58.5" y="589.4" font-size="10.4" text-anchor="start" textLength="164.5" lengthAdjust="spacingAndGlyphs" xml:space="preserve">Rainfall accumulation by amount</text>
</g>
<path d="M277.6,478.4H401.5V573.1H277.6Z M339.3,478.4V573.1 M277.6,526.5H401.5" stroke="#000" stroke-width="1.1" fill="none"/>
<g font-family='"Liberation Sans", sans-serif' fill="#000">
<text x="296.3" y="454.9" font-size="10.4" text-anchor="start" textLength="84.7" lengthAdjust="spacingAndGlyphs" xml:space="preserve">GSMAP_NRT_1HR</text>
<text x="294" y="469.7" font-size="10.4" text-anchor="start" textLength="28.6" lengthAdjust="spacingAndGlyphs" xml:space="preserve">&lt;0.01</text>
<text x="355.8" y="469.7" font-size="10.4" text-anchor="start" textLength="27.9" lengthAdjust="spacingAndGlyphs" xml:space="preserve">≥0.01</text>
<text x="296.3" y="505.9" font-size="10.4" text-anchor="start" textLength="23.6" lengthAdjust="spacingAndGlyphs" xml:space="preserve">2209</text>
<text x="361.5" y="505.9" font-size="10.4" text-anchor="start" textLength="17.2" lengthAdjust="spacingAndGlyphs" xml:space="preserve">198</text>
<text x="299.3" y="553.2" font-size="10.4" text-anchor="start" textLength="17.2" lengthAdjust="spacingAndGlyphs" xml:space="preserve">134</text>
<text x="361.5" y="553.2" font-size="10.4" text-anchor="start" textLength="17.2" lengthAdjust="spacingAndGlyphs" xml:space="preserve">516</text>
<text x="246" y="505.9" font-size="10.4" text-anchor="start" textLength="28.6" lengthAdjust="spacingAndGlyphs" xml:space="preserve">&lt;0.01</text>
<text x="246" y="553.2" font-size="10.4" text-anchor="start" textLength="28" lengthAdjust="spacingAndGlyphs" xml:space="preserve">≥0.01</text>
<text x="0" y="0" font-size="10.4" text-anchor="middle" textLength="47" lengthAdjust="spacingAndGlyphs" transform="translate(246.6,520.5) rotate(-90)">ANALYSIS</text>
<text x="460.7" y="453.9" font-size="10.4" text-anchor="start" textLength="392.7" lengthAdjust="spacingAndGlyphs" xml:space="preserve">Validation statistics for 20250614 05  n=3057 Valid. grid=0.25° Units=mm/hr.</text>
<text x="608.9" y="474.7" font-size="10.4" text-anchor="start" textLength="46.7" lengthAdjust="spacingAndGlyphs" xml:space="preserve">ANALYSIS</text>
<text x="670.6" y="474.7" font-size="10.4" text-anchor="start" textLength="85.5" lengthAdjust="spacingAndGlyphs" xml:space="preserve">GSMAP_NRT_1HR</text>
<text x="460.7" y="498.90" font-size="10.4" text-anchor="start" textLength="126.8" lengthAdjust="spacingAndGlyphs" xml:space="preserve">Num of gridpoints raining</text>
<text x="648.6" y="498.90" font-size="10.4" text-anchor="end" xml:space="preserve">650</text>
<text x="729" y="498.90" font-size="10.4" text-anchor="end" xml:space="preserve">714</text>
<text x="460.7" y="518.62" font-size="10.4" text-anchor="start" textLength="63" lengthAdjust="spacingAndGlyphs" xml:space="preserve">Average rain</text>
<text x="648.6" y="518.62" font-size="10.4" text-anchor="end" xml:space="preserve">0.9</text>
<text x="729" y="518.62" font-size="10.4" text-anchor="end" xml:space="preserve">1.1</text>
<text x="460.7" y="538.34" font-size="10.4" text-anchor="start" textLength="79.5" lengthAdjust="spacingAndGlyphs" xml:space="preserve">Conditional rain</text>
<text x="648.6" y="538.34" font-size="10.4" text-anchor="end" xml:space="preserve">4.2</text>
<text x="729" y="538.34" font-size="10.4" text-anchor="end" xml:space="preserve">4.5</text>
<text x="461.5" y="558.06" font-size="10.4" text-anchor="start" textLength="133" lengthAdjust="spacingAndGlyphs" xml:space="preserve">Rain volume (mm km²10⁶)</text>
<text x="648.6" y="558.06" font-size="10.4" text-anchor="end" xml:space="preserve">1.7</text>
<text x="729" y="558.06" font-size="10.4" text-anchor="end" xml:space="preserve">2.0</text>
<text x="460.7" y="577.78" font-size="10.4" text-anchor="start" textLength="71.5" lengthAdjust="spacingAndGlyphs" xml:space="preserve">Maximum rain</text>
<text x="648.6" y="577.78" font-size="10.4" text-anchor="end" xml:space="preserve">16.1</text>
<text x="729" y="577.78" font-size="10.4" text-anchor="end" xml:space="preserve">87.8</text>
<text x="784.3" y="471.90" font-size="10.4" textLength="114.8" lengthAdjust="spacingAndGlyphs" xml:space="preserve">Mean abs error =    0.6</text>
<text x="784.3" y="488.90" font-size="10.4" textLength="88" lengthAdjust="spacingAndGlyphs" xml:space="preserve">RMS error =    2.4</text>
<text x="784.3" y="505.90" font-size="10.4" textLength="128.7" lengthAdjust="spacingAndGlyphs" xml:space="preserve">Correlation coeff =  0.634</text>
<text x="784.3" y="522.90" font-size="10.4" textLength="121" lengthAdjust="spacingAndGlyphs" xml:space="preserve">Frequency bias =  1.098</text>
<text x="784.3" y="539.90" font-size="10.4" textLength="161.9" lengthAdjust="spacingAndGlyphs" xml:space="preserve">Probability of detection =  0.794</text>
<text x="784.3" y="556.90" font-size="10.4" textLength="129" lengthAdjust="spacingAndGlyphs" xml:space="preserve">False alarm ratio =  0.277</text>
<text x="784.3" y="573.90" font-size="10.4" textLength="170.5" lengthAdjust="spacingAndGlyphs" xml:space="preserve">Hanssen &amp; Kuipers score =  0.712</text>
<text x="784.3" y="590.90" font-size="10.4" textLength="156.1" lengthAdjust="spacingAndGlyphs" xml:space="preserve">Equitable threat score =  0.523</text>
</g>
<path d="M456.7,457.5H996.7M456.7,480H758" stroke="#000" stroke-width="0.9" stroke-dasharray="3,1.6" fill="none"/>
</svg></body></html>
